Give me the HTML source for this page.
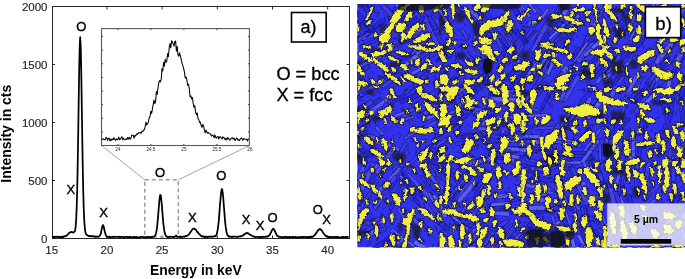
<!DOCTYPE html>
<html><head><meta charset="utf-8"><style>
html,body{margin:0;padding:0;background:#fff;}
body{width:685px;height:279px;position:relative;overflow:hidden;font-family:"Liberation Sans",sans-serif;}
</style></head><body>
<svg width="685" height="279" viewBox="0 0 685 279" style="position:absolute;left:0;top:0;will-change:transform">
<g stroke="#262626" stroke-width="1" fill="none" shape-rendering="crispEdges">
<path d="M52,6.5H349.5V238.5H52Z" stroke-width="1"/>
</g>
<path d="M106.90,238.5v-3M106.90,6.5v3M162.10,238.5v-3M162.10,6.5v3M217.30,238.5v-3M217.30,6.5v3M272.50,238.5v-3M272.50,6.5v3M327.70,238.5v-3M327.70,6.5v3M52,180.50h3M349.5,180.50h-3M52,122.50h3M349.5,122.50h-3M52,64.50h3M349.5,64.50h-3" stroke="#262626" stroke-width="1" fill="none"/>
<g font-family="Liberation Sans" font-size="11.5" fill="#262626" stroke="#262626" stroke-width="0.15">
<text x="51.70" y="253.5" text-anchor="middle">15</text>
<text x="106.90" y="253.5" text-anchor="middle">20</text>
<text x="162.10" y="253.5" text-anchor="middle">25</text>
<text x="217.30" y="253.5" text-anchor="middle">30</text>
<text x="272.50" y="253.5" text-anchor="middle">35</text>
<text x="327.70" y="253.5" text-anchor="middle">40</text>
<text x="47.5" y="242.50" text-anchor="end">0</text>
<text x="47.5" y="184.50" text-anchor="end">500</text>
<text x="47.5" y="126.50" text-anchor="end">1000</text>
<text x="47.5" y="68.50" text-anchor="end">1500</text>
<text x="47.5" y="10.50" text-anchor="end">2000</text>
</g>
<text x="195.9" y="275.0" text-anchor="middle" font-family="Liberation Sans" font-weight="bold" font-size="13.9" fill="#000">Energy in keV</text>
<text transform="translate(10.8,133.7) rotate(-90)" text-anchor="middle" font-family="Liberation Sans" font-weight="bold" font-size="14.0" fill="#000">Intensity in cts</text>
<path d="M101.5,145.5L144.8,179.8M249.4,145.5L178.3,179.8" stroke="#8c8c8c" stroke-width="0.8" fill="none"/>
<rect x="144.8" y="179.8" width="33.5" height="57" stroke="#9a9a9a" stroke-width="1.5" stroke-dasharray="4,3" fill="none"/>
<polyline points="52.20,236.94 52.70,236.81 53.20,237.16 53.70,236.75 54.20,237.07 54.70,236.94 55.20,236.72 55.70,237.03 56.20,236.69 56.70,236.96 57.20,236.70 57.70,236.71 58.20,236.93 58.70,237.20 59.20,236.70 59.70,236.76 60.20,237.03 60.70,237.24 61.20,236.96 61.70,236.81 62.20,237.19 62.70,236.50 63.20,237.02 63.70,236.56 64.20,236.36 64.70,236.21 65.20,236.18 65.70,236.31 66.20,235.58 66.70,235.52 67.20,235.15 67.70,234.51 68.20,234.15 68.70,233.32 69.20,232.84 69.70,232.52 70.20,232.51 70.70,232.09 71.20,231.88 71.70,232.05 72.20,232.03 72.70,232.05 73.20,232.53 73.70,232.51 74.20,231.99 74.70,231.49 75.20,229.65 75.70,226.17 76.20,219.14 76.70,207.15 77.20,189.77 77.70,164.42 78.20,133.91 78.70,100.49 79.20,68.60 79.70,45.98 80.20,37.24 80.70,46.13 81.20,69.07 81.70,100.43 82.20,134.36 82.70,164.76 83.20,189.88 83.70,207.83 84.20,219.70 84.70,226.80 85.20,231.12 85.70,233.36 86.20,234.18 86.70,234.95 87.20,234.91 87.70,235.62 88.20,235.78 88.70,236.19 89.20,236.20 89.70,235.94 90.20,236.10 90.70,236.39 91.20,236.00 91.70,236.37 92.20,236.22 92.70,236.23 93.20,236.23 93.70,236.76 94.20,236.35 94.70,236.45 95.20,236.57 95.70,236.92 96.20,236.38 96.70,236.64 97.20,236.70 97.70,236.91 98.20,236.83 98.70,236.76 99.20,236.14 99.70,235.80 100.20,234.95 100.70,233.96 101.20,232.06 101.70,229.13 102.20,226.82 102.70,225.29 103.20,225.14 103.70,226.66 104.20,228.99 104.70,231.18 105.20,233.07 105.70,234.86 106.20,235.75 106.70,236.41 107.20,236.94 107.70,236.89 108.20,236.84 108.70,236.96 109.20,237.03 109.70,236.62 110.20,237.23 110.70,237.17 111.20,237.25 111.70,237.21 112.20,236.93 112.70,236.95 113.20,236.75 113.70,237.13 114.20,236.74 114.70,236.75 115.20,236.85 115.70,236.82 116.20,236.95 116.70,236.75 117.20,236.72 117.70,236.83 118.20,236.80 118.70,236.99 119.20,236.75 119.70,237.35 120.20,237.17 120.70,236.85 121.20,236.92 121.70,236.99 122.20,237.00 122.70,236.84 123.20,237.34 123.70,237.45 124.20,237.08 124.70,237.09 125.20,236.82 125.70,236.83 126.20,237.00 126.70,236.94 127.20,237.34 127.70,236.87 128.20,236.78 128.70,237.43 129.20,237.13 129.70,236.86 130.20,237.14 130.70,236.78 131.20,237.13 131.70,237.45 132.20,237.36 132.70,237.25 133.20,236.94 133.70,237.02 134.20,236.88 134.70,237.30 135.20,237.13 135.70,237.30 136.20,236.99 136.70,236.91 137.20,237.32 137.70,237.44 138.20,237.35 138.70,237.31 139.20,237.32 139.70,237.26 140.20,236.90 140.70,237.10 141.20,236.99 141.70,236.75 142.20,236.75 142.70,236.92 143.20,236.90 143.70,237.20 144.20,237.38 144.70,237.02 145.20,237.36 145.70,237.39 146.20,237.36 146.70,236.94 147.20,236.83 147.70,236.82 148.20,236.79 148.70,236.78 149.20,237.06 149.70,237.24 150.20,237.18 150.70,236.91 151.20,237.00 151.70,237.08 152.20,236.54 152.70,236.90 153.20,237.00 153.70,236.79 154.20,236.56 154.70,236.00 155.20,235.13 155.70,234.43 156.20,232.29 156.70,229.86 157.20,226.10 157.70,220.68 158.20,214.72 158.70,208.71 159.20,202.53 159.70,197.42 160.20,194.90 160.70,195.21 161.20,198.73 161.70,203.71 162.20,209.42 162.70,216.26 163.20,222.17 163.70,226.74 164.20,230.16 164.70,232.85 165.20,234.22 165.70,235.15 166.20,236.41 166.70,236.52 167.20,236.61 167.70,237.00 168.20,236.71 168.70,237.06 169.20,237.06 169.70,236.66 170.20,236.70 170.70,236.75 171.20,236.73 171.70,236.98 172.20,236.76 172.70,236.88 173.20,236.69 173.70,237.23 174.20,236.82 174.70,236.74 175.20,236.33 175.70,235.90 176.20,235.47 176.70,236.43 177.20,236.70 177.70,236.93 178.20,236.95 178.70,236.60 179.20,236.88 179.70,236.70 180.20,236.56 180.70,237.10 181.20,236.65 181.70,236.84 182.20,236.99 182.70,236.84 183.20,236.65 183.70,236.73 184.20,236.69 184.70,236.77 185.20,236.19 185.70,236.37 186.20,235.97 186.70,235.76 187.20,235.83 187.70,235.29 188.20,234.91 188.70,234.56 189.20,234.10 189.70,233.14 190.20,232.58 190.70,231.78 191.20,231.05 191.70,230.46 192.20,229.63 192.70,229.13 193.20,228.68 193.70,228.77 194.20,228.58 194.70,228.89 195.20,229.32 195.70,229.37 196.20,230.22 196.70,231.20 197.20,231.86 197.70,232.09 198.20,232.77 198.70,233.64 199.20,233.95 199.70,234.57 200.20,234.89 200.70,235.66 201.20,236.04 201.70,236.35 202.20,236.02 202.70,236.56 203.20,236.63 203.70,236.35 204.20,236.93 204.70,237.03 205.20,236.55 205.70,237.08 206.20,236.72 206.70,236.79 207.20,237.15 207.70,237.05 208.20,236.58 208.70,236.77 209.20,236.83 209.70,236.70 210.20,236.60 210.70,236.67 211.20,236.94 211.70,236.43 212.20,236.78 212.70,236.68 213.20,236.35 213.70,236.51 214.20,236.64 214.70,236.43 215.20,235.89 215.70,236.14 216.20,235.33 216.70,234.36 217.20,232.02 217.70,229.55 218.20,225.78 218.70,221.56 219.20,215.43 219.70,208.82 220.20,202.34 220.70,196.58 221.20,191.87 221.70,189.06 222.20,189.26 222.70,192.71 223.20,197.48 223.70,203.86 224.20,210.14 224.70,216.52 225.20,222.55 225.70,226.88 226.20,230.02 226.70,233.03 227.20,234.41 227.70,235.53 228.20,235.63 228.70,236.52 229.20,236.18 229.70,236.86 230.20,236.65 230.70,236.62 231.20,236.80 231.70,237.09 232.20,236.66 232.70,236.58 233.20,236.87 233.70,236.68 234.20,236.60 234.70,236.65 235.20,236.58 235.70,236.68 236.20,236.76 236.70,236.75 237.20,237.06 237.70,236.72 238.20,236.84 238.70,236.58 239.20,236.65 239.70,236.35 240.20,236.42 240.70,236.13 241.20,236.47 241.70,236.14 242.20,235.64 242.70,235.54 243.20,235.52 243.70,234.57 244.20,234.67 244.70,234.00 245.20,233.66 245.70,233.56 246.20,233.00 246.70,232.94 247.20,233.05 247.70,233.38 248.20,233.17 248.70,233.83 249.20,234.12 249.70,234.48 250.20,234.72 250.70,235.06 251.20,235.21 251.70,235.57 252.20,235.79 252.70,236.48 253.20,236.31 253.70,236.38 254.20,236.43 254.70,237.04 255.20,237.12 255.70,237.02 256.20,236.78 256.70,236.78 257.20,236.83 257.70,236.96 258.20,236.76 258.70,236.97 259.20,236.84 259.70,237.34 260.20,237.35 260.70,237.05 261.20,236.84 261.70,237.34 262.20,236.88 262.70,236.91 263.20,236.66 263.70,236.92 264.20,236.97 264.70,236.98 265.20,236.75 265.70,236.94 266.20,236.56 266.70,236.68 267.20,236.47 267.70,236.54 268.20,236.06 268.70,235.69 269.20,235.39 269.70,234.66 270.20,234.03 270.70,232.96 271.20,231.98 271.70,230.78 272.20,229.83 272.70,229.26 273.20,228.67 273.70,228.87 274.20,230.02 274.70,230.43 275.20,231.97 275.70,233.05 276.20,233.67 276.70,235.09 277.20,235.81 277.70,236.13 278.20,236.56 278.70,236.85 279.20,236.53 279.70,236.89 280.20,236.94 280.70,237.21 281.20,237.21 281.70,237.25 282.20,237.09 282.70,237.32 283.20,237.19 283.70,237.20 284.20,236.88 284.70,236.75 285.20,236.83 285.70,236.99 286.20,236.82 286.70,237.34 287.20,237.15 287.70,237.20 288.20,237.20 288.70,237.24 289.20,237.11 289.70,236.77 290.20,237.33 290.70,237.29 291.20,237.12 291.70,237.15 292.20,237.24 292.70,236.82 293.20,237.29 293.70,236.95 294.20,236.83 294.70,236.96 295.20,237.29 295.70,236.92 296.20,237.29 296.70,237.46 297.20,237.12 297.70,237.04 298.20,237.11 298.70,237.25 299.20,237.31 299.70,237.20 300.20,237.22 300.70,236.82 301.20,236.87 301.70,236.94 302.20,237.28 302.70,236.97 303.20,237.15 303.70,236.76 304.20,236.79 304.70,236.93 305.20,237.21 305.70,237.21 306.20,237.20 306.70,236.92 307.20,237.07 307.70,237.02 308.20,237.01 308.70,236.76 309.20,237.28 309.70,236.77 310.20,237.29 310.70,237.21 311.20,236.51 311.70,236.73 312.20,236.87 312.70,236.81 313.20,236.23 313.70,235.81 314.20,235.40 314.70,235.46 315.20,234.40 315.70,234.01 316.20,232.98 316.70,232.47 317.20,231.97 317.70,230.61 318.20,230.38 318.70,229.57 319.20,229.43 319.70,229.13 320.20,228.88 320.70,229.66 321.20,229.89 321.70,230.24 322.20,230.99 322.70,232.13 323.20,232.90 323.70,233.54 324.20,234.10 324.70,234.84 325.20,235.31 325.70,236.08 326.20,235.81 326.70,236.58 327.20,236.83 327.70,236.46 328.20,237.12 328.70,237.04 329.20,237.22 329.70,236.83 330.20,236.92 330.70,236.95 331.20,237.39 331.70,237.12 332.20,236.97 332.70,237.02 333.20,236.93 333.70,236.77 334.20,236.82 334.70,237.34 335.20,236.96 335.70,237.42 336.20,236.94 336.70,236.96 337.20,237.13 337.70,236.91 338.20,237.04 338.70,237.45 339.20,237.41 339.70,237.36 340.20,237.23 340.70,237.43 341.20,237.46 341.70,237.18 342.20,237.30 342.70,236.84 343.20,237.32 343.70,237.12 344.20,237.33 344.70,237.26 345.20,237.01 345.70,236.85 346.20,237.46 346.70,236.90 347.20,237.14 347.70,237.06 348.20,237.02 348.70,237.33" fill="none" stroke="#000" stroke-width="1.75" stroke-linejoin="round"/>
<rect x="101.5" y="28.6" width="147.9" height="116.9" fill="#fff" stroke="#5a5a5a" stroke-width="1.1"/>
<path d="M117.90,145.5v-1.5M117.90,28.6v1.5M150.90,145.5v-1.5M150.90,28.6v1.5M183.90,145.5v-1.5M183.90,28.6v1.5M216.90,145.5v-1.5M216.90,28.6v1.5M101.5,36.60h1.5M249.4,36.60h-1.5M101.5,50.20h1.5M249.4,50.20h-1.5M101.5,63.80h1.5M249.4,63.80h-1.5M101.5,77.40h1.5M249.4,77.40h-1.5M101.5,91.00h1.5M249.4,91.00h-1.5M101.5,104.60h1.5M249.4,104.60h-1.5M101.5,118.20h1.5M249.4,118.20h-1.5M101.5,131.80h1.5M249.4,131.80h-1.5" stroke="#444" stroke-width="1" fill="none"/>
<g font-family="Liberation Sans" font-size="4.6" fill="#222" text-anchor="middle">
<text x="117.90" y="151">24</text>
<text x="150.90" y="151">24.5</text>
<text x="183.90" y="151">25</text>
<text x="216.90" y="151">25.5</text>
<text x="249.90" y="151">26</text>
</g>
<polyline points="102.00,138.53 102.80,139.57 103.60,138.94 104.40,139.73 105.20,139.78 106.00,137.81 106.80,137.59 107.60,140.46 108.40,138.40 109.20,138.28 110.00,140.95 110.80,139.05 111.60,140.33 112.40,139.01 113.20,139.56 114.00,137.77 114.80,139.48 115.60,140.29 116.40,138.99 117.20,139.75 118.00,139.45 118.80,137.16 119.60,139.68 120.40,139.00 121.20,137.85 122.00,136.76 122.80,139.85 123.60,138.28 124.40,139.14 125.20,139.67 126.00,138.93 126.80,139.64 127.60,137.44 128.40,138.92 129.20,137.33 130.00,139.16 130.80,138.75 131.60,135.27 132.40,135.17 133.20,135.21 134.00,138.16 134.80,135.49 135.60,135.96 136.40,134.03 137.20,134.50 138.00,133.37 138.80,132.59 139.60,133.07 140.40,132.33 141.20,133.19 142.00,131.15 142.80,131.54 143.60,130.10 144.40,129.73 145.20,126.62 146.00,122.16 146.80,124.92 147.60,124.00 148.40,121.92 149.20,117.85 150.00,116.84 150.80,111.18 151.60,113.36 152.40,109.11 153.20,104.40 154.00,100.00 154.80,103.51 155.60,101.85 156.40,91.45 157.20,94.47 158.00,88.03 158.80,82.55 159.60,80.63 160.40,81.83 161.20,79.68 162.00,68.58 162.80,71.00 163.60,62.29 164.40,66.09 165.20,59.31 166.00,62.32 166.80,60.90 167.60,53.60 168.40,56.80 169.20,47.57 170.00,43.47 170.80,47.89 171.60,40.71 172.40,41.90 173.20,43.91 174.00,46.18 174.80,41.57 175.60,41.05 176.40,51.10 177.20,46.41 178.00,55.00 178.80,56.20 179.60,52.81 180.40,56.05 181.20,59.23 182.00,63.21 182.80,65.57 183.60,68.17 184.40,71.82 185.20,78.01 186.00,77.01 186.80,79.49 187.60,85.31 188.40,84.13 189.20,87.85 190.00,96.73 190.80,95.82 191.60,98.95 192.40,97.48 193.20,103.42 194.00,107.29 194.80,105.62 195.60,112.37 196.40,114.70 197.20,112.87 198.00,118.72 198.80,119.51 199.60,122.60 200.40,122.16 201.20,125.81 202.00,127.34 202.80,124.48 203.60,125.93 204.40,130.40 205.20,132.88 206.00,130.00 206.80,131.87 207.60,133.28 208.40,132.60 209.20,133.41 210.00,133.71 210.80,134.46 211.60,135.92 212.40,134.98 213.20,135.67 214.00,137.68 214.80,134.77 215.60,137.31 216.40,138.20 217.20,136.65 218.00,136.48 218.80,138.97 219.60,136.85 220.40,136.79 221.20,137.87 222.00,138.99 222.80,136.79 223.60,137.72 224.40,137.85 225.20,139.81 226.00,138.38 226.80,140.00 227.60,137.50 228.40,138.18 229.20,139.38 230.00,140.29 230.80,138.74 231.60,137.96 232.40,137.63 233.20,139.14 234.00,137.96 234.80,140.20 235.60,140.34 236.40,138.04 237.20,138.41 238.00,140.31 238.80,139.75 239.60,140.35 240.40,138.76 241.20,138.04 242.00,138.63 242.80,140.39 243.60,138.61 244.40,138.89 245.20,139.15 246.00,139.18 246.80,139.17 247.60,140.93 248.40,138.34" fill="none" stroke="#000" stroke-width="1.05" stroke-linejoin="round"/>
<g font-family="Liberation Sans" font-size="13" fill="#000" stroke="#000" stroke-width="0.4" text-anchor="middle">
<text x="81.4" y="30.9">O</text>
<text x="70.8" y="193.7">X</text>
<text x="103.6" y="217.3">X</text>
<text x="160.0" y="177.0">O</text>
<text x="192.3" y="221.6">X</text>
<text x="221.3" y="179.5">O</text>
<text x="246.2" y="223.7">X</text>
<text x="260.0" y="229.7">X</text>
<text x="272.5" y="222.1">O</text>
<text x="317.9" y="214.4">O</text>
<text x="326.6" y="223.7">X</text>
</g>
<g font-family="Liberation Sans" font-size="18.2" fill="#000" stroke="#000" stroke-width="0.35">
<text x="276.4" y="80.3">O = bcc</text>
<text x="276.4" y="100.9">X = fcc</text>
</g>
<rect x="291.5" y="12.5" width="34.7" height="29.5" fill="#fff" stroke="#000" stroke-width="1.6"/>
<text x="308.6" y="33.2" text-anchor="middle" font-family="Liberation Sans" font-size="18" fill="#000" stroke="#000" stroke-width="0.3">a)</text>
<defs><clipPath id="mc"><rect x="357.2" y="4" width="327.8" height="243.5"/></clipPath><filter id="bl" x="-5%" y="-5%" width="110%" height="110%"><feGaussianBlur stdDeviation="1.2"/></filter><filter id="bl2" x="-20%" y="-20%" width="140%" height="140%"><feGaussianBlur stdDeviation="0.6"/></filter><filter id="rg" x="-5%" y="-5%" width="110%" height="110%"><feTurbulence type="fractalNoise" baseFrequency="0.3" numOctaves="2" seed="4" result="t"/><feDisplacementMap in="SourceGraphic" in2="t" scale="4.5" xChannelSelector="R" yChannelSelector="G" result="d"/><feGaussianBlur in="d" stdDeviation="0.35"/></filter></defs>
<g clip-path="url(#mc)">
<rect x="357.2" y="4" width="327.8" height="243.5" fill="#3232ee"/>
<g fill="none" stroke-linecap="round"><path d="M583.9,71.2L598.0,55.4" stroke="#12123a" stroke-opacity="0.75" stroke-width="3.7"/><path d="M583.9,71.2L598.0,55.4" stroke="#2929e0" stroke-width="2.7"/><path d="M591.6,23.7L601.1,5.8" stroke="#12123a" stroke-opacity="0.75" stroke-width="5.1"/><path d="M591.6,23.7L601.1,5.8" stroke="#4242ed" stroke-width="4.1"/><path d="M442.3,231.4L449.3,236.0" stroke="#12123a" stroke-opacity="0.75" stroke-width="3.7"/><path d="M442.3,231.4L449.3,236.0" stroke="#3737e7" stroke-width="2.7"/><path d="M361.5,47.1L379.9,37.8" stroke="#12123a" stroke-opacity="0.75" stroke-width="3.3"/><path d="M361.5,47.1L379.9,37.8" stroke="#3232e4" stroke-width="2.3"/><path d="M651.2,238.9L658.2,261.0" stroke="#12123a" stroke-opacity="0.75" stroke-width="4.5"/><path d="M651.2,238.9L658.2,261.0" stroke="#2828df" stroke-width="3.5"/><path d="M355.9,-8.4L368.1,11.6" stroke="#12123a" stroke-opacity="0.75" stroke-width="5.4"/><path d="M355.9,-8.4L368.1,11.6" stroke="#2626de" stroke-width="4.4"/><path d="M562.8,127.2L572.4,115.6" stroke="#12123a" stroke-opacity="0.75" stroke-width="5.5"/><path d="M562.8,127.2L572.4,115.6" stroke="#2626de" stroke-width="4.5"/><path d="M524.8,185.1L548.7,189.2" stroke="#12123a" stroke-opacity="0.75" stroke-width="4.8"/><path d="M524.8,185.1L548.7,189.2" stroke="#5050f4" stroke-width="3.8"/><path d="M654.2,98.6L671.6,76.9" stroke="#12123a" stroke-opacity="0.75" stroke-width="5.2"/><path d="M654.2,98.6L671.6,76.9" stroke="#3535e6" stroke-width="4.2"/><path d="M616.7,209.5L624.0,230.0" stroke="#12123a" stroke-opacity="0.75" stroke-width="4.0"/><path d="M616.7,209.5L624.0,230.0" stroke="#4040eb" stroke-width="3.0"/><path d="M549.1,29.5L567.3,5.8" stroke="#12123a" stroke-opacity="0.75" stroke-width="5.2"/><path d="M549.1,29.5L567.3,5.8" stroke="#4b4bf1" stroke-width="4.2"/><path d="M476.9,193.2L488.8,180.1" stroke="#12123a" stroke-opacity="0.75" stroke-width="5.1"/><path d="M476.9,193.2L488.8,180.1" stroke="#2727de" stroke-width="4.1"/><path d="M601.0,12.1L612.1,-2.8" stroke="#12123a" stroke-opacity="0.75" stroke-width="3.6"/><path d="M601.0,12.1L612.1,-2.8" stroke="#4848f0" stroke-width="2.6"/><path d="M513.4,154.2L526.7,156.9" stroke="#12123a" stroke-opacity="0.75" stroke-width="3.0"/><path d="M513.4,154.2L526.7,156.9" stroke="#2f2fe2" stroke-width="2.0"/><path d="M575.7,61.8L588.1,36.7" stroke="#12123a" stroke-opacity="0.75" stroke-width="4.6"/><path d="M575.7,61.8L588.1,36.7" stroke="#3636e6" stroke-width="3.6"/><path d="M651.1,86.2L658.8,76.5" stroke="#12123a" stroke-opacity="0.75" stroke-width="4.1"/><path d="M651.1,86.2L658.8,76.5" stroke="#5151f5" stroke-width="3.1"/><path d="M656.1,232.2L669.2,216.0" stroke="#12123a" stroke-opacity="0.75" stroke-width="3.8"/><path d="M656.1,232.2L669.2,216.0" stroke="#2828df" stroke-width="2.8"/><path d="M508.1,211.3L531.5,214.7" stroke="#12123a" stroke-opacity="0.75" stroke-width="5.4"/><path d="M508.1,211.3L531.5,214.7" stroke="#2d2de2" stroke-width="4.4"/><path d="M402.7,117.0L413.0,109.5" stroke="#12123a" stroke-opacity="0.75" stroke-width="4.0"/><path d="M402.7,117.0L413.0,109.5" stroke="#4343ed" stroke-width="3.0"/><path d="M508.9,89.3L528.9,67.4" stroke="#12123a" stroke-opacity="0.75" stroke-width="4.1"/><path d="M508.9,89.3L528.9,67.4" stroke="#2626de" stroke-width="3.1"/><path d="M351.3,229.3L370.2,215.1" stroke="#12123a" stroke-opacity="0.75" stroke-width="4.4"/><path d="M351.3,229.3L370.2,215.1" stroke="#2f2fe3" stroke-width="3.4"/><path d="M616.8,10.1L624.6,-6.2" stroke="#12123a" stroke-opacity="0.75" stroke-width="3.1"/><path d="M616.8,10.1L624.6,-6.2" stroke="#5353f6" stroke-width="2.1"/><path d="M423.1,26.1L439.3,40.6" stroke="#12123a" stroke-opacity="0.75" stroke-width="4.1"/><path d="M423.1,26.1L439.3,40.6" stroke="#4343ed" stroke-width="3.1"/><path d="M572.0,194.0L576.1,216.7" stroke="#12123a" stroke-opacity="0.75" stroke-width="3.5"/><path d="M572.0,194.0L576.1,216.7" stroke="#3838e8" stroke-width="2.5"/><path d="M402.7,8.1L419.5,-8.6" stroke="#12123a" stroke-opacity="0.75" stroke-width="3.4"/><path d="M402.7,8.1L419.5,-8.6" stroke="#2d2de2" stroke-width="2.4"/><path d="M461.2,185.0L475.3,168.8" stroke="#12123a" stroke-opacity="0.75" stroke-width="4.9"/><path d="M461.2,185.0L475.3,168.8" stroke="#3333e5" stroke-width="3.9"/><path d="M613.5,218.6L628.2,243.0" stroke="#12123a" stroke-opacity="0.75" stroke-width="4.8"/><path d="M613.5,218.6L628.2,243.0" stroke="#2828df" stroke-width="3.8"/><path d="M497.1,156.8L513.1,160.0" stroke="#12123a" stroke-opacity="0.75" stroke-width="4.4"/><path d="M497.1,156.8L513.1,160.0" stroke="#5858f8" stroke-width="3.4"/><path d="M618.3,230.3L626.7,251.0" stroke="#12123a" stroke-opacity="0.75" stroke-width="3.5"/><path d="M618.3,230.3L626.7,251.0" stroke="#4a4af1" stroke-width="2.5"/><path d="M629.0,168.8L630.7,156.3" stroke="#12123a" stroke-opacity="0.75" stroke-width="5.2"/><path d="M629.0,168.8L630.7,156.3" stroke="#6262fd" stroke-width="4.2"/><path d="M683.0,143.0L685.5,128.1" stroke="#12123a" stroke-opacity="0.75" stroke-width="5.3"/><path d="M683.0,143.0L685.5,128.1" stroke="#5656f7" stroke-width="4.3"/><path d="M462.9,10.5L475.5,26.2" stroke="#12123a" stroke-opacity="0.75" stroke-width="4.9"/><path d="M462.9,10.5L475.5,26.2" stroke="#3939e8" stroke-width="3.9"/><path d="M349.4,213.4L370.0,198.2" stroke="#12123a" stroke-opacity="0.75" stroke-width="3.4"/><path d="M349.4,213.4L370.0,198.2" stroke="#3030e3" stroke-width="2.4"/><path d="M615.3,42.0L623.7,24.5" stroke="#12123a" stroke-opacity="0.75" stroke-width="4.8"/><path d="M615.3,42.0L623.7,24.5" stroke="#5454f6" stroke-width="3.8"/><path d="M580.5,227.6L591.0,254.4" stroke="#12123a" stroke-opacity="0.75" stroke-width="3.2"/><path d="M580.5,227.6L591.0,254.4" stroke="#2b2be0" stroke-width="2.2"/><path d="M523.1,80.4L537.2,63.4" stroke="#12123a" stroke-opacity="0.75" stroke-width="4.3"/><path d="M523.1,80.4L537.2,63.4" stroke="#5555f7" stroke-width="3.3"/><path d="M534.6,88.8L548.4,66.1" stroke="#12123a" stroke-opacity="0.75" stroke-width="5.3"/><path d="M534.6,88.8L548.4,66.1" stroke="#2b2be0" stroke-width="4.3"/><path d="M637.3,237.2L644.6,256.5" stroke="#12123a" stroke-opacity="0.75" stroke-width="3.5"/><path d="M637.3,237.2L644.6,256.5" stroke="#3c3cea" stroke-width="2.5"/><path d="M507.6,155.7L536.5,150.6" stroke="#12123a" stroke-opacity="0.75" stroke-width="4.3"/><path d="M507.6,155.7L536.5,150.6" stroke="#3434e5" stroke-width="3.3"/><path d="M623.5,153.8L624.5,130.6" stroke="#12123a" stroke-opacity="0.75" stroke-width="3.2"/><path d="M623.5,153.8L624.5,130.6" stroke="#3d3dea" stroke-width="2.2"/><path d="M485.8,247.9L497.2,239.8" stroke="#12123a" stroke-opacity="0.75" stroke-width="4.2"/><path d="M485.8,247.9L497.2,239.8" stroke="#2828df" stroke-width="3.2"/><path d="M489.2,205.9L507.4,209.0" stroke="#12123a" stroke-opacity="0.75" stroke-width="3.8"/><path d="M489.2,205.9L507.4,209.0" stroke="#2a2ae0" stroke-width="2.8"/><path d="M555.0,224.8L567.6,246.6" stroke="#12123a" stroke-opacity="0.75" stroke-width="3.1"/><path d="M555.0,224.8L567.6,246.6" stroke="#2a2ae0" stroke-width="2.1"/><path d="M422.2,168.6L433.3,179.9" stroke="#12123a" stroke-opacity="0.75" stroke-width="4.5"/><path d="M422.2,168.6L433.3,179.9" stroke="#2727de" stroke-width="3.5"/><path d="M596.1,34.3L603.8,23.1" stroke="#12123a" stroke-opacity="0.75" stroke-width="3.5"/><path d="M596.1,34.3L603.8,23.1" stroke="#3c3ce9" stroke-width="2.5"/><path d="M489.6,94.1L509.2,93.8" stroke="#12123a" stroke-opacity="0.75" stroke-width="3.4"/><path d="M489.6,94.1L509.2,93.8" stroke="#2a2ae0" stroke-width="2.4"/><path d="M552.6,161.2L579.3,162.2" stroke="#12123a" stroke-opacity="0.75" stroke-width="4.5"/><path d="M552.6,161.2L579.3,162.2" stroke="#5656f7" stroke-width="3.5"/><path d="M422.0,176.4L437.2,199.8" stroke="#12123a" stroke-opacity="0.75" stroke-width="3.8"/><path d="M422.0,176.4L437.2,199.8" stroke="#2f2fe3" stroke-width="2.8"/><path d="M655.7,62.8L675.5,43.7" stroke="#12123a" stroke-opacity="0.75" stroke-width="3.3"/><path d="M655.7,62.8L675.5,43.7" stroke="#2c2ce1" stroke-width="2.3"/><path d="M593.0,75.9L603.9,52.0" stroke="#12123a" stroke-opacity="0.75" stroke-width="4.1"/><path d="M593.0,75.9L603.9,52.0" stroke="#5050f4" stroke-width="3.1"/><path d="M389.2,102.6L396.9,99.2" stroke="#12123a" stroke-opacity="0.75" stroke-width="3.5"/><path d="M389.2,102.6L396.9,99.2" stroke="#4747ef" stroke-width="2.5"/><path d="M656.5,254.9L666.8,238.8" stroke="#12123a" stroke-opacity="0.75" stroke-width="4.9"/><path d="M656.5,254.9L666.8,238.8" stroke="#3a3ae8" stroke-width="3.9"/><path d="M582.4,50.5L586.6,41.0" stroke="#12123a" stroke-opacity="0.75" stroke-width="3.1"/><path d="M582.4,50.5L586.6,41.0" stroke="#3d3dea" stroke-width="2.1"/><path d="M520.1,144.5L532.1,143.0" stroke="#12123a" stroke-opacity="0.75" stroke-width="3.5"/><path d="M520.1,144.5L532.1,143.0" stroke="#5454f6" stroke-width="2.5"/><path d="M686.2,240.1L691.2,232.2" stroke="#12123a" stroke-opacity="0.75" stroke-width="5.4"/><path d="M686.2,240.1L691.2,232.2" stroke="#3838e7" stroke-width="4.4"/><path d="M606.2,89.4L616.9,73.2" stroke="#12123a" stroke-opacity="0.75" stroke-width="4.1"/><path d="M606.2,89.4L616.9,73.2" stroke="#4141ec" stroke-width="3.1"/><path d="M350.6,182.4L358.4,173.3" stroke="#12123a" stroke-opacity="0.75" stroke-width="4.1"/><path d="M350.6,182.4L358.4,173.3" stroke="#4c4cf2" stroke-width="3.1"/><path d="M481.8,40.6L495.5,54.1" stroke="#12123a" stroke-opacity="0.75" stroke-width="3.0"/><path d="M481.8,40.6L495.5,54.1" stroke="#5959f9" stroke-width="2.0"/><path d="M622.0,189.5L626.3,168.1" stroke="#12123a" stroke-opacity="0.75" stroke-width="4.0"/><path d="M622.0,189.5L626.3,168.1" stroke="#4141ec" stroke-width="3.0"/><path d="M517.1,254.8L527.8,246.3" stroke="#12123a" stroke-opacity="0.75" stroke-width="5.3"/><path d="M517.1,254.8L527.8,246.3" stroke="#4c4cf2" stroke-width="4.3"/><path d="M610.6,194.5L621.6,219.9" stroke="#12123a" stroke-opacity="0.75" stroke-width="5.2"/><path d="M610.6,194.5L621.6,219.9" stroke="#4848f0" stroke-width="4.2"/><path d="M607.6,183.5L617.2,205.4" stroke="#12123a" stroke-opacity="0.75" stroke-width="3.2"/><path d="M607.6,183.5L617.2,205.4" stroke="#3131e3" stroke-width="2.2"/><path d="M503.1,-8.6L517.5,8.1" stroke="#12123a" stroke-opacity="0.75" stroke-width="4.6"/><path d="M503.1,-8.6L517.5,8.1" stroke="#2b2be1" stroke-width="3.6"/><path d="M673.3,180.1L672.8,157.6" stroke="#12123a" stroke-opacity="0.75" stroke-width="4.4"/><path d="M673.3,180.1L672.8,157.6" stroke="#3c3cea" stroke-width="3.4"/><path d="M474.6,262.8L491.9,247.1" stroke="#12123a" stroke-opacity="0.75" stroke-width="4.9"/><path d="M474.6,262.8L491.9,247.1" stroke="#6262fd" stroke-width="3.9"/><path d="M352.7,151.2L362.9,160.3" stroke="#12123a" stroke-opacity="0.75" stroke-width="4.0"/><path d="M352.7,151.2L362.9,160.3" stroke="#2626de" stroke-width="3.0"/><path d="M411.7,98.3L422.0,89.5" stroke="#12123a" stroke-opacity="0.75" stroke-width="5.3"/><path d="M411.7,98.3L422.0,89.5" stroke="#3d3dea" stroke-width="4.3"/><path d="M512.9,256.9L534.4,236.1" stroke="#12123a" stroke-opacity="0.75" stroke-width="4.6"/><path d="M512.9,256.9L534.4,236.1" stroke="#5252f5" stroke-width="3.6"/><path d="M372.7,148.2L379.4,154.2" stroke="#12123a" stroke-opacity="0.75" stroke-width="5.3"/><path d="M372.7,148.2L379.4,154.2" stroke="#2929df" stroke-width="4.3"/><path d="M504.8,32.1L517.9,49.2" stroke="#12123a" stroke-opacity="0.75" stroke-width="3.1"/><path d="M504.8,32.1L517.9,49.2" stroke="#5e5efc" stroke-width="2.1"/><path d="M485.9,132.4L501.9,133.4" stroke="#12123a" stroke-opacity="0.75" stroke-width="3.7"/><path d="M485.9,132.4L501.9,133.4" stroke="#4545ee" stroke-width="2.7"/><path d="M537.1,75.8L546.3,64.5" stroke="#12123a" stroke-opacity="0.75" stroke-width="3.0"/><path d="M537.1,75.8L546.3,64.5" stroke="#2c2ce1" stroke-width="2.0"/><path d="M356.7,39.9L372.5,34.9" stroke="#12123a" stroke-opacity="0.75" stroke-width="5.2"/><path d="M356.7,39.9L372.5,34.9" stroke="#4c4cf2" stroke-width="4.2"/><path d="M362.5,253.4L371.8,250.8" stroke="#12123a" stroke-opacity="0.75" stroke-width="5.3"/><path d="M362.5,253.4L371.8,250.8" stroke="#3636e6" stroke-width="4.3"/><path d="M507.3,255.7L519.4,240.4" stroke="#12123a" stroke-opacity="0.75" stroke-width="5.3"/><path d="M507.3,255.7L519.4,240.4" stroke="#4a4af1" stroke-width="4.3"/><path d="M501.8,256.1L518.6,243.0" stroke="#12123a" stroke-opacity="0.75" stroke-width="3.3"/><path d="M501.8,256.1L518.6,243.0" stroke="#4343ed" stroke-width="2.3"/><path d="M498.6,43.0L513.1,56.1" stroke="#12123a" stroke-opacity="0.75" stroke-width="3.3"/><path d="M498.6,43.0L513.1,56.1" stroke="#3636e6" stroke-width="2.3"/><path d="M573.5,123.7L583.4,105.4" stroke="#12123a" stroke-opacity="0.75" stroke-width="4.0"/><path d="M573.5,123.7L583.4,105.4" stroke="#4f4ff4" stroke-width="3.0"/><path d="M521.6,261.3L541.4,247.5" stroke="#12123a" stroke-opacity="0.75" stroke-width="3.6"/><path d="M521.6,261.3L541.4,247.5" stroke="#2727df" stroke-width="2.6"/><path d="M649.7,205.0L660.9,193.7" stroke="#12123a" stroke-opacity="0.75" stroke-width="3.7"/><path d="M649.7,205.0L660.9,193.7" stroke="#4747f0" stroke-width="2.7"/><path d="M530.9,148.7L555.4,150.6" stroke="#12123a" stroke-opacity="0.75" stroke-width="3.5"/><path d="M530.9,148.7L555.4,150.6" stroke="#2c2ce1" stroke-width="2.5"/><path d="M681.6,236.1L688.5,230.5" stroke="#12123a" stroke-opacity="0.75" stroke-width="3.2"/><path d="M681.6,236.1L688.5,230.5" stroke="#2d2de2" stroke-width="2.2"/><path d="M485.6,159.2L505.3,156.4" stroke="#12123a" stroke-opacity="0.75" stroke-width="3.2"/><path d="M485.6,159.2L505.3,156.4" stroke="#2727de" stroke-width="2.2"/><path d="M576.4,145.5L586.2,132.6" stroke="#12123a" stroke-opacity="0.75" stroke-width="4.2"/><path d="M576.4,145.5L586.2,132.6" stroke="#2b2be0" stroke-width="3.2"/><path d="M463.9,192.4L471.2,186.0" stroke="#12123a" stroke-opacity="0.75" stroke-width="3.3"/><path d="M463.9,192.4L471.2,186.0" stroke="#5252f5" stroke-width="2.3"/><path d="M559.2,187.7L567.4,203.0" stroke="#12123a" stroke-opacity="0.75" stroke-width="3.6"/><path d="M559.2,187.7L567.4,203.0" stroke="#5252f5" stroke-width="2.6"/><path d="M468.8,163.9L483.6,167.4" stroke="#12123a" stroke-opacity="0.75" stroke-width="4.4"/><path d="M468.8,163.9L483.6,167.4" stroke="#4c4cf2" stroke-width="3.4"/><path d="M665.0,112.4L664.9,102.3" stroke="#12123a" stroke-opacity="0.75" stroke-width="5.2"/><path d="M665.0,112.4L664.9,102.3" stroke="#2727de" stroke-width="4.2"/><path d="M369.0,135.9L387.8,149.3" stroke="#12123a" stroke-opacity="0.75" stroke-width="3.7"/><path d="M369.0,135.9L387.8,149.3" stroke="#4f4ff3" stroke-width="2.7"/><path d="M371.4,53.7L380.6,50.4" stroke="#12123a" stroke-opacity="0.75" stroke-width="3.8"/><path d="M371.4,53.7L380.6,50.4" stroke="#4b4bf1" stroke-width="2.8"/><path d="M583.9,77.1L590.8,62.8" stroke="#12123a" stroke-opacity="0.75" stroke-width="4.8"/><path d="M583.9,77.1L590.8,62.8" stroke="#3232e4" stroke-width="3.8"/><path d="M380.5,190.3L399.8,169.7" stroke="#12123a" stroke-opacity="0.75" stroke-width="5.3"/><path d="M380.5,190.3L399.8,169.7" stroke="#5b5bfa" stroke-width="4.3"/><path d="M492.3,204.8L507.3,203.6" stroke="#12123a" stroke-opacity="0.75" stroke-width="4.0"/><path d="M492.3,204.8L507.3,203.6" stroke="#5d5dfb" stroke-width="3.0"/><path d="M651.9,67.9L660.1,54.2" stroke="#12123a" stroke-opacity="0.75" stroke-width="3.9"/><path d="M651.9,67.9L660.1,54.2" stroke="#3434e5" stroke-width="2.9"/><path d="M475.1,36.9L490.0,57.7" stroke="#12123a" stroke-opacity="0.75" stroke-width="4.4"/><path d="M475.1,36.9L490.0,57.7" stroke="#5454f6" stroke-width="3.4"/><path d="M533.6,53.0L551.3,32.1" stroke="#12123a" stroke-opacity="0.75" stroke-width="3.7"/><path d="M533.6,53.0L551.3,32.1" stroke="#2626de" stroke-width="2.7"/><path d="M511.7,136.6L541.0,138.2" stroke="#12123a" stroke-opacity="0.75" stroke-width="4.6"/><path d="M511.7,136.6L541.0,138.2" stroke="#5151f5" stroke-width="3.6"/><path d="M368.3,134.7L375.5,141.4" stroke="#12123a" stroke-opacity="0.75" stroke-width="3.2"/><path d="M368.3,134.7L375.5,141.4" stroke="#4c4cf2" stroke-width="2.2"/><path d="M654.1,23.3L660.9,14.4" stroke="#12123a" stroke-opacity="0.75" stroke-width="4.9"/><path d="M654.1,23.3L660.9,14.4" stroke="#4545ee" stroke-width="3.9"/><path d="M425.3,58.4L442.6,49.3" stroke="#12123a" stroke-opacity="0.75" stroke-width="4.9"/><path d="M425.3,58.4L442.6,49.3" stroke="#3333e5" stroke-width="3.9"/><path d="M458.5,253.1L472.6,240.6" stroke="#12123a" stroke-opacity="0.75" stroke-width="4.3"/><path d="M458.5,253.1L472.6,240.6" stroke="#4a4af1" stroke-width="3.3"/><path d="M587.0,221.0L597.4,245.1" stroke="#12123a" stroke-opacity="0.75" stroke-width="4.7"/><path d="M587.0,221.0L597.4,245.1" stroke="#5656f7" stroke-width="3.7"/><path d="M622.6,197.9L628.6,226.4" stroke="#12123a" stroke-opacity="0.75" stroke-width="4.6"/><path d="M622.6,197.9L628.6,226.4" stroke="#3c3ce9" stroke-width="3.6"/><path d="M589.5,196.0L596.2,211.9" stroke="#12123a" stroke-opacity="0.75" stroke-width="3.4"/><path d="M589.5,196.0L596.2,211.9" stroke="#4c4cf2" stroke-width="2.4"/><path d="M689.5,100.1L688.4,87.7" stroke="#12123a" stroke-opacity="0.75" stroke-width="4.1"/><path d="M689.5,100.1L688.4,87.7" stroke="#2e2ee2" stroke-width="3.1"/><path d="M679.1,16.9L684.3,7.7" stroke="#12123a" stroke-opacity="0.75" stroke-width="4.6"/><path d="M679.1,16.9L684.3,7.7" stroke="#4f4ff3" stroke-width="3.6"/><path d="M404.0,20.5L418.7,5.7" stroke="#12123a" stroke-opacity="0.75" stroke-width="5.3"/><path d="M404.0,20.5L418.7,5.7" stroke="#2626de" stroke-width="4.3"/><path d="M381.5,47.9L392.8,41.3" stroke="#12123a" stroke-opacity="0.75" stroke-width="4.8"/><path d="M381.5,47.9L392.8,41.3" stroke="#4141ec" stroke-width="3.8"/><path d="M422.0,48.5L431.2,41.0" stroke="#12123a" stroke-opacity="0.75" stroke-width="4.9"/><path d="M422.0,48.5L431.2,41.0" stroke="#2f2fe3" stroke-width="3.9"/><path d="M530.6,207.9L544.4,207.8" stroke="#12123a" stroke-opacity="0.75" stroke-width="5.2"/><path d="M530.6,207.9L544.4,207.8" stroke="#5b5bfa" stroke-width="4.2"/><path d="M457.9,136.2L476.1,140.2" stroke="#12123a" stroke-opacity="0.75" stroke-width="3.6"/><path d="M457.9,136.2L476.1,140.2" stroke="#2626de" stroke-width="2.6"/><path d="M667.9,211.4L680.2,196.1" stroke="#12123a" stroke-opacity="0.75" stroke-width="4.3"/><path d="M667.9,211.4L680.2,196.1" stroke="#2d2de2" stroke-width="3.3"/><path d="M688.9,170.8L688.4,162.5" stroke="#12123a" stroke-opacity="0.75" stroke-width="4.2"/><path d="M688.9,170.8L688.4,162.5" stroke="#3232e4" stroke-width="3.2"/><path d="M622.0,186.7L623.0,175.3" stroke="#12123a" stroke-opacity="0.75" stroke-width="3.4"/><path d="M622.0,186.7L623.0,175.3" stroke="#3030e3" stroke-width="2.4"/><path d="M430.3,214.1L447.1,228.4" stroke="#12123a" stroke-opacity="0.75" stroke-width="5.5"/><path d="M430.3,214.1L447.1,228.4" stroke="#2d2de1" stroke-width="4.5"/><path d="M530.2,38.9L535.4,32.8" stroke="#12123a" stroke-opacity="0.75" stroke-width="5.1"/><path d="M530.2,38.9L535.4,32.8" stroke="#5555f7" stroke-width="4.1"/><path d="M625.5,28.7L636.9,7.8" stroke="#12123a" stroke-opacity="0.75" stroke-width="3.2"/><path d="M625.5,28.7L636.9,7.8" stroke="#3939e8" stroke-width="2.2"/><path d="M500.6,252.8L520.0,234.3" stroke="#12123a" stroke-opacity="0.75" stroke-width="3.8"/><path d="M500.6,252.8L520.0,234.3" stroke="#5050f4" stroke-width="2.8"/><path d="M485.2,244.3L500.0,222.7" stroke="#12123a" stroke-opacity="0.75" stroke-width="3.5"/><path d="M485.2,244.3L500.0,222.7" stroke="#3d3dea" stroke-width="2.5"/><path d="M524.8,43.2L534.8,32.1" stroke="#12123a" stroke-opacity="0.75" stroke-width="3.8"/><path d="M524.8,43.2L534.8,32.1" stroke="#2727de" stroke-width="2.8"/><path d="M447.4,121.0L461.7,114.1" stroke="#12123a" stroke-opacity="0.75" stroke-width="4.7"/><path d="M447.4,121.0L461.7,114.1" stroke="#2727de" stroke-width="3.7"/><path d="M472.0,113.3L497.6,119.0" stroke="#12123a" stroke-opacity="0.75" stroke-width="4.6"/><path d="M472.0,113.3L497.6,119.0" stroke="#2626de" stroke-width="3.6"/><path d="M473.2,188.6L484.7,171.7" stroke="#12123a" stroke-opacity="0.75" stroke-width="4.1"/><path d="M473.2,188.6L484.7,171.7" stroke="#2626de" stroke-width="3.1"/><path d="M683.0,212.1L695.3,194.4" stroke="#12123a" stroke-opacity="0.75" stroke-width="3.7"/><path d="M683.0,212.1L695.3,194.4" stroke="#3232e4" stroke-width="2.7"/><path d="M530.4,81.1L538.8,66.8" stroke="#12123a" stroke-opacity="0.75" stroke-width="4.7"/><path d="M530.4,81.1L538.8,66.8" stroke="#2d2de1" stroke-width="3.7"/><path d="M408.3,175.5L428.5,196.0" stroke="#12123a" stroke-opacity="0.75" stroke-width="4.4"/><path d="M408.3,175.5L428.5,196.0" stroke="#4a4af1" stroke-width="3.4"/><path d="M460.6,215.1L466.3,205.6" stroke="#12123a" stroke-opacity="0.75" stroke-width="3.2"/><path d="M460.6,215.1L466.3,205.6" stroke="#4747ef" stroke-width="2.2"/><path d="M585.3,54.6L599.2,32.2" stroke="#12123a" stroke-opacity="0.75" stroke-width="4.5"/><path d="M585.3,54.6L599.2,32.2" stroke="#2727de" stroke-width="3.5"/><path d="M421.3,43.3L433.7,31.7" stroke="#12123a" stroke-opacity="0.75" stroke-width="3.2"/><path d="M421.3,43.3L433.7,31.7" stroke="#5c5cfa" stroke-width="2.2"/><path d="M483.6,127.9L508.4,130.1" stroke="#12123a" stroke-opacity="0.75" stroke-width="5.1"/><path d="M483.6,127.9L508.4,130.1" stroke="#3333e5" stroke-width="4.1"/><path d="M457.1,109.0L469.5,97.7" stroke="#12123a" stroke-opacity="0.75" stroke-width="4.7"/><path d="M457.1,109.0L469.5,97.7" stroke="#6262fe" stroke-width="3.7"/><path d="M619.7,171.5L620.5,163.2" stroke="#12123a" stroke-opacity="0.75" stroke-width="3.8"/><path d="M619.7,171.5L620.5,163.2" stroke="#3131e3" stroke-width="2.8"/><path d="M567.6,32.6L577.5,16.2" stroke="#12123a" stroke-opacity="0.75" stroke-width="5.0"/><path d="M567.6,32.6L577.5,16.2" stroke="#5353f6" stroke-width="4.0"/><path d="M550.1,48.4L568.2,27.3" stroke="#12123a" stroke-opacity="0.75" stroke-width="4.4"/><path d="M550.1,48.4L568.2,27.3" stroke="#3131e4" stroke-width="3.4"/><path d="M511.7,45.1L530.5,22.1" stroke="#12123a" stroke-opacity="0.75" stroke-width="4.3"/><path d="M511.7,45.1L530.5,22.1" stroke="#4a4af1" stroke-width="3.3"/><path d="M628.1,55.6L643.4,40.2" stroke="#12123a" stroke-opacity="0.75" stroke-width="3.5"/><path d="M628.1,55.6L643.4,40.2" stroke="#2727de" stroke-width="2.5"/><path d="M426.8,149.1L440.5,142.4" stroke="#12123a" stroke-opacity="0.75" stroke-width="5.3"/><path d="M426.8,149.1L440.5,142.4" stroke="#3232e4" stroke-width="4.3"/><path d="M506.0,24.1L510.8,33.9" stroke="#12123a" stroke-opacity="0.75" stroke-width="5.3"/><path d="M506.0,24.1L510.8,33.9" stroke="#3d3dea" stroke-width="4.3"/><path d="M527.8,142.6L555.7,140.5" stroke="#12123a" stroke-opacity="0.75" stroke-width="5.5"/><path d="M527.8,142.6L555.7,140.5" stroke="#5252f5" stroke-width="4.5"/><path d="M550.9,34.0L560.5,23.3" stroke="#12123a" stroke-opacity="0.75" stroke-width="5.2"/><path d="M550.9,34.0L560.5,23.3" stroke="#2c2ce1" stroke-width="4.2"/><path d="M536.2,212.7L556.1,210.0" stroke="#12123a" stroke-opacity="0.75" stroke-width="3.2"/><path d="M536.2,212.7L556.1,210.0" stroke="#2626de" stroke-width="2.2"/><path d="M404.4,243.0L418.7,260.3" stroke="#12123a" stroke-opacity="0.75" stroke-width="3.8"/><path d="M404.4,243.0L418.7,260.3" stroke="#4646ef" stroke-width="2.8"/><path d="M594.7,105.8L609.9,85.1" stroke="#12123a" stroke-opacity="0.75" stroke-width="3.0"/><path d="M594.7,105.8L609.9,85.1" stroke="#2a2ae0" stroke-width="2.0"/><path d="M503.5,26.0L516.7,41.8" stroke="#12123a" stroke-opacity="0.75" stroke-width="3.4"/><path d="M503.5,26.0L516.7,41.8" stroke="#3b3be9" stroke-width="2.4"/><path d="M431.1,149.9L449.2,137.2" stroke="#12123a" stroke-opacity="0.75" stroke-width="3.1"/><path d="M431.1,149.9L449.2,137.2" stroke="#4646ef" stroke-width="2.1"/><path d="M392.7,238.3L406.3,250.7" stroke="#12123a" stroke-opacity="0.75" stroke-width="4.0"/><path d="M392.7,238.3L406.3,250.7" stroke="#4343ed" stroke-width="3.0"/><path d="M583.3,183.6L588.2,201.6" stroke="#12123a" stroke-opacity="0.75" stroke-width="5.5"/><path d="M583.3,183.6L588.2,201.6" stroke="#5454f6" stroke-width="4.5"/><path d="M636.9,111.1L647.9,93.9" stroke="#12123a" stroke-opacity="0.75" stroke-width="5.3"/><path d="M636.9,111.1L647.9,93.9" stroke="#3c3ce9" stroke-width="4.3"/><path d="M522.2,107.1L536.9,110.0" stroke="#12123a" stroke-opacity="0.75" stroke-width="3.1"/><path d="M522.2,107.1L536.9,110.0" stroke="#4b4bf1" stroke-width="2.1"/><path d="M649.3,194.7L666.4,177.0" stroke="#12123a" stroke-opacity="0.75" stroke-width="3.8"/><path d="M649.3,194.7L666.4,177.0" stroke="#4040ec" stroke-width="2.8"/><path d="M367.2,35.9L380.6,22.3" stroke="#12123a" stroke-opacity="0.75" stroke-width="4.0"/><path d="M367.2,35.9L380.6,22.3" stroke="#2626de" stroke-width="3.0"/><path d="M584.2,139.3L591.1,126.3" stroke="#12123a" stroke-opacity="0.75" stroke-width="4.0"/><path d="M584.2,139.3L591.1,126.3" stroke="#2c2ce1" stroke-width="3.0"/><path d="M362.5,235.0L384.4,229.2" stroke="#12123a" stroke-opacity="0.75" stroke-width="5.2"/><path d="M362.5,235.0L384.4,229.2" stroke="#3535e6" stroke-width="4.2"/><path d="M618.8,62.0L632.0,46.4" stroke="#12123a" stroke-opacity="0.75" stroke-width="5.3"/><path d="M618.8,62.0L632.0,46.4" stroke="#2727de" stroke-width="4.3"/><path d="M612.7,40.8L629.3,17.1" stroke="#12123a" stroke-opacity="0.75" stroke-width="3.0"/><path d="M612.7,40.8L629.3,17.1" stroke="#2c2ce1" stroke-width="2.0"/><path d="M442.5,90.5L462.2,71.1" stroke="#12123a" stroke-opacity="0.75" stroke-width="5.0"/><path d="M442.5,90.5L462.2,71.1" stroke="#3434e5" stroke-width="4.0"/><path d="M467.6,148.8L476.2,147.3" stroke="#12123a" stroke-opacity="0.75" stroke-width="5.2"/><path d="M467.6,148.8L476.2,147.3" stroke="#2f2fe3" stroke-width="4.2"/><path d="M512.9,243.1L528.1,232.8" stroke="#12123a" stroke-opacity="0.75" stroke-width="3.5"/><path d="M512.9,243.1L528.1,232.8" stroke="#2e2ee2" stroke-width="2.5"/><path d="M658.1,239.3L673.0,217.5" stroke="#12123a" stroke-opacity="0.75" stroke-width="3.9"/><path d="M658.1,239.3L673.0,217.5" stroke="#3838e7" stroke-width="2.9"/><path d="M404.9,219.1L412.6,228.9" stroke="#12123a" stroke-opacity="0.75" stroke-width="4.6"/><path d="M404.9,219.1L412.6,228.9" stroke="#2a2ae0" stroke-width="3.6"/><path d="M646.0,20.8L656.0,-1.0" stroke="#12123a" stroke-opacity="0.75" stroke-width="3.8"/><path d="M646.0,20.8L656.0,-1.0" stroke="#5a5af9" stroke-width="2.8"/><path d="M648.6,192.6L646.2,169.4" stroke="#12123a" stroke-opacity="0.75" stroke-width="5.3"/><path d="M648.6,192.6L646.2,169.4" stroke="#3636e7" stroke-width="4.3"/><path d="M366.6,60.2L387.4,49.0" stroke="#12123a" stroke-opacity="0.75" stroke-width="3.5"/><path d="M366.6,60.2L387.4,49.0" stroke="#2a2ae0" stroke-width="2.5"/><path d="M426.1,161.7L435.0,175.2" stroke="#12123a" stroke-opacity="0.75" stroke-width="4.7"/><path d="M426.1,161.7L435.0,175.2" stroke="#5858f9" stroke-width="3.7"/><path d="M544.8,68.5L558.7,43.7" stroke="#12123a" stroke-opacity="0.75" stroke-width="4.7"/><path d="M544.8,68.5L558.7,43.7" stroke="#2d2de2" stroke-width="3.7"/><path d="M562.5,26.4L575.2,14.0" stroke="#12123a" stroke-opacity="0.75" stroke-width="4.3"/><path d="M562.5,26.4L575.2,14.0" stroke="#3c3ce9" stroke-width="3.3"/><path d="M359.7,148.3L371.3,155.2" stroke="#12123a" stroke-opacity="0.75" stroke-width="5.0"/><path d="M359.7,148.3L371.3,155.2" stroke="#2727de" stroke-width="4.0"/><path d="M442.4,187.1L452.7,196.8" stroke="#12123a" stroke-opacity="0.75" stroke-width="4.4"/><path d="M442.4,187.1L452.7,196.8" stroke="#2a2ae0" stroke-width="3.4"/><path d="M651.9,244.2L661.6,259.5" stroke="#12123a" stroke-opacity="0.75" stroke-width="4.9"/><path d="M651.9,244.2L661.6,259.5" stroke="#3333e5" stroke-width="3.9"/><path d="M668.7,136.1L666.9,115.9" stroke="#12123a" stroke-opacity="0.75" stroke-width="4.6"/><path d="M668.7,136.1L666.9,115.9" stroke="#3232e4" stroke-width="3.6"/><path d="M571.7,190.1L578.5,208.0" stroke="#12123a" stroke-opacity="0.75" stroke-width="5.1"/><path d="M571.7,190.1L578.5,208.0" stroke="#4747ef" stroke-width="4.1"/><path d="M520.5,252.6L535.5,232.4" stroke="#12123a" stroke-opacity="0.75" stroke-width="3.4"/><path d="M520.5,252.6L535.5,232.4" stroke="#4141ec" stroke-width="2.4"/><path d="M419.0,115.8L442.0,105.4" stroke="#12123a" stroke-opacity="0.75" stroke-width="5.0"/><path d="M419.0,115.8L442.0,105.4" stroke="#2c2ce1" stroke-width="4.0"/><path d="M511.7,61.7L522.9,46.4" stroke="#12123a" stroke-opacity="0.75" stroke-width="3.1"/><path d="M511.7,61.7L522.9,46.4" stroke="#4141ec" stroke-width="2.1"/><path d="M590.3,149.1L598.5,140.4" stroke="#12123a" stroke-opacity="0.75" stroke-width="3.4"/><path d="M590.3,149.1L598.5,140.4" stroke="#2626de" stroke-width="2.4"/><path d="M512.8,109.1L526.6,109.1" stroke="#12123a" stroke-opacity="0.75" stroke-width="5.0"/><path d="M512.8,109.1L526.6,109.1" stroke="#2626de" stroke-width="4.0"/><path d="M659.5,156.5L661.1,131.1" stroke="#12123a" stroke-opacity="0.75" stroke-width="3.6"/><path d="M659.5,156.5L661.1,131.1" stroke="#2828df" stroke-width="2.6"/><path d="M449.2,-0.2L463.6,16.0" stroke="#12123a" stroke-opacity="0.75" stroke-width="4.3"/><path d="M449.2,-0.2L463.6,16.0" stroke="#2d2de1" stroke-width="3.3"/><path d="M547.4,24.2L555.3,15.4" stroke="#12123a" stroke-opacity="0.75" stroke-width="3.6"/><path d="M547.4,24.2L555.3,15.4" stroke="#2929df" stroke-width="2.6"/><path d="M585.1,206.9L587.4,215.9" stroke="#12123a" stroke-opacity="0.75" stroke-width="4.0"/><path d="M585.1,206.9L587.4,215.9" stroke="#3232e4" stroke-width="3.0"/><path d="M415.8,242.8L432.2,252.0" stroke="#12123a" stroke-opacity="0.75" stroke-width="4.9"/><path d="M415.8,242.8L432.2,252.0" stroke="#6262fe" stroke-width="3.9"/><path d="M395.4,116.3L403.5,112.6" stroke="#12123a" stroke-opacity="0.75" stroke-width="3.6"/><path d="M395.4,116.3L403.5,112.6" stroke="#5959f9" stroke-width="2.6"/><path d="M391.4,103.4L405.5,93.3" stroke="#12123a" stroke-opacity="0.75" stroke-width="3.2"/><path d="M391.4,103.4L405.5,93.3" stroke="#2626de" stroke-width="2.2"/><path d="M685.9,198.3L695.5,189.5" stroke="#12123a" stroke-opacity="0.75" stroke-width="3.6"/><path d="M685.9,198.3L695.5,189.5" stroke="#3d3dea" stroke-width="2.6"/><path d="M425.2,118.9L440.2,113.3" stroke="#12123a" stroke-opacity="0.75" stroke-width="3.8"/><path d="M425.2,118.9L440.2,113.3" stroke="#6262fe" stroke-width="2.8"/><path d="M553.0,16.7L564.8,-2.2" stroke="#12123a" stroke-opacity="0.75" stroke-width="3.1"/><path d="M553.0,16.7L564.8,-2.2" stroke="#3131e3" stroke-width="2.1"/><path d="M583.1,207.0L592.1,233.0" stroke="#12123a" stroke-opacity="0.75" stroke-width="4.2"/><path d="M583.1,207.0L592.1,233.0" stroke="#3333e5" stroke-width="3.2"/><path d="M634.1,100.1L642.5,90.5" stroke="#12123a" stroke-opacity="0.75" stroke-width="3.9"/><path d="M634.1,100.1L642.5,90.5" stroke="#2a2ae0" stroke-width="2.9"/><path d="M535.1,44.9L540.8,33.6" stroke="#12123a" stroke-opacity="0.75" stroke-width="4.2"/><path d="M535.1,44.9L540.8,33.6" stroke="#2f2fe3" stroke-width="3.2"/><path d="M492.8,262.2L513.0,244.4" stroke="#12123a" stroke-opacity="0.75" stroke-width="3.5"/><path d="M492.8,262.2L513.0,244.4" stroke="#3333e5" stroke-width="2.5"/><path d="M370.6,180.9L379.2,169.8" stroke="#12123a" stroke-opacity="0.75" stroke-width="3.0"/><path d="M370.6,180.9L379.2,169.8" stroke="#2a2ae0" stroke-width="2.0"/><path d="M428.6,102.6L450.8,94.2" stroke="#12123a" stroke-opacity="0.75" stroke-width="3.7"/><path d="M428.6,102.6L450.8,94.2" stroke="#3232e4" stroke-width="2.7"/><path d="M392.5,231.2L412.5,246.1" stroke="#12123a" stroke-opacity="0.75" stroke-width="4.8"/><path d="M392.5,231.2L412.5,246.1" stroke="#5b5bfa" stroke-width="3.8"/><path d="M352.8,82.6L361.2,77.6" stroke="#12123a" stroke-opacity="0.75" stroke-width="5.2"/><path d="M352.8,82.6L361.2,77.6" stroke="#3030e3" stroke-width="4.2"/><path d="M610.3,138.6L616.9,123.3" stroke="#12123a" stroke-opacity="0.75" stroke-width="3.6"/><path d="M610.3,138.6L616.9,123.3" stroke="#2626de" stroke-width="2.6"/><path d="M397.9,157.0L405.3,144.2" stroke="#12123a" stroke-opacity="0.75" stroke-width="4.1"/><path d="M397.9,157.0L405.3,144.2" stroke="#3d3dea" stroke-width="3.1"/><path d="M389.6,189.1L403.5,169.6" stroke="#12123a" stroke-opacity="0.75" stroke-width="4.7"/><path d="M389.6,189.1L403.5,169.6" stroke="#2828df" stroke-width="3.7"/><path d="M412.6,73.4L427.4,65.2" stroke="#12123a" stroke-opacity="0.75" stroke-width="4.0"/><path d="M412.6,73.4L427.4,65.2" stroke="#5757f8" stroke-width="3.0"/><path d="M422.3,76.3L432.3,68.4" stroke="#12123a" stroke-opacity="0.75" stroke-width="3.1"/><path d="M422.3,76.3L432.3,68.4" stroke="#2626de" stroke-width="2.1"/><path d="M551.0,140.8L580.2,145.3" stroke="#12123a" stroke-opacity="0.75" stroke-width="3.7"/><path d="M551.0,140.8L580.2,145.3" stroke="#4646ef" stroke-width="2.7"/><path d="M657.2,61.6L671.4,43.9" stroke="#12123a" stroke-opacity="0.75" stroke-width="5.4"/><path d="M657.2,61.6L671.4,43.9" stroke="#5757f8" stroke-width="4.4"/><path d="M423.5,154.6L436.9,165.8" stroke="#12123a" stroke-opacity="0.75" stroke-width="4.0"/><path d="M423.5,154.6L436.9,165.8" stroke="#2626de" stroke-width="3.0"/><path d="M475.3,85.6L487.0,77.7" stroke="#12123a" stroke-opacity="0.75" stroke-width="3.4"/><path d="M475.3,85.6L487.0,77.7" stroke="#3434e5" stroke-width="2.4"/><path d="M508.9,34.5L516.2,45.6" stroke="#12123a" stroke-opacity="0.75" stroke-width="3.2"/><path d="M508.9,34.5L516.2,45.6" stroke="#3131e3" stroke-width="2.2"/><path d="M487.7,26.3L501.2,45.5" stroke="#12123a" stroke-opacity="0.75" stroke-width="4.4"/><path d="M487.7,26.3L501.2,45.5" stroke="#4949f0" stroke-width="3.4"/><path d="M353.9,100.4L361.9,95.5" stroke="#12123a" stroke-opacity="0.75" stroke-width="4.0"/><path d="M353.9,100.4L361.9,95.5" stroke="#2626de" stroke-width="3.0"/><path d="M511.9,148.1L527.1,148.2" stroke="#12123a" stroke-opacity="0.75" stroke-width="3.6"/><path d="M511.9,148.1L527.1,148.2" stroke="#2626de" stroke-width="2.6"/><path d="M464.1,232.2L473.3,222.0" stroke="#12123a" stroke-opacity="0.75" stroke-width="4.7"/><path d="M464.1,232.2L473.3,222.0" stroke="#2a2ae0" stroke-width="3.7"/><path d="M502.7,154.0L518.3,157.4" stroke="#12123a" stroke-opacity="0.75" stroke-width="4.4"/><path d="M502.7,154.0L518.3,157.4" stroke="#5e5efc" stroke-width="3.4"/><path d="M613.0,167.3L614.7,150.4" stroke="#12123a" stroke-opacity="0.75" stroke-width="4.0"/><path d="M613.0,167.3L614.7,150.4" stroke="#2d2de2" stroke-width="3.0"/><path d="M628.0,211.2L639.4,236.8" stroke="#12123a" stroke-opacity="0.75" stroke-width="3.1"/><path d="M628.0,211.2L639.4,236.8" stroke="#2828df" stroke-width="2.1"/><path d="M515.9,89.3L531.0,64.0" stroke="#12123a" stroke-opacity="0.75" stroke-width="3.4"/><path d="M515.9,89.3L531.0,64.0" stroke="#2a2ae0" stroke-width="2.4"/><path d="M425.2,169.7L431.1,175.2" stroke="#12123a" stroke-opacity="0.75" stroke-width="4.4"/><path d="M425.2,169.7L431.1,175.2" stroke="#3333e5" stroke-width="3.4"/><path d="M422.9,128.9L440.8,119.8" stroke="#12123a" stroke-opacity="0.75" stroke-width="4.6"/><path d="M422.9,128.9L440.8,119.8" stroke="#3e3eeb" stroke-width="3.6"/><path d="M630.9,239.9L637.6,254.0" stroke="#12123a" stroke-opacity="0.75" stroke-width="5.2"/><path d="M630.9,239.9L637.6,254.0" stroke="#2f2fe3" stroke-width="4.2"/><path d="M590.6,162.4L599.1,190.4" stroke="#12123a" stroke-opacity="0.75" stroke-width="5.1"/><path d="M590.6,162.4L599.1,190.4" stroke="#2929df" stroke-width="4.1"/><path d="M557.9,130.1L567.3,117.0" stroke="#12123a" stroke-opacity="0.75" stroke-width="3.7"/><path d="M557.9,130.1L567.3,117.0" stroke="#4d4df2" stroke-width="2.7"/><path d="M529.1,64.8L536.2,51.5" stroke="#12123a" stroke-opacity="0.75" stroke-width="3.4"/><path d="M529.1,64.8L536.2,51.5" stroke="#3b3be9" stroke-width="2.4"/><path d="M390.1,17.5L396.1,9.1" stroke="#12123a" stroke-opacity="0.75" stroke-width="4.8"/><path d="M390.1,17.5L396.1,9.1" stroke="#2727df" stroke-width="3.8"/><path d="M498.7,196.3L510.2,196.2" stroke="#12123a" stroke-opacity="0.75" stroke-width="5.2"/><path d="M498.7,196.3L510.2,196.2" stroke="#5757f8" stroke-width="4.2"/><path d="M356.6,67.6L380.0,57.4" stroke="#12123a" stroke-opacity="0.75" stroke-width="4.0"/><path d="M356.6,67.6L380.0,57.4" stroke="#4a4af1" stroke-width="3.0"/><path d="M430.7,176.2L441.5,187.1" stroke="#12123a" stroke-opacity="0.75" stroke-width="4.9"/><path d="M430.7,176.2L441.5,187.1" stroke="#5555f7" stroke-width="3.9"/><path d="M633.2,155.2L633.5,131.6" stroke="#12123a" stroke-opacity="0.75" stroke-width="4.6"/><path d="M633.2,155.2L633.5,131.6" stroke="#5454f6" stroke-width="3.6"/><path d="M618.1,39.0L629.9,19.6" stroke="#12123a" stroke-opacity="0.75" stroke-width="3.6"/><path d="M618.1,39.0L629.9,19.6" stroke="#2a2ae0" stroke-width="2.6"/><path d="M344.6,137.4L364.8,158.7" stroke="#12123a" stroke-opacity="0.75" stroke-width="3.3"/><path d="M344.6,137.4L364.8,158.7" stroke="#4848f0" stroke-width="2.3"/><path d="M479.1,160.2L507.7,159.7" stroke="#12123a" stroke-opacity="0.75" stroke-width="5.5"/><path d="M479.1,160.2L507.7,159.7" stroke="#2626de" stroke-width="4.5"/><path d="M591.1,34.1L596.8,21.0" stroke="#12123a" stroke-opacity="0.75" stroke-width="4.8"/><path d="M591.1,34.1L596.8,21.0" stroke="#6363fe" stroke-width="3.8"/><path d="M382.9,87.9L399.3,76.4" stroke="#12123a" stroke-opacity="0.75" stroke-width="4.2"/><path d="M382.9,87.9L399.3,76.4" stroke="#3232e4" stroke-width="3.2"/><path d="M450.4,208.2L461.1,198.8" stroke="#12123a" stroke-opacity="0.75" stroke-width="4.0"/><path d="M450.4,208.2L461.1,198.8" stroke="#4242ed" stroke-width="3.0"/><path d="M607.1,239.5L616.5,260.7" stroke="#12123a" stroke-opacity="0.75" stroke-width="4.4"/><path d="M607.1,239.5L616.5,260.7" stroke="#5151f5" stroke-width="3.4"/><path d="M388.3,50.0L412.2,34.4" stroke="#12123a" stroke-opacity="0.75" stroke-width="3.6"/><path d="M388.3,50.0L412.2,34.4" stroke="#3939e8" stroke-width="2.6"/><path d="M382.8,86.4L399.5,74.6" stroke="#12123a" stroke-opacity="0.75" stroke-width="3.4"/><path d="M382.8,86.4L399.5,74.6" stroke="#4343ed" stroke-width="2.4"/><path d="M437.1,60.3L450.3,51.2" stroke="#12123a" stroke-opacity="0.75" stroke-width="3.6"/><path d="M437.1,60.3L450.3,51.2" stroke="#2626de" stroke-width="2.6"/><path d="M367.8,229.8L376.2,224.8" stroke="#12123a" stroke-opacity="0.75" stroke-width="3.5"/><path d="M367.8,229.8L376.2,224.8" stroke="#3939e8" stroke-width="2.5"/><path d="M684.7,56.0L697.4,42.3" stroke="#12123a" stroke-opacity="0.75" stroke-width="4.0"/><path d="M684.7,56.0L697.4,42.3" stroke="#5151f5" stroke-width="3.0"/><path d="M478.8,2.8L492.0,20.9" stroke="#12123a" stroke-opacity="0.75" stroke-width="4.6"/><path d="M478.8,2.8L492.0,20.9" stroke="#2d2de2" stroke-width="3.6"/><path d="M664.0,225.3L678.2,214.8" stroke="#12123a" stroke-opacity="0.75" stroke-width="5.1"/><path d="M664.0,225.3L678.2,214.8" stroke="#4b4bf1" stroke-width="4.1"/><path d="M406.9,8.1L413.4,-0.3" stroke="#12123a" stroke-opacity="0.75" stroke-width="3.2"/><path d="M406.9,8.1L413.4,-0.3" stroke="#3232e4" stroke-width="2.2"/><path d="M605.4,80.4L610.1,73.6" stroke="#12123a" stroke-opacity="0.75" stroke-width="3.5"/><path d="M605.4,80.4L610.1,73.6" stroke="#6060fc" stroke-width="2.5"/><path d="M341.9,137.5L365.7,128.5" stroke="#12123a" stroke-opacity="0.75" stroke-width="4.8"/><path d="M341.9,137.5L365.7,128.5" stroke="#3434e5" stroke-width="3.8"/><path d="M620.9,196.2L628.4,224.9" stroke="#12123a" stroke-opacity="0.75" stroke-width="3.3"/><path d="M620.9,196.2L628.4,224.9" stroke="#5f5ffc" stroke-width="2.3"/><path d="M479.6,190.5L495.5,167.4" stroke="#12123a" stroke-opacity="0.75" stroke-width="3.1"/><path d="M479.6,190.5L495.5,167.4" stroke="#3f3feb" stroke-width="2.1"/><path d="M418.4,103.5L437.0,90.9" stroke="#12123a" stroke-opacity="0.75" stroke-width="5.0"/><path d="M418.4,103.5L437.0,90.9" stroke="#3232e4" stroke-width="4.0"/><path d="M561.5,100.6L574.9,76.1" stroke="#12123a" stroke-opacity="0.75" stroke-width="3.8"/><path d="M561.5,100.6L574.9,76.1" stroke="#2727de" stroke-width="2.8"/><path d="M457.8,198.5L471.2,178.2" stroke="#12123a" stroke-opacity="0.75" stroke-width="4.4"/><path d="M457.8,198.5L471.2,178.2" stroke="#4747ef" stroke-width="3.4"/><path d="M405.9,30.5L415.4,18.1" stroke="#12123a" stroke-opacity="0.75" stroke-width="4.1"/><path d="M405.9,30.5L415.4,18.1" stroke="#2626de" stroke-width="3.1"/><path d="M512.0,101.6L531.8,100.6" stroke="#12123a" stroke-opacity="0.75" stroke-width="5.4"/><path d="M512.0,101.6L531.8,100.6" stroke="#2a2ae0" stroke-width="4.4"/><path d="M647.8,83.8L654.5,75.8" stroke="#12123a" stroke-opacity="0.75" stroke-width="5.5"/><path d="M647.8,83.8L654.5,75.8" stroke="#3636e6" stroke-width="4.5"/><path d="M673.0,63.6L685.5,43.7" stroke="#12123a" stroke-opacity="0.75" stroke-width="3.4"/><path d="M673.0,63.6L685.5,43.7" stroke="#2d2de2" stroke-width="2.4"/><path d="M579.0,236.1L584.2,246.9" stroke="#12123a" stroke-opacity="0.75" stroke-width="3.9"/><path d="M579.0,236.1L584.2,246.9" stroke="#6262fe" stroke-width="2.9"/><path d="M393.8,169.5L407.5,152.1" stroke="#12123a" stroke-opacity="0.75" stroke-width="3.5"/><path d="M393.8,169.5L407.5,152.1" stroke="#4242ed" stroke-width="2.5"/><path d="M646.8,224.7L660.3,211.2" stroke="#12123a" stroke-opacity="0.75" stroke-width="4.4"/><path d="M646.8,224.7L660.3,211.2" stroke="#2727df" stroke-width="3.4"/><path d="M636.1,186.3L636.7,163.7" stroke="#12123a" stroke-opacity="0.75" stroke-width="4.0"/><path d="M636.1,186.3L636.7,163.7" stroke="#3333e5" stroke-width="3.0"/><path d="M422.1,159.0L435.3,144.9" stroke="#12123a" stroke-opacity="0.75" stroke-width="3.1"/><path d="M422.1,159.0L435.3,144.9" stroke="#4343ed" stroke-width="2.1"/><path d="M488.6,149.2L517.0,151.0" stroke="#12123a" stroke-opacity="0.75" stroke-width="3.4"/><path d="M488.6,149.2L517.0,151.0" stroke="#3838e7" stroke-width="2.4"/><path d="M682.2,197.0L696.9,177.8" stroke="#12123a" stroke-opacity="0.75" stroke-width="5.5"/><path d="M682.2,197.0L696.9,177.8" stroke="#3434e5" stroke-width="4.5"/><path d="M639.9,36.2L653.4,23.1" stroke="#12123a" stroke-opacity="0.75" stroke-width="3.6"/><path d="M639.9,36.2L653.4,23.1" stroke="#5454f6" stroke-width="2.6"/><path d="M569.1,226.5L575.0,251.4" stroke="#12123a" stroke-opacity="0.75" stroke-width="4.3"/><path d="M569.1,226.5L575.0,251.4" stroke="#6363fe" stroke-width="3.3"/><path d="M365.9,223.9L378.5,219.1" stroke="#12123a" stroke-opacity="0.75" stroke-width="5.0"/><path d="M365.9,223.9L378.5,219.1" stroke="#3737e7" stroke-width="4.0"/><path d="M529.2,226.0L537.7,214.7" stroke="#12123a" stroke-opacity="0.75" stroke-width="4.6"/><path d="M529.2,226.0L537.7,214.7" stroke="#2626de" stroke-width="3.6"/><path d="M533.1,200.1L546.5,200.0" stroke="#12123a" stroke-opacity="0.75" stroke-width="5.0"/><path d="M533.1,200.1L546.5,200.0" stroke="#5656f7" stroke-width="4.0"/><path d="M604.8,147.9L622.5,129.5" stroke="#12123a" stroke-opacity="0.75" stroke-width="3.4"/><path d="M604.8,147.9L622.5,129.5" stroke="#3232e4" stroke-width="2.4"/><path d="M374.8,-3.1L393.8,16.1" stroke="#12123a" stroke-opacity="0.75" stroke-width="5.1"/><path d="M374.8,-3.1L393.8,16.1" stroke="#2828df" stroke-width="4.1"/><path d="M402.2,101.4L422.1,93.1" stroke="#12123a" stroke-opacity="0.75" stroke-width="5.3"/><path d="M402.2,101.4L422.1,93.1" stroke="#2626de" stroke-width="4.3"/><path d="M679.6,61.2L696.1,39.5" stroke="#12123a" stroke-opacity="0.75" stroke-width="4.8"/><path d="M679.6,61.2L696.1,39.5" stroke="#2a2ae0" stroke-width="3.8"/><path d="M575.6,115.3L581.6,101.0" stroke="#12123a" stroke-opacity="0.75" stroke-width="3.8"/><path d="M575.6,115.3L581.6,101.0" stroke="#4343ed" stroke-width="2.8"/><path d="M441.8,147.7L448.8,157.5" stroke="#12123a" stroke-opacity="0.75" stroke-width="3.3"/><path d="M441.8,147.7L448.8,157.5" stroke="#4848f0" stroke-width="2.3"/><path d="M499.1,20.4L519.9,40.2" stroke="#12123a" stroke-opacity="0.75" stroke-width="4.5"/><path d="M499.1,20.4L519.9,40.2" stroke="#3131e4" stroke-width="3.5"/><path d="M408.5,245.2L425.7,262.2" stroke="#12123a" stroke-opacity="0.75" stroke-width="3.9"/><path d="M408.5,245.2L425.7,262.2" stroke="#2f2fe3" stroke-width="2.9"/><path d="M484.8,27.6L494.5,41.9" stroke="#12123a" stroke-opacity="0.75" stroke-width="5.1"/><path d="M484.8,27.6L494.5,41.9" stroke="#3434e5" stroke-width="4.1"/><path d="M498.6,126.0L513.9,129.3" stroke="#12123a" stroke-opacity="0.75" stroke-width="4.8"/><path d="M498.6,126.0L513.9,129.3" stroke="#2c2ce1" stroke-width="3.8"/><path d="M543.2,75.7L553.0,65.3" stroke="#12123a" stroke-opacity="0.75" stroke-width="5.1"/><path d="M543.2,75.7L553.0,65.3" stroke="#4747ef" stroke-width="4.1"/><path d="M497.5,247.0L513.7,228.8" stroke="#12123a" stroke-opacity="0.75" stroke-width="4.5"/><path d="M497.5,247.0L513.7,228.8" stroke="#3737e7" stroke-width="3.5"/><path d="M364.6,110.0L379.3,100.3" stroke="#12123a" stroke-opacity="0.75" stroke-width="5.4"/><path d="M364.6,110.0L379.3,100.3" stroke="#2e2ee2" stroke-width="4.4"/><path d="M583.7,162.8L591.6,178.0" stroke="#12123a" stroke-opacity="0.75" stroke-width="3.3"/><path d="M583.7,162.8L591.6,178.0" stroke="#5959f9" stroke-width="2.3"/><path d="M425.3,112.9L446.8,98.1" stroke="#12123a" stroke-opacity="0.75" stroke-width="5.1"/><path d="M425.3,112.9L446.8,98.1" stroke="#4040ec" stroke-width="4.1"/><path d="M533.3,26.3L540.1,19.1" stroke="#12123a" stroke-opacity="0.75" stroke-width="3.9"/><path d="M533.3,26.3L540.1,19.1" stroke="#3232e4" stroke-width="2.9"/><path d="M591.4,157.1L603.1,182.2" stroke="#12123a" stroke-opacity="0.75" stroke-width="5.4"/><path d="M591.4,157.1L603.1,182.2" stroke="#2626de" stroke-width="4.4"/><path d="M561.8,125.9L571.2,110.2" stroke="#12123a" stroke-opacity="0.75" stroke-width="3.8"/><path d="M561.8,125.9L571.2,110.2" stroke="#4646ef" stroke-width="2.8"/><path d="M554.6,232.7L559.6,262.1" stroke="#12123a" stroke-opacity="0.75" stroke-width="4.0"/><path d="M554.6,232.7L559.6,262.1" stroke="#5353f6" stroke-width="3.0"/><path d="M571.5,173.2L573.0,182.5" stroke="#12123a" stroke-opacity="0.75" stroke-width="4.2"/><path d="M571.5,173.2L573.0,182.5" stroke="#3434e5" stroke-width="3.2"/><path d="M569.8,57.6L578.9,48.9" stroke="#12123a" stroke-opacity="0.75" stroke-width="3.9"/><path d="M569.8,57.6L578.9,48.9" stroke="#2828df" stroke-width="2.9"/><path d="M482.0,193.4L487.9,183.4" stroke="#12123a" stroke-opacity="0.75" stroke-width="4.6"/><path d="M482.0,193.4L487.9,183.4" stroke="#4343ed" stroke-width="3.6"/><path d="M595.8,71.4L611.8,53.4" stroke="#12123a" stroke-opacity="0.75" stroke-width="4.9"/><path d="M595.8,71.4L611.8,53.4" stroke="#2828df" stroke-width="3.9"/><path d="M503.4,-11.6L517.2,13.7" stroke="#12123a" stroke-opacity="0.75" stroke-width="5.2"/><path d="M503.4,-11.6L517.2,13.7" stroke="#2626de" stroke-width="4.2"/><path d="M464.9,135.1L475.3,135.5" stroke="#12123a" stroke-opacity="0.75" stroke-width="5.0"/><path d="M464.9,135.1L475.3,135.5" stroke="#2f2fe2" stroke-width="4.0"/><path d="M520.3,33.5L526.7,24.7" stroke="#12123a" stroke-opacity="0.75" stroke-width="3.2"/><path d="M520.3,33.5L526.7,24.7" stroke="#3b3be9" stroke-width="2.2"/><path d="M444.3,191.7L456.7,203.5" stroke="#12123a" stroke-opacity="0.75" stroke-width="3.1"/><path d="M444.3,191.7L456.7,203.5" stroke="#2b2be0" stroke-width="2.1"/><path d="M491.1,140.9L517.8,141.1" stroke="#12123a" stroke-opacity="0.75" stroke-width="3.3"/><path d="M491.1,140.9L517.8,141.1" stroke="#5555f7" stroke-width="2.3"/><path d="M396.5,241.8L409.4,252.9" stroke="#12123a" stroke-opacity="0.75" stroke-width="4.5"/><path d="M396.5,241.8L409.4,252.9" stroke="#5757f8" stroke-width="3.5"/><path d="M680.5,109.3L678.7,98.0" stroke="#12123a" stroke-opacity="0.75" stroke-width="5.0"/><path d="M680.5,109.3L678.7,98.0" stroke="#4b4bf2" stroke-width="4.0"/><path d="M591.2,40.9L596.2,33.9" stroke="#12123a" stroke-opacity="0.75" stroke-width="3.3"/><path d="M591.2,40.9L596.2,33.9" stroke="#2f2fe2" stroke-width="2.3"/><path d="M679.6,167.3L681.3,158.5" stroke="#12123a" stroke-opacity="0.75" stroke-width="4.0"/><path d="M679.6,167.3L681.3,158.5" stroke="#2727de" stroke-width="3.0"/><path d="M435.7,19.1L442.7,32.6" stroke="#12123a" stroke-opacity="0.75" stroke-width="4.2"/><path d="M435.7,19.1L442.7,32.6" stroke="#4545ee" stroke-width="3.2"/><path d="M650.1,232.2L656.4,250.1" stroke="#12123a" stroke-opacity="0.75" stroke-width="5.3"/><path d="M650.1,232.2L656.4,250.1" stroke="#3333e5" stroke-width="4.3"/><path d="M446.6,182.2L458.2,193.3" stroke="#12123a" stroke-opacity="0.75" stroke-width="4.1"/><path d="M446.6,182.2L458.2,193.3" stroke="#3838e8" stroke-width="3.1"/><path d="M468.1,108.0L477.1,108.1" stroke="#12123a" stroke-opacity="0.75" stroke-width="5.1"/><path d="M468.1,108.0L477.1,108.1" stroke="#2626de" stroke-width="4.1"/><path d="M524.1,138.4L537.0,138.2" stroke="#12123a" stroke-opacity="0.75" stroke-width="3.2"/><path d="M524.1,138.4L537.0,138.2" stroke="#3232e4" stroke-width="2.2"/><path d="M447.8,129.3L467.3,114.5" stroke="#12123a" stroke-opacity="0.75" stroke-width="4.2"/><path d="M447.8,129.3L467.3,114.5" stroke="#2626de" stroke-width="3.2"/><path d="M483.4,255.2L494.7,237.4" stroke="#12123a" stroke-opacity="0.75" stroke-width="5.4"/><path d="M483.4,255.2L494.7,237.4" stroke="#3232e4" stroke-width="4.4"/><path d="M549.3,101.5L559.8,82.8" stroke="#12123a" stroke-opacity="0.75" stroke-width="4.5"/><path d="M549.3,101.5L559.8,82.8" stroke="#2f2fe3" stroke-width="3.5"/><path d="M515.6,129.6L524.7,130.8" stroke="#12123a" stroke-opacity="0.75" stroke-width="3.2"/><path d="M515.6,129.6L524.7,130.8" stroke="#2c2ce1" stroke-width="2.2"/><path d="M433.3,192.3L451.4,212.2" stroke="#12123a" stroke-opacity="0.75" stroke-width="4.0"/><path d="M433.3,192.3L451.4,212.2" stroke="#2e2ee2" stroke-width="3.0"/><path d="M573.1,28.2L591.9,9.9" stroke="#12123a" stroke-opacity="0.75" stroke-width="3.8"/><path d="M573.1,28.2L591.9,9.9" stroke="#2f2fe3" stroke-width="2.8"/><path d="M628.8,196.0L631.6,204.8" stroke="#12123a" stroke-opacity="0.75" stroke-width="4.9"/><path d="M628.8,196.0L631.6,204.8" stroke="#2626de" stroke-width="3.9"/><path d="M552.9,137.2L574.4,141.7" stroke="#12123a" stroke-opacity="0.75" stroke-width="3.1"/><path d="M552.9,137.2L574.4,141.7" stroke="#5d5dfb" stroke-width="2.1"/><path d="M609.4,158.5L605.5,134.6" stroke="#12123a" stroke-opacity="0.75" stroke-width="4.0"/><path d="M609.4,158.5L605.5,134.6" stroke="#4747ef" stroke-width="3.0"/><path d="M679.8,244.3L693.0,222.8" stroke="#12123a" stroke-opacity="0.75" stroke-width="4.1"/><path d="M679.8,244.3L693.0,222.8" stroke="#4d4df2" stroke-width="3.1"/><path d="M473.9,112.5L484.5,112.5" stroke="#12123a" stroke-opacity="0.75" stroke-width="3.8"/><path d="M473.9,112.5L484.5,112.5" stroke="#4b4bf2" stroke-width="2.8"/><path d="M365.3,33.6L383.6,20.2" stroke="#12123a" stroke-opacity="0.75" stroke-width="4.4"/><path d="M365.3,33.6L383.6,20.2" stroke="#2727df" stroke-width="3.4"/><path d="M380.6,79.2L400.4,74.8" stroke="#12123a" stroke-opacity="0.75" stroke-width="5.3"/><path d="M380.6,79.2L400.4,74.8" stroke="#2b2be0" stroke-width="4.3"/><path d="M486.6,134.5L497.2,136.3" stroke="#12123a" stroke-opacity="0.75" stroke-width="5.2"/><path d="M486.6,134.5L497.2,136.3" stroke="#3838e7" stroke-width="4.2"/><path d="M350.9,114.3L370.5,102.6" stroke="#12123a" stroke-opacity="0.75" stroke-width="5.3"/><path d="M350.9,114.3L370.5,102.6" stroke="#3a3ae8" stroke-width="4.3"/><path d="M582.5,101.0L589.2,93.2" stroke="#12123a" stroke-opacity="0.75" stroke-width="4.9"/><path d="M582.5,101.0L589.2,93.2" stroke="#2929df" stroke-width="3.9"/><path d="M547.4,54.2L553.3,44.1" stroke="#12123a" stroke-opacity="0.75" stroke-width="3.9"/><path d="M547.4,54.2L553.3,44.1" stroke="#4040ec" stroke-width="2.9"/><path d="M520.0,108.0L535.6,86.5" stroke="#12123a" stroke-opacity="0.75" stroke-width="3.9"/><path d="M520.0,108.0L535.6,86.5" stroke="#4040eb" stroke-width="2.9"/><path d="M506.8,258.9L521.9,241.1" stroke="#12123a" stroke-opacity="0.75" stroke-width="3.6"/><path d="M506.8,258.9L521.9,241.1" stroke="#2d2de1" stroke-width="2.6"/><path d="M597.6,149.5L602.0,141.2" stroke="#12123a" stroke-opacity="0.75" stroke-width="5.1"/><path d="M597.6,149.5L602.0,141.2" stroke="#3333e4" stroke-width="4.1"/><path d="M588.9,116.8L601.1,100.5" stroke="#12123a" stroke-opacity="0.75" stroke-width="5.4"/><path d="M588.9,116.8L601.1,100.5" stroke="#5b5bfa" stroke-width="4.4"/><path d="M493.6,123.7L518.1,121.5" stroke="#12123a" stroke-opacity="0.75" stroke-width="3.3"/><path d="M493.6,123.7L518.1,121.5" stroke="#2f2fe2" stroke-width="2.3"/><path d="M633.4,14.0L646.3,-1.9" stroke="#12123a" stroke-opacity="0.75" stroke-width="4.4"/><path d="M633.4,14.0L646.3,-1.9" stroke="#3030e3" stroke-width="3.4"/><path d="M393.0,233.0L410.7,251.6" stroke="#12123a" stroke-opacity="0.75" stroke-width="3.2"/><path d="M393.0,233.0L410.7,251.6" stroke="#5050f4" stroke-width="2.2"/><path d="M415.8,54.3L433.7,42.5" stroke="#12123a" stroke-opacity="0.75" stroke-width="3.3"/><path d="M415.8,54.3L433.7,42.5" stroke="#4e4ef3" stroke-width="2.3"/><path d="M539.8,235.8L558.6,222.3" stroke="#12123a" stroke-opacity="0.75" stroke-width="3.9"/><path d="M539.8,235.8L558.6,222.3" stroke="#5f5ffc" stroke-width="2.9"/><path d="M587.6,80.9L603.9,63.2" stroke="#12123a" stroke-opacity="0.75" stroke-width="3.7"/><path d="M587.6,80.9L603.9,63.2" stroke="#2c2ce1" stroke-width="2.7"/><path d="M351.0,139.6L362.9,131.6" stroke="#12123a" stroke-opacity="0.75" stroke-width="3.6"/><path d="M351.0,139.6L362.9,131.6" stroke="#2828df" stroke-width="2.6"/><path d="M512.4,73.5L519.2,61.2" stroke="#12123a" stroke-opacity="0.75" stroke-width="4.3"/><path d="M512.4,73.5L519.2,61.2" stroke="#5757f8" stroke-width="3.3"/><path d="M399.1,209.7L410.4,227.9" stroke="#12123a" stroke-opacity="0.75" stroke-width="4.4"/><path d="M399.1,209.7L410.4,227.9" stroke="#4b4bf2" stroke-width="3.4"/><path d="M520.5,164.8L545.1,169.8" stroke="#12123a" stroke-opacity="0.75" stroke-width="3.6"/><path d="M520.5,164.8L545.1,169.8" stroke="#2626de" stroke-width="2.6"/><path d="M669.2,97.0L671.4,84.1" stroke="#12123a" stroke-opacity="0.75" stroke-width="4.1"/><path d="M669.2,97.0L671.4,84.1" stroke="#3232e4" stroke-width="3.1"/><path d="M595.7,230.9L603.1,250.0" stroke="#12123a" stroke-opacity="0.75" stroke-width="3.9"/><path d="M595.7,230.9L603.1,250.0" stroke="#2b2be1" stroke-width="2.9"/><path d="M666.9,33.4L682.8,17.5" stroke="#12123a" stroke-opacity="0.75" stroke-width="3.2"/><path d="M666.9,33.4L682.8,17.5" stroke="#5a5af9" stroke-width="2.2"/><path d="M371.6,136.2L398.2,149.6" stroke="#12123a" stroke-opacity="0.75" stroke-width="3.8"/><path d="M371.6,136.2L398.2,149.6" stroke="#5757f8" stroke-width="2.8"/><path d="M368.8,172.6L373.2,165.2" stroke="#12123a" stroke-opacity="0.75" stroke-width="4.4"/><path d="M368.8,172.6L373.2,165.2" stroke="#6262fe" stroke-width="3.4"/><path d="M581.9,208.2L586.7,227.1" stroke="#12123a" stroke-opacity="0.75" stroke-width="3.2"/><path d="M581.9,208.2L586.7,227.1" stroke="#3c3ce9" stroke-width="2.2"/><path d="M405.3,138.2L421.0,127.5" stroke="#12123a" stroke-opacity="0.75" stroke-width="3.5"/><path d="M405.3,138.2L421.0,127.5" stroke="#4949f0" stroke-width="2.5"/><path d="M483.5,123.8L502.0,120.9" stroke="#12123a" stroke-opacity="0.75" stroke-width="4.4"/><path d="M483.5,123.8L502.0,120.9" stroke="#6161fd" stroke-width="3.4"/><path d="M538.2,38.5L545.8,25.1" stroke="#12123a" stroke-opacity="0.75" stroke-width="4.8"/><path d="M538.2,38.5L545.8,25.1" stroke="#5e5efb" stroke-width="3.8"/><path d="M673.2,250.4L694.4,233.8" stroke="#12123a" stroke-opacity="0.75" stroke-width="5.3"/><path d="M673.2,250.4L694.4,233.8" stroke="#2626de" stroke-width="4.3"/><path d="M506.8,148.3L528.2,150.5" stroke="#12123a" stroke-opacity="0.75" stroke-width="4.5"/><path d="M506.8,148.3L528.2,150.5" stroke="#5d5dfb" stroke-width="3.5"/><path d="M376.6,127.8L382.5,134.1" stroke="#12123a" stroke-opacity="0.75" stroke-width="3.3"/><path d="M376.6,127.8L382.5,134.1" stroke="#5757f8" stroke-width="2.3"/><path d="M672.2,15.3L682.5,-8.9" stroke="#12123a" stroke-opacity="0.75" stroke-width="4.7"/><path d="M672.2,15.3L682.5,-8.9" stroke="#3b3be9" stroke-width="3.7"/><path d="M544.4,191.9L552.4,192.9" stroke="#12123a" stroke-opacity="0.75" stroke-width="3.2"/><path d="M544.4,191.9L552.4,192.9" stroke="#5050f4" stroke-width="2.2"/><path d="M678.7,217.9L688.5,206.1" stroke="#12123a" stroke-opacity="0.75" stroke-width="3.9"/><path d="M678.7,217.9L688.5,206.1" stroke="#2626de" stroke-width="2.9"/><path d="M607.6,72.6L619.2,56.8" stroke="#12123a" stroke-opacity="0.75" stroke-width="3.8"/><path d="M607.6,72.6L619.2,56.8" stroke="#4747ef" stroke-width="2.8"/><path d="M502.8,52.2L508.4,62.7" stroke="#12123a" stroke-opacity="0.75" stroke-width="3.4"/><path d="M502.8,52.2L508.4,62.7" stroke="#2c2ce1" stroke-width="2.4"/><path d="M507.2,199.7L520.4,198.7" stroke="#12123a" stroke-opacity="0.75" stroke-width="4.6"/><path d="M507.2,199.7L520.4,198.7" stroke="#2d2de1" stroke-width="3.6"/><path d="M524.7,67.2L532.9,58.4" stroke="#12123a" stroke-opacity="0.75" stroke-width="3.6"/><path d="M524.7,67.2L532.9,58.4" stroke="#2f2fe2" stroke-width="2.6"/><path d="M453.8,193.5L471.6,175.4" stroke="#12123a" stroke-opacity="0.75" stroke-width="4.4"/><path d="M453.8,193.5L471.6,175.4" stroke="#2727de" stroke-width="3.4"/><path d="M607.2,67.7L615.0,52.5" stroke="#12123a" stroke-opacity="0.75" stroke-width="5.5"/><path d="M607.2,67.7L615.0,52.5" stroke="#3232e4" stroke-width="4.5"/><path d="M465.4,237.1L478.4,227.0" stroke="#12123a" stroke-opacity="0.75" stroke-width="3.3"/><path d="M465.4,237.1L478.4,227.0" stroke="#5050f4" stroke-width="2.3"/><path d="M612.2,90.4L622.9,78.1" stroke="#12123a" stroke-opacity="0.75" stroke-width="3.7"/><path d="M612.2,90.4L622.9,78.1" stroke="#4040ec" stroke-width="2.7"/><path d="M600.8,122.9L606.4,116.7" stroke="#12123a" stroke-opacity="0.75" stroke-width="4.2"/><path d="M600.8,122.9L606.4,116.7" stroke="#3333e5" stroke-width="3.2"/><path d="M367.1,236.5L377.4,229.4" stroke="#12123a" stroke-opacity="0.75" stroke-width="5.2"/><path d="M367.1,236.5L377.4,229.4" stroke="#6060fc" stroke-width="4.2"/><path d="M667.3,90.6L669.8,79.8" stroke="#12123a" stroke-opacity="0.75" stroke-width="4.8"/><path d="M667.3,90.6L669.8,79.8" stroke="#5e5efc" stroke-width="3.8"/><path d="M404.0,38.8L427.8,25.2" stroke="#12123a" stroke-opacity="0.75" stroke-width="4.8"/><path d="M404.0,38.8L427.8,25.2" stroke="#5f5ffc" stroke-width="3.8"/><path d="M498.2,94.0L512.1,92.1" stroke="#12123a" stroke-opacity="0.75" stroke-width="5.3"/><path d="M498.2,94.0L512.1,92.1" stroke="#2626de" stroke-width="4.3"/><path d="M407.7,91.6L418.7,81.8" stroke="#12123a" stroke-opacity="0.75" stroke-width="3.5"/><path d="M407.7,91.6L418.7,81.8" stroke="#2828df" stroke-width="2.5"/><path d="M517.8,135.7L542.6,137.1" stroke="#12123a" stroke-opacity="0.75" stroke-width="4.3"/><path d="M517.8,135.7L542.6,137.1" stroke="#5e5efc" stroke-width="3.3"/><path d="M371.7,58.6L384.0,50.4" stroke="#12123a" stroke-opacity="0.75" stroke-width="4.9"/><path d="M371.7,58.6L384.0,50.4" stroke="#5c5cfb" stroke-width="3.9"/><path d="M517.2,47.2L527.4,29.5" stroke="#12123a" stroke-opacity="0.75" stroke-width="3.7"/><path d="M517.2,47.2L527.4,29.5" stroke="#5050f4" stroke-width="2.7"/><path d="M681.4,128.9L683.8,102.4" stroke="#12123a" stroke-opacity="0.75" stroke-width="4.2"/><path d="M681.4,128.9L683.8,102.4" stroke="#2a2ae0" stroke-width="3.2"/><path d="M666.6,260.0L679.1,238.6" stroke="#12123a" stroke-opacity="0.75" stroke-width="4.0"/><path d="M666.6,260.0L679.1,238.6" stroke="#2626de" stroke-width="3.0"/><path d="M399.7,43.6L411.7,39.7" stroke="#12123a" stroke-opacity="0.75" stroke-width="3.0"/><path d="M399.7,43.6L411.7,39.7" stroke="#2b2be0" stroke-width="2.0"/><path d="M617.7,133.0L628.9,118.6" stroke="#12123a" stroke-opacity="0.75" stroke-width="3.5"/><path d="M617.7,133.0L628.9,118.6" stroke="#2626de" stroke-width="2.5"/><path d="M446.7,-0.2L461.4,15.6" stroke="#12123a" stroke-opacity="0.75" stroke-width="3.9"/><path d="M446.7,-0.2L461.4,15.6" stroke="#3838e7" stroke-width="2.9"/><path d="M556.4,90.6L570.4,67.0" stroke="#12123a" stroke-opacity="0.75" stroke-width="4.5"/><path d="M556.4,90.6L570.4,67.0" stroke="#3535e6" stroke-width="3.5"/><path d="M520.7,116.4L548.8,115.1" stroke="#12123a" stroke-opacity="0.75" stroke-width="3.6"/><path d="M520.7,116.4L548.8,115.1" stroke="#5d5dfb" stroke-width="2.6"/><path d="M637.0,216.2L646.4,232.9" stroke="#12123a" stroke-opacity="0.75" stroke-width="5.5"/><path d="M637.0,216.2L646.4,232.9" stroke="#2e2ee2" stroke-width="4.5"/><path d="M400.9,176.5L416.1,190.8" stroke="#12123a" stroke-opacity="0.75" stroke-width="3.4"/><path d="M400.9,176.5L416.1,190.8" stroke="#5e5efc" stroke-width="2.4"/><path d="M442.9,15.4L451.4,28.6" stroke="#12123a" stroke-opacity="0.75" stroke-width="4.4"/><path d="M442.9,15.4L451.4,28.6" stroke="#3a3ae8" stroke-width="3.4"/><path d="M665.5,133.7L665.5,125.6" stroke="#12123a" stroke-opacity="0.75" stroke-width="4.2"/><path d="M665.5,133.7L665.5,125.6" stroke="#2d2de2" stroke-width="3.2"/><path d="M541.4,160.0L551.4,160.1" stroke="#12123a" stroke-opacity="0.75" stroke-width="4.2"/><path d="M541.4,160.0L551.4,160.1" stroke="#3939e8" stroke-width="3.2"/><path d="M565.4,239.4L573.3,255.2" stroke="#12123a" stroke-opacity="0.75" stroke-width="3.2"/><path d="M565.4,239.4L573.3,255.2" stroke="#5151f5" stroke-width="2.2"/><path d="M426.5,205.2L433.9,216.6" stroke="#12123a" stroke-opacity="0.75" stroke-width="5.3"/><path d="M426.5,205.2L433.9,216.6" stroke="#3a3ae9" stroke-width="4.3"/><path d="M486.6,138.3L504.9,142.2" stroke="#12123a" stroke-opacity="0.75" stroke-width="4.2"/><path d="M486.6,138.3L504.9,142.2" stroke="#2e2ee2" stroke-width="3.2"/><path d="M637.8,132.9L637.6,120.6" stroke="#12123a" stroke-opacity="0.75" stroke-width="3.5"/><path d="M637.8,132.9L637.6,120.6" stroke="#5454f6" stroke-width="2.5"/><path d="M622.6,238.2L627.0,260.8" stroke="#12123a" stroke-opacity="0.75" stroke-width="5.0"/><path d="M622.6,238.2L627.0,260.8" stroke="#4949f1" stroke-width="4.0"/><path d="M620.6,192.4L633.2,215.1" stroke="#12123a" stroke-opacity="0.75" stroke-width="3.8"/><path d="M620.6,192.4L633.2,215.1" stroke="#2c2ce1" stroke-width="2.8"/><path d="M660.1,9.3L668.9,-3.5" stroke="#12123a" stroke-opacity="0.75" stroke-width="5.0"/><path d="M660.1,9.3L668.9,-3.5" stroke="#4242ec" stroke-width="4.0"/><path d="M658.2,240.9L664.9,234.3" stroke="#12123a" stroke-opacity="0.75" stroke-width="4.7"/><path d="M658.2,240.9L664.9,234.3" stroke="#2727de" stroke-width="3.7"/><path d="M682.2,226.6L689.6,217.0" stroke="#12123a" stroke-opacity="0.75" stroke-width="4.7"/><path d="M682.2,226.6L689.6,217.0" stroke="#4d4df3" stroke-width="3.7"/><path d="M688.2,169.6L685.6,145.8" stroke="#12123a" stroke-opacity="0.75" stroke-width="3.1"/><path d="M688.2,169.6L685.6,145.8" stroke="#5757f8" stroke-width="2.1"/><path d="M610.7,189.6L615.1,209.7" stroke="#12123a" stroke-opacity="0.75" stroke-width="5.4"/><path d="M610.7,189.6L615.1,209.7" stroke="#4444ee" stroke-width="4.4"/><path d="M514.0,96.4L522.5,96.0" stroke="#12123a" stroke-opacity="0.75" stroke-width="3.4"/><path d="M514.0,96.4L522.5,96.0" stroke="#5151f4" stroke-width="2.4"/><path d="M421.7,156.0L434.7,175.3" stroke="#12123a" stroke-opacity="0.75" stroke-width="4.3"/><path d="M421.7,156.0L434.7,175.3" stroke="#2f2fe3" stroke-width="3.3"/><path d="M436.9,35.7L449.7,54.9" stroke="#12123a" stroke-opacity="0.75" stroke-width="5.4"/><path d="M436.9,35.7L449.7,54.9" stroke="#3030e3" stroke-width="4.4"/><path d="M658.4,243.8L675.7,220.6" stroke="#12123a" stroke-opacity="0.75" stroke-width="4.5"/><path d="M658.4,243.8L675.7,220.6" stroke="#6060fd" stroke-width="3.5"/><path d="M610.0,91.5L619.5,74.5" stroke="#12123a" stroke-opacity="0.75" stroke-width="4.2"/><path d="M610.0,91.5L619.5,74.5" stroke="#2626de" stroke-width="3.2"/><path d="M644.5,147.3L645.4,123.0" stroke="#12123a" stroke-opacity="0.75" stroke-width="3.6"/><path d="M644.5,147.3L645.4,123.0" stroke="#2a2ae0" stroke-width="2.6"/><path d="M546.2,63.4L551.0,55.1" stroke="#12123a" stroke-opacity="0.75" stroke-width="3.1"/><path d="M546.2,63.4L551.0,55.1" stroke="#3131e4" stroke-width="2.1"/><path d="M523.9,247.6L536.5,236.1" stroke="#12123a" stroke-opacity="0.75" stroke-width="4.0"/><path d="M523.9,247.6L536.5,236.1" stroke="#2c2ce1" stroke-width="3.0"/><path d="M507.0,251.6L517.1,237.3" stroke="#12123a" stroke-opacity="0.75" stroke-width="4.7"/><path d="M507.0,251.6L517.1,237.3" stroke="#4e4ef3" stroke-width="3.7"/><path d="M526.2,159.5L553.5,165.3" stroke="#12123a" stroke-opacity="0.75" stroke-width="3.6"/><path d="M526.2,159.5L553.5,165.3" stroke="#3d3dea" stroke-width="2.6"/><path d="M692.1,145.5L690.1,120.8" stroke="#12123a" stroke-opacity="0.75" stroke-width="3.1"/><path d="M692.1,145.5L690.1,120.8" stroke="#2828df" stroke-width="2.1"/><path d="M530.9,76.6L546.2,58.1" stroke="#12123a" stroke-opacity="0.75" stroke-width="3.8"/><path d="M530.9,76.6L546.2,58.1" stroke="#4e4ef3" stroke-width="2.8"/><path d="M568.2,171.0L574.8,187.2" stroke="#12123a" stroke-opacity="0.75" stroke-width="3.3"/><path d="M568.2,171.0L574.8,187.2" stroke="#3838e8" stroke-width="2.3"/><path d="M674.0,230.3L679.0,222.1" stroke="#12123a" stroke-opacity="0.75" stroke-width="3.7"/><path d="M674.0,230.3L679.0,222.1" stroke="#4848f0" stroke-width="2.7"/><path d="M493.2,22.0L506.2,38.0" stroke="#12123a" stroke-opacity="0.75" stroke-width="4.9"/><path d="M493.2,22.0L506.2,38.0" stroke="#3434e5" stroke-width="3.9"/><path d="M570.8,168.5L573.6,177.1" stroke="#12123a" stroke-opacity="0.75" stroke-width="4.8"/><path d="M570.8,168.5L573.6,177.1" stroke="#2828df" stroke-width="3.8"/><path d="M365.0,122.3L372.4,116.1" stroke="#12123a" stroke-opacity="0.75" stroke-width="4.0"/><path d="M365.0,122.3L372.4,116.1" stroke="#3838e7" stroke-width="3.0"/><path d="M377.2,245.9L395.0,240.2" stroke="#12123a" stroke-opacity="0.75" stroke-width="4.5"/><path d="M377.2,245.9L395.0,240.2" stroke="#2f2fe3" stroke-width="3.5"/><path d="M683.2,33.5L689.6,22.3" stroke="#12123a" stroke-opacity="0.75" stroke-width="5.2"/><path d="M683.2,33.5L689.6,22.3" stroke="#3b3be9" stroke-width="4.2"/><path d="M483.7,98.6L497.1,101.2" stroke="#12123a" stroke-opacity="0.75" stroke-width="5.0"/><path d="M483.7,98.6L497.1,101.2" stroke="#4949f0" stroke-width="4.0"/><path d="M494.4,91.4L512.3,91.4" stroke="#12123a" stroke-opacity="0.75" stroke-width="3.8"/><path d="M494.4,91.4L512.3,91.4" stroke="#4343ed" stroke-width="2.8"/><path d="M486.0,67.6L495.2,83.1" stroke="#12123a" stroke-opacity="0.75" stroke-width="4.2"/><path d="M486.0,67.6L495.2,83.1" stroke="#5858f8" stroke-width="3.2"/><path d="M491.0,91.2L520.0,96.8" stroke="#12123a" stroke-opacity="0.75" stroke-width="5.0"/><path d="M491.0,91.2L520.0,96.8" stroke="#3434e5" stroke-width="4.0"/><path d="M574.3,177.4L584.8,198.9" stroke="#12123a" stroke-opacity="0.75" stroke-width="5.4"/><path d="M574.3,177.4L584.8,198.9" stroke="#4545ee" stroke-width="4.4"/><path d="M574.7,114.4L582.7,104.1" stroke="#12123a" stroke-opacity="0.75" stroke-width="4.9"/><path d="M574.7,114.4L582.7,104.1" stroke="#3d3dea" stroke-width="3.9"/><path d="M684.6,89.3L685.7,81.0" stroke="#12123a" stroke-opacity="0.75" stroke-width="4.0"/><path d="M684.6,89.3L685.7,81.0" stroke="#4e4ef3" stroke-width="3.0"/><path d="M432.6,149.6L444.9,161.0" stroke="#12123a" stroke-opacity="0.75" stroke-width="5.5"/><path d="M432.6,149.6L444.9,161.0" stroke="#2a2ae0" stroke-width="4.5"/><path d="M654.5,22.9L669.9,1.9" stroke="#12123a" stroke-opacity="0.75" stroke-width="5.1"/><path d="M654.5,22.9L669.9,1.9" stroke="#3333e5" stroke-width="4.1"/><path d="M539.8,179.4L564.0,182.1" stroke="#12123a" stroke-opacity="0.75" stroke-width="4.4"/><path d="M539.8,179.4L564.0,182.1" stroke="#2c2ce1" stroke-width="3.4"/><path d="M582.6,153.9L599.8,129.7" stroke="#12123a" stroke-opacity="0.75" stroke-width="3.3"/><path d="M582.6,153.9L599.8,129.7" stroke="#4f4ff4" stroke-width="2.3"/><path d="M455.6,188.8L466.5,180.1" stroke="#12123a" stroke-opacity="0.75" stroke-width="4.4"/><path d="M455.6,188.8L466.5,180.1" stroke="#3c3ce9" stroke-width="3.4"/><path d="M511.0,51.1L527.7,29.1" stroke="#12123a" stroke-opacity="0.75" stroke-width="4.7"/><path d="M511.0,51.1L527.7,29.1" stroke="#2e2ee2" stroke-width="3.7"/><path d="M621.0,115.0L630.3,95.8" stroke="#12123a" stroke-opacity="0.75" stroke-width="4.2"/><path d="M621.0,115.0L630.3,95.8" stroke="#3c3ce9" stroke-width="3.2"/><path d="M687.1,151.6L690.8,136.3" stroke="#12123a" stroke-opacity="0.75" stroke-width="4.9"/><path d="M687.1,151.6L690.8,136.3" stroke="#2626de" stroke-width="3.9"/><path d="M445.0,164.9L460.4,186.1" stroke="#12123a" stroke-opacity="0.75" stroke-width="4.0"/><path d="M445.0,164.9L460.4,186.1" stroke="#2d2de2" stroke-width="3.0"/><path d="M464.6,137.0L480.6,134.2" stroke="#12123a" stroke-opacity="0.75" stroke-width="4.6"/><path d="M464.6,137.0L480.6,134.2" stroke="#2828df" stroke-width="3.6"/><path d="M452.1,216.9L460.7,227.3" stroke="#12123a" stroke-opacity="0.75" stroke-width="3.4"/><path d="M452.1,216.9L460.7,227.3" stroke="#2828df" stroke-width="2.4"/><path d="M375.1,207.3L383.5,196.4" stroke="#12123a" stroke-opacity="0.75" stroke-width="4.2"/><path d="M375.1,207.3L383.5,196.4" stroke="#4848f0" stroke-width="3.2"/><path d="M353.6,210.2L365.6,206.4" stroke="#12123a" stroke-opacity="0.75" stroke-width="4.8"/><path d="M353.6,210.2L365.6,206.4" stroke="#4848f0" stroke-width="3.8"/><path d="M460.2,231.3L470.4,216.0" stroke="#12123a" stroke-opacity="0.75" stroke-width="3.8"/><path d="M460.2,231.3L470.4,216.0" stroke="#3636e6" stroke-width="2.8"/><path d="M626.4,158.8L629.2,129.3" stroke="#12123a" stroke-opacity="0.75" stroke-width="3.6"/><path d="M626.4,158.8L629.2,129.3" stroke="#2b2be0" stroke-width="2.6"/><path d="M556.4,41.2L567.4,30.3" stroke="#12123a" stroke-opacity="0.75" stroke-width="4.1"/><path d="M556.4,41.2L567.4,30.3" stroke="#3636e6" stroke-width="3.1"/><path d="M631.3,227.5L634.8,238.8" stroke="#12123a" stroke-opacity="0.75" stroke-width="3.9"/><path d="M631.3,227.5L634.8,238.8" stroke="#4949f0" stroke-width="2.9"/><path d="M419.6,219.8L428.2,229.6" stroke="#12123a" stroke-opacity="0.75" stroke-width="3.9"/><path d="M419.6,219.8L428.2,229.6" stroke="#2b2be1" stroke-width="2.9"/><path d="M592.8,12.8L598.7,5.5" stroke="#12123a" stroke-opacity="0.75" stroke-width="5.1"/><path d="M592.8,12.8L598.7,5.5" stroke="#3d3dea" stroke-width="4.1"/><path d="M546.3,28.8L552.5,14.3" stroke="#12123a" stroke-opacity="0.75" stroke-width="5.5"/><path d="M546.3,28.8L552.5,14.3" stroke="#4141ec" stroke-width="4.5"/><path d="M643.1,17.0L646.7,9.3" stroke="#12123a" stroke-opacity="0.75" stroke-width="4.7"/><path d="M643.1,17.0L646.7,9.3" stroke="#2929e0" stroke-width="3.7"/><path d="M438.8,163.0L447.7,175.2" stroke="#12123a" stroke-opacity="0.75" stroke-width="4.2"/><path d="M438.8,163.0L447.7,175.2" stroke="#2e2ee2" stroke-width="3.2"/><path d="M538.5,94.6L545.4,83.0" stroke="#12123a" stroke-opacity="0.75" stroke-width="3.7"/><path d="M538.5,94.6L545.4,83.0" stroke="#2d2de1" stroke-width="2.7"/><path d="M349.3,80.1L361.8,74.0" stroke="#12123a" stroke-opacity="0.75" stroke-width="3.3"/><path d="M349.3,80.1L361.8,74.0" stroke="#5555f7" stroke-width="2.3"/><path d="M496.7,129.8L524.2,128.3" stroke="#12123a" stroke-opacity="0.75" stroke-width="4.9"/><path d="M496.7,129.8L524.2,128.3" stroke="#4343ed" stroke-width="3.9"/><path d="M572.4,167.7L578.6,183.6" stroke="#12123a" stroke-opacity="0.75" stroke-width="4.0"/><path d="M572.4,167.7L578.6,183.6" stroke="#3a3ae9" stroke-width="3.0"/><path d="M497.6,133.0L522.9,133.9" stroke="#12123a" stroke-opacity="0.75" stroke-width="5.2"/><path d="M497.6,133.0L522.9,133.9" stroke="#2b2be1" stroke-width="4.2"/><path d="M347.7,82.8L367.5,66.6" stroke="#12123a" stroke-opacity="0.75" stroke-width="4.6"/><path d="M347.7,82.8L367.5,66.6" stroke="#2e2ee2" stroke-width="3.6"/><path d="M407.7,212.5L423.1,229.7" stroke="#12123a" stroke-opacity="0.75" stroke-width="4.7"/><path d="M407.7,212.5L423.1,229.7" stroke="#4c4cf2" stroke-width="3.7"/><path d="M491.8,98.9L519.2,100.2" stroke="#12123a" stroke-opacity="0.75" stroke-width="5.5"/><path d="M491.8,98.9L519.2,100.2" stroke="#5b5bfa" stroke-width="4.5"/><path d="M628.8,29.1L642.6,3.2" stroke="#12123a" stroke-opacity="0.75" stroke-width="4.4"/><path d="M628.8,29.1L642.6,3.2" stroke="#3b3be9" stroke-width="3.4"/><path d="M444.6,209.7L467.3,229.0" stroke="#12123a" stroke-opacity="0.75" stroke-width="3.2"/><path d="M444.6,209.7L467.3,229.0" stroke="#6363fe" stroke-width="2.2"/><path d="M347.0,27.3L362.2,43.2" stroke="#12123a" stroke-opacity="0.75" stroke-width="3.3"/><path d="M347.0,27.3L362.2,43.2" stroke="#3e3eeb" stroke-width="2.3"/><path d="M669.6,119.7L672.9,99.0" stroke="#12123a" stroke-opacity="0.75" stroke-width="4.5"/><path d="M669.6,119.7L672.9,99.0" stroke="#2929df" stroke-width="3.5"/><path d="M503.9,233.5L513.5,225.1" stroke="#12123a" stroke-opacity="0.75" stroke-width="4.1"/><path d="M503.9,233.5L513.5,225.1" stroke="#3d3dea" stroke-width="3.1"/><path d="M461.0,145.7L469.4,146.4" stroke="#12123a" stroke-opacity="0.75" stroke-width="3.6"/><path d="M461.0,145.7L469.4,146.4" stroke="#4545ee" stroke-width="2.6"/><path d="M419.4,9.2L427.3,22.4" stroke="#12123a" stroke-opacity="0.75" stroke-width="5.4"/><path d="M419.4,9.2L427.3,22.4" stroke="#3e3eeb" stroke-width="4.4"/><path d="M377.1,171.8L392.2,150.8" stroke="#12123a" stroke-opacity="0.75" stroke-width="4.8"/><path d="M377.1,171.8L392.2,150.8" stroke="#4d4df3" stroke-width="3.8"/><path d="M366.5,1.2L372.7,10.4" stroke="#12123a" stroke-opacity="0.75" stroke-width="3.5"/><path d="M366.5,1.2L372.7,10.4" stroke="#2626de" stroke-width="2.5"/><path d="M398.8,121.7L413.0,116.6" stroke="#12123a" stroke-opacity="0.75" stroke-width="3.6"/><path d="M398.8,121.7L413.0,116.6" stroke="#5353f6" stroke-width="2.6"/><path d="M403.1,171.1L423.0,150.6" stroke="#12123a" stroke-opacity="0.75" stroke-width="3.1"/><path d="M403.1,171.1L423.0,150.6" stroke="#3e3eeb" stroke-width="2.1"/><path d="M474.2,219.3L487.7,199.7" stroke="#12123a" stroke-opacity="0.75" stroke-width="3.5"/><path d="M474.2,219.3L487.7,199.7" stroke="#3a3ae8" stroke-width="2.5"/><path d="M674.4,71.2L688.0,46.6" stroke="#12123a" stroke-opacity="0.75" stroke-width="4.7"/><path d="M674.4,71.2L688.0,46.6" stroke="#2626de" stroke-width="3.7"/><path d="M403.5,66.6L424.1,49.8" stroke="#12123a" stroke-opacity="0.75" stroke-width="4.8"/><path d="M403.5,66.6L424.1,49.8" stroke="#6262fd" stroke-width="3.8"/><path d="M567.1,159.3L590.9,158.7" stroke="#12123a" stroke-opacity="0.75" stroke-width="4.2"/><path d="M567.1,159.3L590.9,158.7" stroke="#2626de" stroke-width="3.2"/><path d="M513.7,95.9L522.8,96.3" stroke="#12123a" stroke-opacity="0.75" stroke-width="3.1"/><path d="M513.7,95.9L522.8,96.3" stroke="#6262fe" stroke-width="2.1"/><path d="M469.2,89.3L484.7,75.0" stroke="#12123a" stroke-opacity="0.75" stroke-width="5.3"/><path d="M469.2,89.3L484.7,75.0" stroke="#2a2ae0" stroke-width="4.3"/><path d="M511.0,124.5L531.2,127.3" stroke="#12123a" stroke-opacity="0.75" stroke-width="3.6"/><path d="M511.0,124.5L531.2,127.3" stroke="#2a2ae0" stroke-width="2.6"/><path d="M594.8,20.4L600.8,14.0" stroke="#12123a" stroke-opacity="0.75" stroke-width="3.5"/><path d="M594.8,20.4L600.8,14.0" stroke="#3838e7" stroke-width="2.5"/><path d="M636.8,169.1L640.5,144.6" stroke="#12123a" stroke-opacity="0.75" stroke-width="4.8"/><path d="M636.8,169.1L640.5,144.6" stroke="#2626de" stroke-width="3.8"/><path d="M630.3,39.1L634.2,31.2" stroke="#12123a" stroke-opacity="0.75" stroke-width="3.1"/><path d="M630.3,39.1L634.2,31.2" stroke="#5858f8" stroke-width="2.1"/><path d="M470.4,10.4L490.2,28.2" stroke="#12123a" stroke-opacity="0.75" stroke-width="4.5"/><path d="M470.4,10.4L490.2,28.2" stroke="#5b5bfa" stroke-width="3.5"/><path d="M358.4,21.8L367.2,30.3" stroke="#12123a" stroke-opacity="0.75" stroke-width="3.3"/><path d="M358.4,21.8L367.2,30.3" stroke="#2a2ae0" stroke-width="2.3"/><path d="M564.6,49.2L573.4,31.5" stroke="#12123a" stroke-opacity="0.75" stroke-width="3.9"/><path d="M564.6,49.2L573.4,31.5" stroke="#2828df" stroke-width="2.9"/><path d="M535.1,128.3L553.5,127.8" stroke="#12123a" stroke-opacity="0.75" stroke-width="3.1"/><path d="M535.1,128.3L553.5,127.8" stroke="#4242ed" stroke-width="2.1"/><path d="M406.0,92.9L426.3,74.3" stroke="#12123a" stroke-opacity="0.75" stroke-width="4.5"/><path d="M406.0,92.9L426.3,74.3" stroke="#3333e5" stroke-width="3.5"/><path d="M530.5,246.2L540.1,232.8" stroke="#12123a" stroke-opacity="0.75" stroke-width="4.8"/><path d="M530.5,246.2L540.1,232.8" stroke="#3232e4" stroke-width="3.8"/><path d="M587.9,225.3L595.5,237.4" stroke="#12123a" stroke-opacity="0.75" stroke-width="3.7"/><path d="M587.9,225.3L595.5,237.4" stroke="#4d4df2" stroke-width="2.7"/><path d="M616.9,183.4L619.6,171.6" stroke="#12123a" stroke-opacity="0.75" stroke-width="4.0"/><path d="M616.9,183.4L619.6,171.6" stroke="#5656f7" stroke-width="3.0"/><path d="M603.1,34.6L620.5,17.6" stroke="#12123a" stroke-opacity="0.75" stroke-width="5.2"/><path d="M603.1,34.6L620.5,17.6" stroke="#3232e4" stroke-width="4.2"/><path d="M555.0,234.2L559.2,254.5" stroke="#12123a" stroke-opacity="0.75" stroke-width="5.2"/><path d="M555.0,234.2L559.2,254.5" stroke="#6363fe" stroke-width="4.2"/><path d="M635.7,171.6L638.3,160.8" stroke="#12123a" stroke-opacity="0.75" stroke-width="4.0"/><path d="M635.7,171.6L638.3,160.8" stroke="#3e3eeb" stroke-width="3.0"/><path d="M391.0,208.6L399.0,188.3" stroke="#12123a" stroke-opacity="0.75" stroke-width="3.7"/><path d="M391.0,208.6L399.0,188.3" stroke="#3030e3" stroke-width="2.7"/><path d="M550.2,57.7L564.8,35.1" stroke="#12123a" stroke-opacity="0.75" stroke-width="5.5"/><path d="M550.2,57.7L564.8,35.1" stroke="#2d2de1" stroke-width="4.5"/><path d="M467.8,187.2L482.3,164.8" stroke="#12123a" stroke-opacity="0.75" stroke-width="3.5"/><path d="M467.8,187.2L482.3,164.8" stroke="#3e3eea" stroke-width="2.5"/><path d="M463.0,-5.3L469.1,-0.1" stroke="#12123a" stroke-opacity="0.75" stroke-width="3.8"/><path d="M463.0,-5.3L469.1,-0.1" stroke="#2d2de2" stroke-width="2.8"/><path d="M690.6,173.3L687.5,149.7" stroke="#12123a" stroke-opacity="0.75" stroke-width="3.6"/><path d="M690.6,173.3L687.5,149.7" stroke="#3939e8" stroke-width="2.6"/><path d="M595.5,209.5L598.7,226.5" stroke="#12123a" stroke-opacity="0.75" stroke-width="3.8"/><path d="M595.5,209.5L598.7,226.5" stroke="#3434e5" stroke-width="2.8"/><path d="M449.6,197.2L464.3,179.5" stroke="#12123a" stroke-opacity="0.75" stroke-width="3.4"/><path d="M449.6,197.2L464.3,179.5" stroke="#4f4ff4" stroke-width="2.4"/><path d="M677.2,54.0L684.1,44.8" stroke="#12123a" stroke-opacity="0.75" stroke-width="3.1"/><path d="M677.2,54.0L684.1,44.8" stroke="#3535e6" stroke-width="2.1"/><path d="M405.5,176.6L419.8,194.4" stroke="#12123a" stroke-opacity="0.75" stroke-width="5.4"/><path d="M405.5,176.6L419.8,194.4" stroke="#2626de" stroke-width="4.4"/><path d="M374.9,-3.5L392.4,15.9" stroke="#12123a" stroke-opacity="0.75" stroke-width="4.7"/><path d="M374.9,-3.5L392.4,15.9" stroke="#3d3dea" stroke-width="3.7"/><path d="M638.2,103.0L647.5,83.0" stroke="#12123a" stroke-opacity="0.75" stroke-width="3.1"/><path d="M638.2,103.0L647.5,83.0" stroke="#2b2be1" stroke-width="2.1"/><path d="M352.0,44.2L368.3,33.2" stroke="#12123a" stroke-opacity="0.75" stroke-width="3.3"/><path d="M352.0,44.2L368.3,33.2" stroke="#4141ec" stroke-width="2.3"/><path d="M627.0,96.2L636.7,75.5" stroke="#12123a" stroke-opacity="0.75" stroke-width="4.8"/><path d="M627.0,96.2L636.7,75.5" stroke="#5858f9" stroke-width="3.8"/><path d="M528.2,145.2L550.8,149.2" stroke="#12123a" stroke-opacity="0.75" stroke-width="5.4"/><path d="M528.2,145.2L550.8,149.2" stroke="#2e2ee2" stroke-width="4.4"/><path d="M614.7,164.4L615.0,156.2" stroke="#12123a" stroke-opacity="0.75" stroke-width="4.2"/><path d="M614.7,164.4L615.0,156.2" stroke="#2d2de1" stroke-width="3.2"/><path d="M553.1,132.3L558.3,124.6" stroke="#12123a" stroke-opacity="0.75" stroke-width="3.3"/><path d="M553.1,132.3L558.3,124.6" stroke="#4141ec" stroke-width="2.3"/><path d="M581.5,245.6L585.0,259.5" stroke="#12123a" stroke-opacity="0.75" stroke-width="4.1"/><path d="M581.5,245.6L585.0,259.5" stroke="#3a3ae9" stroke-width="3.1"/><path d="M618.5,105.5L631.5,92.1" stroke="#12123a" stroke-opacity="0.75" stroke-width="4.0"/><path d="M618.5,105.5L631.5,92.1" stroke="#3939e8" stroke-width="3.0"/><path d="M467.6,261.9L476.8,247.9" stroke="#12123a" stroke-opacity="0.75" stroke-width="3.2"/><path d="M467.6,261.9L476.8,247.9" stroke="#4747ef" stroke-width="2.2"/><path d="M394.1,43.1L408.9,27.8" stroke="#12123a" stroke-opacity="0.75" stroke-width="4.9"/><path d="M394.1,43.1L408.9,27.8" stroke="#3636e7" stroke-width="3.9"/><path d="M445.0,94.2L456.8,89.6" stroke="#12123a" stroke-opacity="0.75" stroke-width="3.0"/><path d="M445.0,94.2L456.8,89.6" stroke="#5959f9" stroke-width="2.0"/><path d="M505.2,21.5L525.1,40.7" stroke="#12123a" stroke-opacity="0.75" stroke-width="4.9"/><path d="M505.2,21.5L525.1,40.7" stroke="#2626de" stroke-width="3.9"/><path d="M575.1,61.1L586.7,43.2" stroke="#12123a" stroke-opacity="0.75" stroke-width="3.1"/><path d="M575.1,61.1L586.7,43.2" stroke="#5d5dfb" stroke-width="2.1"/><path d="M462.0,29.7L467.3,38.6" stroke="#12123a" stroke-opacity="0.75" stroke-width="3.1"/><path d="M462.0,29.7L467.3,38.6" stroke="#4545ee" stroke-width="2.1"/><path d="M505.9,233.3L515.7,225.4" stroke="#12123a" stroke-opacity="0.75" stroke-width="3.1"/><path d="M505.9,233.3L515.7,225.4" stroke="#4141ec" stroke-width="2.1"/><path d="M506.5,79.2L515.3,70.2" stroke="#12123a" stroke-opacity="0.75" stroke-width="4.6"/><path d="M506.5,79.2L515.3,70.2" stroke="#2626de" stroke-width="3.6"/><path d="M660.6,247.1L671.1,236.4" stroke="#12123a" stroke-opacity="0.75" stroke-width="4.8"/><path d="M660.6,247.1L671.1,236.4" stroke="#5a5afa" stroke-width="3.8"/><path d="M618.7,12.1L625.0,2.9" stroke="#12123a" stroke-opacity="0.75" stroke-width="4.4"/><path d="M618.7,12.1L625.0,2.9" stroke="#5f5ffc" stroke-width="3.4"/><path d="M641.5,67.3L650.1,55.1" stroke="#12123a" stroke-opacity="0.75" stroke-width="3.4"/><path d="M641.5,67.3L650.1,55.1" stroke="#4c4cf2" stroke-width="2.4"/><path d="M603.5,93.7L615.9,74.0" stroke="#12123a" stroke-opacity="0.75" stroke-width="4.8"/><path d="M603.5,93.7L615.9,74.0" stroke="#3838e7" stroke-width="3.8"/><path d="M382.4,32.0L398.5,11.4" stroke="#12123a" stroke-opacity="0.75" stroke-width="4.2"/><path d="M382.4,32.0L398.5,11.4" stroke="#4444ee" stroke-width="3.2"/><path d="M463.2,101.4L486.2,83.0" stroke="#12123a" stroke-opacity="0.75" stroke-width="4.5"/><path d="M463.2,101.4L486.2,83.0" stroke="#2828df" stroke-width="3.5"/><path d="M582.8,161.2L597.8,141.3" stroke="#12123a" stroke-opacity="0.75" stroke-width="4.5"/><path d="M582.8,161.2L597.8,141.3" stroke="#5858f8" stroke-width="3.5"/><path d="M680.7,110.0L682.5,93.9" stroke="#12123a" stroke-opacity="0.75" stroke-width="4.0"/><path d="M680.7,110.0L682.5,93.9" stroke="#3232e4" stroke-width="3.0"/><path d="M564.6,99.4L578.1,76.5" stroke="#12123a" stroke-opacity="0.75" stroke-width="5.0"/><path d="M564.6,99.4L578.1,76.5" stroke="#4747ef" stroke-width="4.0"/><path d="M634.4,102.0L642.6,91.2" stroke="#12123a" stroke-opacity="0.75" stroke-width="3.8"/><path d="M634.4,102.0L642.6,91.2" stroke="#2727de" stroke-width="2.8"/><path d="M619.5,227.4L626.7,242.0" stroke="#12123a" stroke-opacity="0.75" stroke-width="3.3"/><path d="M619.5,227.4L626.7,242.0" stroke="#2828df" stroke-width="2.3"/><path d="M564.7,221.3L571.8,233.0" stroke="#12123a" stroke-opacity="0.75" stroke-width="4.9"/><path d="M564.7,221.3L571.8,233.0" stroke="#2b2be1" stroke-width="3.9"/><path d="M646.7,93.2L653.6,82.8" stroke="#12123a" stroke-opacity="0.75" stroke-width="3.7"/><path d="M646.7,93.2L653.6,82.8" stroke="#3535e6" stroke-width="2.7"/><path d="M436.5,178.3L453.8,191.9" stroke="#12123a" stroke-opacity="0.75" stroke-width="5.0"/><path d="M436.5,178.3L453.8,191.9" stroke="#3030e3" stroke-width="4.0"/><path d="M408.1,38.2L422.9,17.6" stroke="#12123a" stroke-opacity="0.75" stroke-width="4.5"/><path d="M408.1,38.2L422.9,17.6" stroke="#2626de" stroke-width="3.5"/><path d="M500.6,151.7L509.4,151.2" stroke="#12123a" stroke-opacity="0.75" stroke-width="4.1"/><path d="M500.6,151.7L509.4,151.2" stroke="#3131e4" stroke-width="3.1"/><path d="M679.5,103.0L685.5,76.6" stroke="#12123a" stroke-opacity="0.75" stroke-width="4.4"/><path d="M679.5,103.0L685.5,76.6" stroke="#2828df" stroke-width="3.4"/><path d="M623.3,24.4L629.2,16.1" stroke="#12123a" stroke-opacity="0.75" stroke-width="3.2"/><path d="M623.3,24.4L629.2,16.1" stroke="#3434e5" stroke-width="2.2"/><path d="M393.1,243.7L413.8,262.2" stroke="#12123a" stroke-opacity="0.75" stroke-width="5.4"/><path d="M393.1,243.7L413.8,262.2" stroke="#4d4df3" stroke-width="4.4"/><path d="M563.4,127.6L578.3,110.4" stroke="#12123a" stroke-opacity="0.75" stroke-width="3.4"/><path d="M563.4,127.6L578.3,110.4" stroke="#3c3ce9" stroke-width="2.4"/><path d="M479.9,128.7L502.9,131.3" stroke="#12123a" stroke-opacity="0.75" stroke-width="4.4"/><path d="M479.9,128.7L502.9,131.3" stroke="#5050f4" stroke-width="3.4"/><path d="M630.3,24.9L634.2,16.8" stroke="#12123a" stroke-opacity="0.75" stroke-width="3.4"/><path d="M630.3,24.9L634.2,16.8" stroke="#5f5ffc" stroke-width="2.4"/><path d="M447.2,115.6L464.6,104.9" stroke="#12123a" stroke-opacity="0.75" stroke-width="3.7"/><path d="M447.2,115.6L464.6,104.9" stroke="#4f4ff4" stroke-width="2.7"/><path d="M460.5,217.9L466.4,212.5" stroke="#12123a" stroke-opacity="0.75" stroke-width="4.4"/><path d="M460.5,217.9L466.4,212.5" stroke="#2727de" stroke-width="3.4"/><path d="M646.4,25.8L658.3,4.0" stroke="#12123a" stroke-opacity="0.75" stroke-width="4.5"/><path d="M646.4,25.8L658.3,4.0" stroke="#4646ef" stroke-width="3.5"/><path d="M482.2,132.2L500.3,130.4" stroke="#12123a" stroke-opacity="0.75" stroke-width="3.6"/><path d="M482.2,132.2L500.3,130.4" stroke="#4747ef" stroke-width="2.6"/><path d="M380.3,40.2L392.7,24.8" stroke="#12123a" stroke-opacity="0.75" stroke-width="4.5"/><path d="M380.3,40.2L392.7,24.8" stroke="#2626de" stroke-width="3.5"/><path d="M684.0,217.0L691.2,208.1" stroke="#12123a" stroke-opacity="0.75" stroke-width="5.1"/><path d="M684.0,217.0L691.2,208.1" stroke="#6161fd" stroke-width="4.1"/><path d="M403.2,180.0L418.7,204.1" stroke="#12123a" stroke-opacity="0.75" stroke-width="3.5"/><path d="M403.2,180.0L418.7,204.1" stroke="#2828df" stroke-width="2.5"/><path d="M393.5,62.5L419.0,50.9" stroke="#12123a" stroke-opacity="0.75" stroke-width="4.2"/><path d="M393.5,62.5L419.0,50.9" stroke="#2828df" stroke-width="3.2"/><path d="M464.0,49.3L477.2,69.1" stroke="#12123a" stroke-opacity="0.75" stroke-width="4.9"/><path d="M464.0,49.3L477.2,69.1" stroke="#3636e6" stroke-width="3.9"/><path d="M497.2,118.0L515.2,117.4" stroke="#12123a" stroke-opacity="0.75" stroke-width="4.7"/><path d="M497.2,118.0L515.2,117.4" stroke="#4949f1" stroke-width="3.7"/><path d="M457.2,143.8L466.1,142.7" stroke="#12123a" stroke-opacity="0.75" stroke-width="4.0"/><path d="M457.2,143.8L466.1,142.7" stroke="#3232e4" stroke-width="3.0"/><path d="M351.4,7.0L370.9,28.0" stroke="#12123a" stroke-opacity="0.75" stroke-width="5.1"/><path d="M351.4,7.0L370.9,28.0" stroke="#2626de" stroke-width="4.1"/><path d="M453.8,95.3L462.8,88.9" stroke="#12123a" stroke-opacity="0.75" stroke-width="4.5"/><path d="M453.8,95.3L462.8,88.9" stroke="#5454f6" stroke-width="3.5"/><path d="M477.5,39.6L483.6,45.4" stroke="#12123a" stroke-opacity="0.75" stroke-width="4.9"/><path d="M477.5,39.6L483.6,45.4" stroke="#2b2be1" stroke-width="3.9"/><path d="M594.5,195.8L600.8,206.2" stroke="#12123a" stroke-opacity="0.75" stroke-width="3.8"/><path d="M594.5,195.8L600.8,206.2" stroke="#4e4ef3" stroke-width="2.8"/><path d="M597.7,81.8L606.3,68.5" stroke="#12123a" stroke-opacity="0.75" stroke-width="4.2"/><path d="M597.7,81.8L606.3,68.5" stroke="#5050f4" stroke-width="3.2"/><path d="M434.1,196.9L444.9,215.3" stroke="#12123a" stroke-opacity="0.75" stroke-width="5.4"/><path d="M434.1,196.9L444.9,215.3" stroke="#5d5dfb" stroke-width="4.4"/><path d="M397.7,245.8L419.3,259.8" stroke="#12123a" stroke-opacity="0.75" stroke-width="3.3"/><path d="M397.7,245.8L419.3,259.8" stroke="#2f2fe2" stroke-width="2.3"/><path d="M495.0,213.0L507.4,214.0" stroke="#12123a" stroke-opacity="0.75" stroke-width="5.2"/><path d="M495.0,213.0L507.4,214.0" stroke="#5757f8" stroke-width="4.2"/><path d="M519.5,4.7L529.2,15.4" stroke="#12123a" stroke-opacity="0.75" stroke-width="4.0"/><path d="M519.5,4.7L529.2,15.4" stroke="#5e5efc" stroke-width="3.0"/><path d="M546.9,209.7L560.1,207.3" stroke="#12123a" stroke-opacity="0.75" stroke-width="4.8"/><path d="M546.9,209.7L560.1,207.3" stroke="#3131e3" stroke-width="3.8"/><path d="M421.4,7.6L434.1,19.0" stroke="#12123a" stroke-opacity="0.75" stroke-width="4.4"/><path d="M421.4,7.6L434.1,19.0" stroke="#3434e5" stroke-width="3.4"/><path d="M538.9,82.6L547.6,61.5" stroke="#12123a" stroke-opacity="0.75" stroke-width="3.8"/><path d="M538.9,82.6L547.6,61.5" stroke="#3939e8" stroke-width="2.8"/><path d="M473.8,61.8L484.6,71.5" stroke="#12123a" stroke-opacity="0.75" stroke-width="3.7"/><path d="M473.8,61.8L484.6,71.5" stroke="#2727df" stroke-width="2.7"/><path d="M349.6,129.7L370.6,112.3" stroke="#12123a" stroke-opacity="0.75" stroke-width="3.9"/><path d="M349.6,129.7L370.6,112.3" stroke="#3636e6" stroke-width="2.9"/><path d="M520.6,-5.4L539.0,11.9" stroke="#12123a" stroke-opacity="0.75" stroke-width="4.4"/><path d="M520.6,-5.4L539.0,11.9" stroke="#3a3ae8" stroke-width="3.4"/><path d="M459.3,200.5L475.8,181.2" stroke="#12123a" stroke-opacity="0.75" stroke-width="5.1"/><path d="M459.3,200.5L475.8,181.2" stroke="#5959f9" stroke-width="4.1"/><path d="M594.5,161.7L602.0,180.0" stroke="#12123a" stroke-opacity="0.75" stroke-width="4.4"/><path d="M594.5,161.7L602.0,180.0" stroke="#3c3ce9" stroke-width="3.4"/><path d="M623.6,208.0L636.6,228.8" stroke="#12123a" stroke-opacity="0.75" stroke-width="4.5"/><path d="M623.6,208.0L636.6,228.8" stroke="#4141ec" stroke-width="3.5"/><path d="M656.1,16.6L665.1,3.0" stroke="#12123a" stroke-opacity="0.75" stroke-width="5.4"/><path d="M656.1,16.6L665.1,3.0" stroke="#2929df" stroke-width="4.4"/><path d="M536.5,41.4L548.6,27.1" stroke="#12123a" stroke-opacity="0.75" stroke-width="4.8"/><path d="M536.5,41.4L548.6,27.1" stroke="#2f2fe2" stroke-width="3.8"/><path d="M646.5,9.5L657.7,-11.9" stroke="#12123a" stroke-opacity="0.75" stroke-width="5.2"/><path d="M646.5,9.5L657.7,-11.9" stroke="#4f4ff4" stroke-width="4.2"/><path d="M437.7,7.7L450.5,28.1" stroke="#12123a" stroke-opacity="0.75" stroke-width="3.2"/><path d="M437.7,7.7L450.5,28.1" stroke="#5d5dfb" stroke-width="2.2"/><path d="M525.8,-0.5L535.2,11.7" stroke="#12123a" stroke-opacity="0.75" stroke-width="3.3"/><path d="M525.8,-0.5L535.2,11.7" stroke="#5959f9" stroke-width="2.3"/><path d="M665.8,34.9L673.4,23.1" stroke="#12123a" stroke-opacity="0.75" stroke-width="4.7"/><path d="M665.8,34.9L673.4,23.1" stroke="#2727de" stroke-width="3.7"/><path d="M456.6,107.4L471.6,98.3" stroke="#12123a" stroke-opacity="0.75" stroke-width="4.5"/><path d="M456.6,107.4L471.6,98.3" stroke="#5e5efb" stroke-width="3.5"/><path d="M663.6,235.3L673.5,226.9" stroke="#12123a" stroke-opacity="0.75" stroke-width="3.6"/><path d="M663.6,235.3L673.5,226.9" stroke="#3737e7" stroke-width="2.6"/><path d="M555.1,154.0L584.9,152.9" stroke="#12123a" stroke-opacity="0.75" stroke-width="3.8"/><path d="M555.1,154.0L584.9,152.9" stroke="#2626de" stroke-width="2.8"/><path d="M368.5,55.1L393.6,46.9" stroke="#12123a" stroke-opacity="0.75" stroke-width="3.1"/><path d="M368.5,55.1L393.6,46.9" stroke="#2c2ce1" stroke-width="2.1"/><path d="M429.3,194.0L436.4,205.8" stroke="#12123a" stroke-opacity="0.75" stroke-width="3.3"/><path d="M429.3,194.0L436.4,205.8" stroke="#6060fd" stroke-width="2.3"/><path d="M674.2,191.1L690.3,172.7" stroke="#12123a" stroke-opacity="0.75" stroke-width="4.9"/><path d="M674.2,191.1L690.3,172.7" stroke="#3b3be9" stroke-width="3.9"/><path d="M436.0,135.9L449.5,129.1" stroke="#12123a" stroke-opacity="0.75" stroke-width="4.6"/><path d="M436.0,135.9L449.5,129.1" stroke="#2828df" stroke-width="3.6"/><path d="M675.3,64.4L688.8,38.6" stroke="#12123a" stroke-opacity="0.75" stroke-width="5.4"/><path d="M675.3,64.4L688.8,38.6" stroke="#5c5cfb" stroke-width="4.4"/><path d="M635.3,206.0L640.1,225.9" stroke="#12123a" stroke-opacity="0.75" stroke-width="3.2"/><path d="M635.3,206.0L640.1,225.9" stroke="#4b4bf2" stroke-width="2.2"/><path d="M633.3,209.2L638.3,217.1" stroke="#12123a" stroke-opacity="0.75" stroke-width="4.8"/><path d="M633.3,209.2L638.3,217.1" stroke="#3939e8" stroke-width="3.8"/><path d="M651.3,242.0L660.0,263.2" stroke="#12123a" stroke-opacity="0.75" stroke-width="4.7"/><path d="M651.3,242.0L660.0,263.2" stroke="#4848f0" stroke-width="3.7"/><path d="M462.0,164.2L489.4,159.8" stroke="#12123a" stroke-opacity="0.75" stroke-width="4.8"/><path d="M462.0,164.2L489.4,159.8" stroke="#5151f5" stroke-width="3.8"/><path d="M501.0,40.9L515.2,58.9" stroke="#12123a" stroke-opacity="0.75" stroke-width="4.4"/><path d="M501.0,40.9L515.2,58.9" stroke="#2727de" stroke-width="3.4"/><path d="M345.9,103.3L356.6,96.0" stroke="#12123a" stroke-opacity="0.75" stroke-width="3.6"/><path d="M345.9,103.3L356.6,96.0" stroke="#3535e6" stroke-width="2.6"/><path d="M586.5,228.5L589.0,236.6" stroke="#12123a" stroke-opacity="0.75" stroke-width="5.2"/><path d="M586.5,228.5L589.0,236.6" stroke="#4242ec" stroke-width="4.2"/><path d="M600.4,163.1L600.2,147.6" stroke="#12123a" stroke-opacity="0.75" stroke-width="3.2"/><path d="M600.4,163.1L600.2,147.6" stroke="#4646ef" stroke-width="2.2"/><path d="M359.6,179.8L377.3,165.6" stroke="#12123a" stroke-opacity="0.75" stroke-width="4.5"/><path d="M359.6,179.8L377.3,165.6" stroke="#5252f5" stroke-width="3.5"/><path d="M670.9,212.0L685.5,201.3" stroke="#12123a" stroke-opacity="0.75" stroke-width="3.0"/><path d="M670.9,212.0L685.5,201.3" stroke="#4242ed" stroke-width="2.0"/><path d="M565.8,212.1L570.9,227.3" stroke="#12123a" stroke-opacity="0.75" stroke-width="3.0"/><path d="M565.8,212.1L570.9,227.3" stroke="#5454f6" stroke-width="2.0"/><path d="M559.3,238.6L568.0,263.9" stroke="#12123a" stroke-opacity="0.75" stroke-width="4.9"/><path d="M559.3,238.6L568.0,263.9" stroke="#6363fe" stroke-width="3.9"/><path d="M505.4,231.5L510.9,225.4" stroke="#12123a" stroke-opacity="0.75" stroke-width="3.8"/><path d="M505.4,231.5L510.9,225.4" stroke="#3131e4" stroke-width="2.8"/><path d="M689.9,110.5L688.8,87.3" stroke="#12123a" stroke-opacity="0.75" stroke-width="3.2"/><path d="M689.9,110.5L688.8,87.3" stroke="#2f2fe2" stroke-width="2.2"/><path d="M480.1,22.0L490.0,36.2" stroke="#12123a" stroke-opacity="0.75" stroke-width="5.0"/><path d="M480.1,22.0L490.0,36.2" stroke="#3131e3" stroke-width="4.0"/><path d="M680.5,52.8L688.0,42.2" stroke="#12123a" stroke-opacity="0.75" stroke-width="3.0"/><path d="M680.5,52.8L688.0,42.2" stroke="#2f2fe2" stroke-width="2.0"/><path d="M650.8,80.3L661.7,64.1" stroke="#12123a" stroke-opacity="0.75" stroke-width="3.7"/><path d="M650.8,80.3L661.7,64.1" stroke="#3c3cea" stroke-width="2.7"/><path d="M361.5,94.3L383.2,80.0" stroke="#12123a" stroke-opacity="0.75" stroke-width="4.9"/><path d="M361.5,94.3L383.2,80.0" stroke="#4949f0" stroke-width="3.9"/><path d="M552.2,216.1L554.7,225.0" stroke="#12123a" stroke-opacity="0.75" stroke-width="3.3"/><path d="M552.2,216.1L554.7,225.0" stroke="#4c4cf2" stroke-width="2.3"/><path d="M635.8,246.7L638.7,257.8" stroke="#12123a" stroke-opacity="0.75" stroke-width="4.4"/><path d="M635.8,246.7L638.7,257.8" stroke="#4343ed" stroke-width="3.4"/><path d="M550.0,38.4L563.6,24.9" stroke="#12123a" stroke-opacity="0.75" stroke-width="3.7"/><path d="M550.0,38.4L563.6,24.9" stroke="#6262fe" stroke-width="2.7"/><path d="M477.8,9.3L485.4,20.8" stroke="#12123a" stroke-opacity="0.75" stroke-width="3.5"/><path d="M477.8,9.3L485.4,20.8" stroke="#2f2fe2" stroke-width="2.5"/><path d="M549.0,90.5L566.2,68.5" stroke="#12123a" stroke-opacity="0.75" stroke-width="5.5"/><path d="M549.0,90.5L566.2,68.5" stroke="#5959f9" stroke-width="4.5"/><path d="M661.8,66.0L668.5,58.6" stroke="#12123a" stroke-opacity="0.75" stroke-width="4.5"/><path d="M661.8,66.0L668.5,58.6" stroke="#2626de" stroke-width="3.5"/><path d="M374.2,248.6L393.7,235.0" stroke="#12123a" stroke-opacity="0.75" stroke-width="4.3"/><path d="M374.2,248.6L393.7,235.0" stroke="#2626de" stroke-width="3.3"/><path d="M612.3,22.1L630.2,3.2" stroke="#12123a" stroke-opacity="0.75" stroke-width="4.2"/><path d="M612.3,22.1L630.2,3.2" stroke="#3737e7" stroke-width="3.2"/><path d="M356.0,186.7L363.0,168.5" stroke="#12123a" stroke-opacity="0.75" stroke-width="5.3"/><path d="M356.0,186.7L363.0,168.5" stroke="#4747ef" stroke-width="4.3"/><path d="M384.4,188.3L395.3,177.7" stroke="#12123a" stroke-opacity="0.75" stroke-width="4.9"/><path d="M384.4,188.3L395.3,177.7" stroke="#3f3feb" stroke-width="3.9"/><path d="M484.3,133.2L498.6,132.2" stroke="#12123a" stroke-opacity="0.75" stroke-width="5.2"/><path d="M484.3,133.2L498.6,132.2" stroke="#3131e4" stroke-width="4.2"/><path d="M611.9,95.2L615.6,88.1" stroke="#12123a" stroke-opacity="0.75" stroke-width="5.4"/><path d="M611.9,95.2L615.6,88.1" stroke="#4d4df2" stroke-width="4.4"/><path d="M686.6,154.7L685.0,143.2" stroke="#12123a" stroke-opacity="0.75" stroke-width="3.1"/><path d="M686.6,154.7L685.0,143.2" stroke="#4242ed" stroke-width="2.1"/><path d="M559.8,237.6L565.6,249.4" stroke="#12123a" stroke-opacity="0.75" stroke-width="3.6"/><path d="M559.8,237.6L565.6,249.4" stroke="#2828df" stroke-width="2.6"/><path d="M352.8,128.4L366.7,120.4" stroke="#12123a" stroke-opacity="0.75" stroke-width="5.4"/><path d="M352.8,128.4L366.7,120.4" stroke="#2f2fe3" stroke-width="4.4"/><path d="M633.4,138.7L632.4,130.1" stroke="#12123a" stroke-opacity="0.75" stroke-width="4.5"/><path d="M633.4,138.7L632.4,130.1" stroke="#5858f8" stroke-width="3.5"/><path d="M362.2,188.5L372.2,167.7" stroke="#12123a" stroke-opacity="0.75" stroke-width="5.1"/><path d="M362.2,188.5L372.2,167.7" stroke="#4b4bf1" stroke-width="4.1"/><path d="M427.5,24.6L439.8,49.9" stroke="#12123a" stroke-opacity="0.75" stroke-width="5.3"/><path d="M427.5,24.6L439.8,49.9" stroke="#3d3dea" stroke-width="4.3"/><path d="M363.1,93.6L372.1,90.7" stroke="#12123a" stroke-opacity="0.75" stroke-width="3.7"/><path d="M363.1,93.6L372.1,90.7" stroke="#2626de" stroke-width="2.7"/><path d="M647.9,95.5L654.3,81.0" stroke="#12123a" stroke-opacity="0.75" stroke-width="3.5"/><path d="M647.9,95.5L654.3,81.0" stroke="#3636e6" stroke-width="2.5"/><path d="M550.9,168.2L570.5,165.3" stroke="#12123a" stroke-opacity="0.75" stroke-width="3.1"/><path d="M550.9,168.2L570.5,165.3" stroke="#3636e6" stroke-width="2.1"/><path d="M621.9,69.7L630.8,59.7" stroke="#12123a" stroke-opacity="0.75" stroke-width="4.0"/><path d="M621.9,69.7L630.8,59.7" stroke="#5050f4" stroke-width="3.0"/><path d="M341.7,132.9L360.7,147.0" stroke="#12123a" stroke-opacity="0.75" stroke-width="5.4"/><path d="M341.7,132.9L360.7,147.0" stroke="#4848f0" stroke-width="4.4"/><path d="M420.6,52.4L432.3,44.3" stroke="#12123a" stroke-opacity="0.75" stroke-width="4.4"/><path d="M420.6,52.4L432.3,44.3" stroke="#2727de" stroke-width="3.4"/><path d="M585.2,109.4L589.4,99.6" stroke="#12123a" stroke-opacity="0.75" stroke-width="5.3"/><path d="M585.2,109.4L589.4,99.6" stroke="#5555f7" stroke-width="4.3"/><path d="M647.1,101.6L655.6,93.5" stroke="#12123a" stroke-opacity="0.75" stroke-width="4.8"/><path d="M647.1,101.6L655.6,93.5" stroke="#5e5efb" stroke-width="3.8"/><path d="M418.4,2.0L424.3,-5.8" stroke="#12123a" stroke-opacity="0.75" stroke-width="5.0"/><path d="M418.4,2.0L424.3,-5.8" stroke="#4141ec" stroke-width="4.0"/><path d="M509.9,22.0L516.0,31.1" stroke="#12123a" stroke-opacity="0.75" stroke-width="3.3"/><path d="M509.9,22.0L516.0,31.1" stroke="#4040ec" stroke-width="2.3"/><path d="M568.8,198.3L571.4,209.0" stroke="#12123a" stroke-opacity="0.75" stroke-width="3.8"/><path d="M568.8,198.3L571.4,209.0" stroke="#2828df" stroke-width="2.8"/><path d="M512.5,-5.8L523.5,14.4" stroke="#12123a" stroke-opacity="0.75" stroke-width="5.0"/><path d="M512.5,-5.8L523.5,14.4" stroke="#3939e8" stroke-width="4.0"/><path d="M652.1,220.7L671.8,204.1" stroke="#12123a" stroke-opacity="0.75" stroke-width="3.5"/><path d="M652.1,220.7L671.8,204.1" stroke="#3131e4" stroke-width="2.5"/><path d="M361.5,206.9L377.0,181.5" stroke="#12123a" stroke-opacity="0.75" stroke-width="3.7"/><path d="M361.5,206.9L377.0,181.5" stroke="#3636e6" stroke-width="2.7"/><path d="M642.8,233.7L649.9,260.2" stroke="#12123a" stroke-opacity="0.75" stroke-width="5.3"/><path d="M642.8,233.7L649.9,260.2" stroke="#2d2de2" stroke-width="4.3"/><path d="M551.9,24.8L569.9,2.1" stroke="#12123a" stroke-opacity="0.75" stroke-width="4.3"/><path d="M551.9,24.8L569.9,2.1" stroke="#2828df" stroke-width="3.3"/><path d="M542.0,18.0L547.3,9.8" stroke="#12123a" stroke-opacity="0.75" stroke-width="4.0"/><path d="M542.0,18.0L547.3,9.8" stroke="#5252f5" stroke-width="3.0"/><path d="M599.5,209.0L606.2,225.4" stroke="#12123a" stroke-opacity="0.75" stroke-width="3.1"/><path d="M599.5,209.0L606.2,225.4" stroke="#5050f4" stroke-width="2.1"/><path d="M541.0,110.4L548.8,94.1" stroke="#12123a" stroke-opacity="0.75" stroke-width="3.2"/><path d="M541.0,110.4L548.8,94.1" stroke="#2828df" stroke-width="2.2"/><path d="M366.6,114.5L387.6,98.8" stroke="#12123a" stroke-opacity="0.75" stroke-width="4.5"/><path d="M366.6,114.5L387.6,98.8" stroke="#5757f8" stroke-width="3.5"/><path d="M532.9,49.8L545.7,26.6" stroke="#12123a" stroke-opacity="0.75" stroke-width="4.5"/><path d="M532.9,49.8L545.7,26.6" stroke="#4444ee" stroke-width="3.5"/><path d="M562.4,17.2L570.3,1.6" stroke="#12123a" stroke-opacity="0.75" stroke-width="5.1"/><path d="M562.4,17.2L570.3,1.6" stroke="#5e5efc" stroke-width="4.1"/><path d="M548.2,73.3L556.2,54.6" stroke="#12123a" stroke-opacity="0.75" stroke-width="4.0"/><path d="M548.2,73.3L556.2,54.6" stroke="#5d5dfb" stroke-width="3.0"/><path d="M417.6,52.9L423.7,46.8" stroke="#12123a" stroke-opacity="0.75" stroke-width="5.0"/><path d="M417.6,52.9L423.7,46.8" stroke="#5757f8" stroke-width="4.0"/><path d="M397.6,5.5L407.6,-3.5" stroke="#12123a" stroke-opacity="0.75" stroke-width="4.5"/><path d="M397.6,5.5L407.6,-3.5" stroke="#5b5bfa" stroke-width="3.5"/><path d="M601.2,75.0L609.8,63.5" stroke="#12123a" stroke-opacity="0.75" stroke-width="4.9"/><path d="M601.2,75.0L609.8,63.5" stroke="#2d2de1" stroke-width="3.9"/><path d="M645.7,179.6L649.0,164.4" stroke="#12123a" stroke-opacity="0.75" stroke-width="5.4"/><path d="M645.7,179.6L649.0,164.4" stroke="#4040eb" stroke-width="4.4"/><path d="M434.3,160.2L441.7,167.6" stroke="#12123a" stroke-opacity="0.75" stroke-width="3.1"/><path d="M434.3,160.2L441.7,167.6" stroke="#4242ec" stroke-width="2.1"/><path d="M429.9,18.0L435.6,27.6" stroke="#12123a" stroke-opacity="0.75" stroke-width="4.9"/><path d="M429.9,18.0L435.6,27.6" stroke="#2d2de2" stroke-width="3.9"/><path d="M464.4,246.4L484.1,228.8" stroke="#12123a" stroke-opacity="0.75" stroke-width="5.5"/><path d="M464.4,246.4L484.1,228.8" stroke="#4141ec" stroke-width="4.5"/><path d="M669.2,165.1L670.5,150.1" stroke="#12123a" stroke-opacity="0.75" stroke-width="3.9"/><path d="M669.2,165.1L670.5,150.1" stroke="#3f3feb" stroke-width="2.9"/><path d="M428.2,152.5L440.8,172.8" stroke="#12123a" stroke-opacity="0.75" stroke-width="3.6"/><path d="M428.2,152.5L440.8,172.8" stroke="#2626de" stroke-width="2.6"/><path d="M465.6,107.3L485.4,110.7" stroke="#12123a" stroke-opacity="0.75" stroke-width="4.3"/><path d="M465.6,107.3L485.4,110.7" stroke="#4141ec" stroke-width="3.3"/><path d="M529.1,171.5L549.2,172.5" stroke="#12123a" stroke-opacity="0.75" stroke-width="3.6"/><path d="M529.1,171.5L549.2,172.5" stroke="#2828df" stroke-width="2.6"/><path d="M494.4,229.9L506.3,221.6" stroke="#12123a" stroke-opacity="0.75" stroke-width="4.4"/><path d="M494.4,229.9L506.3,221.6" stroke="#3b3be9" stroke-width="3.4"/><path d="M502.8,38.7L507.8,47.2" stroke="#12123a" stroke-opacity="0.75" stroke-width="3.6"/><path d="M502.8,38.7L507.8,47.2" stroke="#2e2ee2" stroke-width="2.6"/><path d="M412.5,53.7L426.5,40.1" stroke="#12123a" stroke-opacity="0.75" stroke-width="3.4"/><path d="M412.5,53.7L426.5,40.1" stroke="#4444ee" stroke-width="2.4"/><path d="M544.5,158.0L566.0,158.3" stroke="#12123a" stroke-opacity="0.75" stroke-width="3.7"/><path d="M544.5,158.0L566.0,158.3" stroke="#3838e7" stroke-width="2.7"/><path d="M578.8,60.6L592.2,44.5" stroke="#12123a" stroke-opacity="0.75" stroke-width="5.4"/><path d="M578.8,60.6L592.2,44.5" stroke="#4242ed" stroke-width="4.4"/><path d="M529.6,195.9L545.8,194.5" stroke="#12123a" stroke-opacity="0.75" stroke-width="4.1"/><path d="M529.6,195.9L545.8,194.5" stroke="#4b4bf2" stroke-width="3.1"/><path d="M585.5,55.2L606.5,34.3" stroke="#12123a" stroke-opacity="0.75" stroke-width="4.2"/><path d="M585.5,55.2L606.5,34.3" stroke="#6363fe" stroke-width="3.2"/><path d="M560.8,100.0L564.2,92.4" stroke="#12123a" stroke-opacity="0.75" stroke-width="4.5"/><path d="M560.8,100.0L564.2,92.4" stroke="#4a4af1" stroke-width="3.5"/><path d="M555.9,187.7L565.3,210.2" stroke="#12123a" stroke-opacity="0.75" stroke-width="4.5"/><path d="M555.9,187.7L565.3,210.2" stroke="#4343ed" stroke-width="3.5"/><path d="M532.6,168.9L542.5,169.4" stroke="#12123a" stroke-opacity="0.75" stroke-width="4.7"/><path d="M532.6,168.9L542.5,169.4" stroke="#4949f0" stroke-width="3.7"/><path d="M492.3,251.4L500.4,243.0" stroke="#12123a" stroke-opacity="0.75" stroke-width="4.3"/><path d="M492.3,251.4L500.4,243.0" stroke="#3131e4" stroke-width="3.3"/><path d="M396.6,219.9L416.6,232.6" stroke="#12123a" stroke-opacity="0.75" stroke-width="3.4"/><path d="M396.6,219.9L416.6,232.6" stroke="#3b3be9" stroke-width="2.4"/><path d="M688.1,22.9L693.7,16.9" stroke="#12123a" stroke-opacity="0.75" stroke-width="5.4"/><path d="M688.1,22.9L693.7,16.9" stroke="#5b5bfa" stroke-width="4.4"/><path d="M497.5,161.5L509.1,161.6" stroke="#12123a" stroke-opacity="0.75" stroke-width="3.9"/><path d="M497.5,161.5L509.1,161.6" stroke="#3636e6" stroke-width="2.9"/><path d="M642.2,33.9L652.7,18.9" stroke="#12123a" stroke-opacity="0.75" stroke-width="4.4"/><path d="M642.2,33.9L652.7,18.9" stroke="#5050f4" stroke-width="3.4"/><path d="M547.5,87.9L562.5,72.9" stroke="#12123a" stroke-opacity="0.75" stroke-width="3.7"/><path d="M547.5,87.9L562.5,72.9" stroke="#3d3dea" stroke-width="2.7"/><path d="M640.9,16.4L652.4,1.6" stroke="#12123a" stroke-opacity="0.75" stroke-width="3.7"/><path d="M640.9,16.4L652.4,1.6" stroke="#2929df" stroke-width="2.7"/></g>
<path d="M432.6,109.0L433.5,112.5M445.5,153.1L445.9,157.4M622.6,61.7L619.2,62.0M467.8,64.9L465.9,67.3M582.4,65.9L580.2,67.0M641.9,109.3L642.9,112.7M529.0,135.3L528.0,140.1M601.4,26.5L599.9,26.6M373.8,203.1L374.8,204.3M415.4,124.5L414.0,125.2M409.9,6.9L412.5,7.3M519.0,238.3L517.0,242.4M551.4,225.1L550.2,227.1M476.9,120.2L481.3,121.8M515.3,50.7L515.4,55.0M445.6,147.0L447.8,147.7M419.1,126.4L417.8,128.3M584.7,145.2L581.1,148.8M466.1,245.5L466.6,248.7M415.7,23.9L414.9,25.6M368.6,23.5L368.3,25.6M443.2,190.2L443.5,192.2M580.4,245.3L579.3,248.1M535.4,174.4L531.7,176.5M437.5,194.0L439.3,194.7M523.7,47.8L523.2,50.3M668.5,108.4L664.4,111.0M505.4,190.1L505.5,193.0M399.7,164.2L395.9,165.2M460.3,130.8L461.6,133.4M610.4,4.0L610.6,7.3M404.2,181.6L406.3,183.7M437.9,147.9L438.7,151.7M496.6,194.3L496.3,196.1M517.0,63.8L519.8,67.7M512.8,183.4L516.1,185.2M395.1,57.8L396.5,58.4M654.3,238.6L654.9,240.1M595.7,165.4L599.8,166.0M380.7,59.5L377.5,62.2M435.3,127.0L432.3,129.1M528.2,48.9L530.3,49.3M528.8,147.6L529.2,151.3M541.4,159.4L542.6,163.7M533.5,218.7L529.1,218.9M610.5,171.2L610.1,173.5M389.3,164.0L391.9,166.6M536.9,151.0L537.4,153.3M457.8,173.6L455.4,174.5M459.5,111.5L460.3,115.1M606.6,190.2L603.3,192.5M675.4,111.6L676.1,115.3M459.5,204.7L460.4,208.0M526.2,92.8L528.7,92.9M511.1,235.1L515.3,237.1M675.5,196.4L676.5,197.6M644.4,18.8L647.2,22.6M578.9,204.5L577.0,205.5M521.9,25.6L523.1,28.6M625.5,73.7L624.5,75.4M441.6,16.6L440.7,20.0M592.8,106.0L588.9,106.8M542.4,216.5L544.5,217.8M539.8,150.0L536.0,150.5M372.2,233.3L372.4,235.5M608.6,156.5L605.5,158.0M440.7,117.4L441.0,120.2M546.8,39.7L548.1,41.1M366.9,131.1L364.9,133.2M653.5,151.4L652.3,153.6M652.9,88.3L650.8,89.4M667.5,169.6L671.0,171.7M407.5,96.8L408.5,99.3M475.4,42.3L476.0,44.1M618.9,89.2L617.1,91.5M678.0,216.8L675.3,220.4M656.2,229.3L657.1,232.7M378.7,91.3L380.6,94.5M358.0,187.7L360.9,188.4M516.5,208.5L515.7,210.4M576.1,60.0L575.1,62.7M669.7,112.6L671.4,114.5M669.9,87.9L672.3,90.2M575.5,233.2L578.1,233.8M595.2,123.3L593.1,126.4M386.2,15.6L388.4,16.9M416.0,73.7L417.5,74.3M528.2,188.5L529.8,189.4M594.4,22.7L597.3,24.1M454.5,193.9L454.4,197.2M480.9,10.0L478.5,11.5M627.9,28.2L628.6,31.5M410.1,21.6L405.4,22.6M686.2,135.5L683.8,138.2M514.3,44.5L513.0,47.3M579.0,13.5L580.2,15.0M605.9,119.2L608.6,122.6M527.5,74.2L528.0,75.6M379.1,12.7L374.6,13.2M535.8,231.7L535.3,235.5M391.8,109.1L390.8,111.8M571.6,86.8L570.6,88.8M517.7,107.6L517.5,109.3M435.1,177.8L437.9,179.4M684.6,151.2L681.8,154.3M674.0,96.6L675.3,100.5M364.2,117.1L366.5,119.7M597.3,212.2L597.3,216.1M384.8,164.6L381.2,165.4M517.5,127.6L518.1,129.7M421.8,197.1L421.7,198.7M559.2,205.7L558.2,207.6M669.3,46.8L669.2,50.0M410.5,68.5L412.3,69.7M371.1,160.5L369.9,162.5M668.8,104.9L669.5,109.6M571.3,116.2L568.5,119.1M459.5,19.5L456.7,22.6M554.7,31.8L553.2,33.3M619.0,154.9L618.3,156.5M475.9,182.6L477.5,183.1M493.0,211.0L492.1,213.1M385.5,207.3L382.1,209.1M423.8,187.2L425.9,187.2M461.0,237.4L463.0,237.6M597.2,189.3L598.3,190.7M638.7,240.3L635.4,241.3M385.9,182.6L383.9,186.6M607.6,126.6L604.5,126.8M504.7,158.4L501.9,160.6M667.8,69.5L663.5,71.0M471.1,9.2L470.0,12.7M673.2,138.6L670.5,141.8M412.1,165.6L412.5,167.8M448.3,91.2L446.0,93.8M463.8,16.2L460.5,18.8M630.1,195.6L632.5,196.1M509.7,75.9L507.8,77.1M361.0,114.0L362.6,114.2M555.9,150.6L555.7,152.3M540.2,130.7L541.6,132.5M407.4,120.3L408.8,123.5M578.5,70.2L577.7,72.5M602.2,51.8L601.0,55.7M621.6,132.8L616.8,134.2M615.7,90.2L618.2,92.9M397.3,46.6L400.9,47.7M485.4,227.9L482.6,229.8M467.8,82.0L469.6,82.4M640.5,76.7L645.4,76.8M481.4,190.6L482.1,195.4M383.7,118.8L383.0,120.2M658.4,85.8L657.4,87.3M384.6,23.6L380.8,26.6M655.4,132.9L659.5,134.1M524.0,193.3L522.6,196.5M411.6,38.5L414.5,39.3M449.7,236.5L453.8,237.1M397.4,28.9L395.2,29.5M551.7,145.4L552.6,148.0M402.4,172.1L403.8,175.4M625.2,21.2L625.9,23.8M661.5,154.6L664.0,156.4M360.8,129.2L362.7,129.7M522.3,134.2L525.1,136.4M457.0,175.1L461.4,175.8M503.1,44.7L505.4,47.6M387.0,225.7L389.3,227.5M381.9,115.2L379.7,115.5M415.9,136.5L415.0,138.3M428.3,150.9L429.5,152.0M586.6,214.6L583.0,217.2M427.3,77.9L426.2,81.4M561.5,138.2L563.2,139.7M385.0,17.2L384.5,18.9M642.3,236.9L646.7,239.1M561.2,4.1L562.1,6.7M457.8,19.9L458.9,20.9M502.3,120.0L505.8,123.1M648.7,125.1L646.4,126.7M603.0,192.0L604.8,195.6M472.0,45.3L472.5,47.2M592.5,63.3L592.5,67.6M554.5,224.3L552.0,227.2M601.7,172.1L598.3,173.0M574.0,135.8L573.5,140.6M455.4,49.1L455.4,51.7M590.1,159.2L592.3,159.2M560.9,99.3L559.2,102.0M394.4,172.2L392.6,172.3M559.6,152.1L558.5,155.2M524.6,244.8L521.8,246.0M625.8,165.4L621.7,168.3M378.8,54.3L382.0,57.2M660.0,56.9L660.2,61.5M596.2,146.4L591.7,148.0M385.7,238.2L388.0,241.1M602.7,73.8L605.3,77.6M614.8,241.7L618.3,242.8M600.4,236.4L598.8,238.3M388.9,45.0L391.3,47.5M461.0,39.7L464.7,40.8M624.3,31.7L624.1,36.6M476.0,134.0L474.7,134.9M644.3,191.9L642.4,193.9M517.4,233.3L519.2,233.7M566.0,235.9L567.9,236.9M508.3,194.6L507.5,198.4M374.5,50.7L373.5,54.6M386.1,24.9L387.8,27.3M464.5,45.1L468.2,46.0M670.7,158.5L668.8,159.0M560.6,92.2L557.4,93.9M559.3,227.0L557.4,227.3M500.7,23.7L500.3,25.9M583.8,90.7L588.4,90.8M398.5,68.7L398.4,70.4M608.6,178.1L612.0,179.4M398.0,133.1L400.4,133.8M505.8,134.8L503.6,139.0M465.3,88.2L468.6,90.7M476.2,54.8L478.7,56.5M632.7,110.0L630.0,111.7M547.2,64.4L548.3,68.3M383.8,113.9L385.5,115.7M468.1,51.5L467.7,53.1M433.3,67.1L437.0,69.5M581.2,220.2L583.1,221.1M461.7,127.0L457.9,129.2M637.7,8.1L640.4,8.4M497.2,4.7L498.0,6.4M643.0,54.4L644.2,56.2M635.0,30.3L635.4,32.6M439.0,245.1L436.5,248.3M475.3,242.3L471.6,242.7M431.7,14.3L431.3,17.5M641.0,247.0L639.0,248.2M678.8,153.3L681.1,153.6M672.8,196.8L670.1,199.5M363.3,230.9L365.8,234.3M534.1,120.8L533.8,125.5M631.8,99.8L630.0,100.7M470.1,82.1L473.0,82.5M359.0,239.5L356.4,241.2M378.2,67.4L376.3,69.0M388.2,107.3L387.8,109.2M481.7,138.8L479.6,140.9M682.8,65.8L681.5,67.0M655.3,135.8L659.0,138.1M649.0,34.8L644.5,36.6M474.8,195.5L472.6,198.2M485.8,79.2L482.2,81.5M667.5,18.7L666.7,22.6M430.4,8.4L426.4,9.8M590.4,83.0L591.3,87.3M388.6,179.1L386.7,181.6M670.6,157.7L668.5,158.5M490.8,73.2L490.9,77.4M684.4,225.0L680.0,227.2M596.2,183.5L599.0,184.3M518.8,29.3L516.1,30.1M437.0,22.6L436.7,25.3M667.8,157.8L668.2,159.8M373.6,170.4L372.5,173.4M523.9,103.9L522.2,104.4M432.1,196.6L433.6,198.9M499.4,75.6L498.1,76.9M538.3,176.5L540.2,180.1M472.2,155.5L474.7,156.4M540.8,152.4L541.0,154.0M533.1,214.3L534.6,216.0M559.8,60.3L561.5,60.9M563.3,218.0L560.6,220.4M643.0,209.9L644.9,212.1M677.2,232.3L675.6,235.6M468.7,25.1L469.9,27.1M565.2,161.8L563.3,166.1M355.9,53.8L358.5,54.7M657.6,117.5L655.8,118.8M472.0,197.3L474.5,200.5M552.2,163.8L555.0,164.1M678.3,93.7L681.5,97.5M550.4,172.0L550.6,175.7M484.2,70.2L485.6,72.0M583.2,24.8L586.3,26.0M682.7,192.9L680.6,196.4M423.1,128.5L426.4,128.6M366.3,31.7L368.8,32.7M511.9,57.0L513.8,57.5M669.5,244.1L667.6,244.6M422.2,218.4L424.2,218.5M572.0,238.8L567.7,239.8M463.5,182.5L458.9,183.5M676.9,188.7L673.8,191.2M497.4,143.4L494.0,144.2M367.2,112.4L363.5,114.0M516.1,231.1L514.4,232.7M584.7,216.2L589.5,216.3M497.3,210.9L500.0,211.0M457.7,55.2L455.6,59.0M569.0,225.6L571.3,226.5M490.3,195.6L486.9,199.3M644.7,131.8L641.7,135.0M529.6,168.8L525.7,170.7M409.9,9.6L407.3,13.0M419.9,210.9L418.4,212.3M408.2,163.6L407.4,165.5M656.9,55.4L652.7,57.8M397.0,172.7L396.3,177.3M500.9,103.1L504.2,106.0M459.7,226.1L464.3,226.6M364.5,180.3L362.0,180.7M548.7,104.5L553.0,105.4M517.9,199.5L519.9,199.7M431.6,203.1L433.2,203.2M482.9,97.3L478.9,99.4M434.7,183.2L436.5,187.0M573.2,19.7L573.5,22.6M508.5,138.3L506.9,140.7M528.0,205.0L526.8,206.8M403.6,70.0L400.8,70.5M646.2,238.3L644.6,240.5M603.0,126.2L599.8,126.7M566.2,170.1L565.3,172.0M544.5,106.7L542.3,110.3M423.0,92.5L426.4,96.0M520.0,113.6L515.7,114.0M637.5,126.2L640.0,127.3M384.3,100.0L384.8,103.2M677.0,133.4L678.8,134.5M579.5,128.3L580.4,131.4M491.7,168.6L491.2,170.2M520.0,63.5L519.2,66.5M607.8,238.0L605.3,240.7M524.2,30.8L522.8,32.4M480.0,144.8L483.0,148.2M534.6,241.2L537.7,241.4M463.7,142.7L462.1,145.9M664.4,109.7L666.1,113.5M539.9,69.3L537.6,69.9M383.7,134.6L379.4,135.9M624.8,151.7L624.7,154.3M412.6,111.2L409.6,112.9M679.2,197.4L678.7,200.9M494.9,224.8L493.1,225.8M651.9,167.4L653.6,171.1M495.3,171.4L495.2,175.1M659.0,219.9L659.2,222.7M589.9,166.3L593.1,167.3M447.5,161.5L449.7,162.7M440.1,70.2L439.2,74.6M568.3,160.8L566.2,162.7M495.7,161.7L499.0,164.2M656.8,218.4L661.4,219.4M430.9,34.5L430.0,37.0M416.0,150.7L415.6,154.0M526.3,153.2L523.2,155.8M588.4,204.0L588.7,207.8M393.7,22.0L394.3,25.8M433.0,236.8L435.0,239.4M509.6,240.3L511.8,241.4M564.5,91.5L565.5,93.2M658.1,110.8L657.5,113.0M664.4,29.1L663.4,30.5M532.8,83.1L529.8,83.6M630.4,9.5L634.0,12.8M477.3,12.3L479.2,14.4M529.1,95.8L530.9,98.4M511.0,46.9L510.8,50.4M545.0,183.5L545.3,185.7M665.4,31.5L667.2,34.0M493.5,54.9L491.2,56.0M535.0,152.1L537.8,153.3M402.0,134.7L399.0,138.0M664.9,29.8L665.4,33.6M479.7,232.1L479.7,236.7M380.3,97.0L377.7,100.6M520.5,212.5L518.4,214.5M587.2,129.2L591.6,130.8M632.4,220.3L635.5,223.1M368.7,124.6L370.6,127.3M482.2,136.2L483.0,140.2M571.8,71.1L573.7,72.5M464.1,105.6L464.1,109.7M678.2,66.4L680.2,69.1M357.5,158.7L361.0,159.1M550.8,97.4L548.2,97.4M361.2,28.7L364.1,31.5M600.5,90.0L598.6,90.7M432.2,141.2L431.7,145.5M459.1,222.2L457.5,225.8M545.9,53.3L544.9,58.0M361.2,83.6L362.6,85.6M608.2,161.4L611.8,163.0M643.3,19.8L646.9,20.1M646.0,136.8L645.9,139.7M543.5,224.7L542.2,228.6M511.0,218.5L508.5,220.7M457.8,77.2L454.1,77.4M379.9,129.3L380.7,132.8M449.8,222.5L450.1,226.9M442.4,218.9L441.9,222.3M499.9,232.2L499.2,235.5M475.2,114.5L477.2,116.8M443.1,22.1L443.8,23.5M576.0,26.8L573.5,27.5M444.8,136.5L447.3,139.7M455.9,228.6L457.6,228.9M645.2,170.6L647.7,173.3M474.1,126.7L476.3,129.3M568.6,209.2L571.0,211.7M542.9,215.0L543.2,219.5M659.6,101.3L661.0,106.0M548.5,132.3L545.7,134.7M526.0,163.5L528.0,165.6M361.6,178.8L358.1,180.9M674.4,187.9L676.9,188.8M661.4,29.4L657.4,31.0M406.6,53.7L404.1,56.5M364.9,132.0L368.7,134.5M532.5,6.5L533.0,8.0M654.7,219.9L653.7,221.1M665.6,66.6L663.7,70.3M538.9,30.9L541.8,33.7M399.0,95.5L396.1,96.1M406.0,160.8L408.0,164.6M477.7,205.7L475.9,206.8M534.2,111.8L538.5,113.6M466.8,152.8L471.5,153.7M676.8,170.1L680.3,171.7M510.0,118.8L511.5,120.1M635.6,149.9L632.7,152.9M487.6,136.6L489.8,139.7M497.4,194.2L499.2,196.4M383.3,13.0L384.5,14.0M496.9,96.3L495.4,96.9M681.3,26.5L678.9,27.9M437.3,152.3L437.9,153.7M401.4,167.8L398.2,171.6M439.2,190.2L440.8,193.1M449.5,104.1L447.2,104.8M495.8,223.5L496.5,227.8M533.4,87.9L531.0,90.8M479.7,246.9L484.0,248.1M593.3,175.2L593.6,179.3M372.8,166.9L370.1,168.1M599.9,171.6L599.9,175.8M516.0,31.3L515.7,35.4M411.6,116.2L410.2,117.0M639.3,87.9L640.9,91.5M543.8,73.5L546.4,74.9M650.1,245.2L647.6,248.3M581.5,226.5L583.3,227.5M633.8,7.4L633.6,10.3M657.5,155.9L658.9,157.0M511.8,136.9L512.2,140.4M378.3,91.1L376.2,92.4M421.0,47.1L416.6,48.0M489.0,82.3L490.8,86.5M656.8,235.5L653.3,237.2M393.6,232.9L397.1,234.9M474.7,11.9L473.6,14.0M649.0,46.8L647.5,49.4M371.4,71.0L373.8,74.5M609.1,231.7L611.0,232.8M477.8,80.9L481.1,83.4M357.6,134.5L360.0,135.6M454.8,116.5L450.8,117.2M497.2,244.7L498.7,246.3M566.7,190.6L564.6,193.1M596.1,84.9L592.1,85.5M621.2,135.3L618.2,136.1M670.2,112.0L667.7,112.4M526.7,138.5L526.0,142.9M636.0,47.0L634.0,49.7M492.0,31.6L487.3,33.0M593.3,143.0L595.8,143.7M464.4,23.8L465.5,26.4M490.3,19.8L494.7,21.8M538.7,59.4L539.1,62.2M517.9,45.5L514.5,48.9M564.5,237.2L561.7,239.1M527.9,171.8L528.6,173.4M505.7,202.6L504.9,204.0M628.1,14.4L628.0,16.5M456.1,58.5L454.7,62.2M646.3,127.3L647.9,127.6M383.9,34.6L386.0,35.9M405.6,210.1L407.0,213.0M614.3,47.2L614.3,48.9M516.3,229.2L515.8,231.7M564.7,124.6L564.8,128.4M592.7,221.1L587.9,221.4M623.7,169.9L621.9,171.2M421.7,208.9L422.0,210.4M599.8,34.9L602.9,38.5M417.8,204.1L420.6,207.3M483.2,139.5L481.0,142.8M424.0,167.2L426.0,168.3M612.0,40.4L612.5,42.2M547.0,44.6L549.1,49.0M501.9,126.1L504.3,126.3M390.8,154.7L392.7,155.7M404.5,183.6L403.4,185.8M460.5,69.7L459.9,73.1M401.0,40.3L400.0,42.6M574.5,46.6L576.2,47.1M636.8,134.9L639.6,135.0M564.8,57.0L563.5,57.8M527.4,142.8L531.5,145.6M536.7,35.4L535.6,36.5M581.0,207.0L580.3,208.4M379.1,206.0L376.9,207.1M659.3,201.7L663.6,203.3M360.6,82.5L362.4,83.9M522.1,15.1L519.8,15.3M582.4,89.4L579.1,90.3M520.0,188.0L519.4,191.1M414.5,197.7L413.2,200.6M681.9,116.6L680.5,118.1M473.2,156.1L476.6,159.7M682.7,160.5L681.1,162.4M610.0,212.3L610.5,215.7M570.6,64.6L572.7,64.9M530.4,158.8L528.2,159.9M411.0,105.8L413.1,107.0M516.4,170.8L518.4,171.4M509.9,130.1L513.2,132.1M544.0,238.7L540.4,239.2M385.2,130.5L386.8,132.3M382.4,171.6L381.3,173.7M433.0,244.2L432.3,248.1M438.7,232.7L436.6,235.2M392.6,110.4L394.8,110.6M612.3,30.3L614.5,31.9M674.0,42.5L674.8,45.8M370.7,141.1L373.2,141.7M462.5,246.0L463.0,248.5M463.9,76.6L466.1,77.9M583.2,89.5L584.5,90.6M613.8,75.1L616.8,78.4M672.7,137.9L677.0,138.8M605.8,6.5L608.6,10.0M514.2,47.0L511.9,47.1M418.2,173.4L414.2,173.5M362.0,7.8L365.0,10.2M672.6,30.5L670.7,33.8M365.9,223.1L367.4,225.4M617.2,135.8L616.6,137.3M562.9,39.3L559.3,41.5M572.0,161.2L567.7,161.5M589.4,91.7L594.4,91.9M378.8,12.1L377.3,16.9M502.0,55.0L504.1,55.1M474.4,87.4L477.4,90.8M683.2,241.6L686.4,243.9M410.8,115.5L410.8,118.1M615.9,56.4L612.5,58.8M561.3,21.8L565.3,23.4M672.5,60.6L670.4,64.2M641.3,36.7L642.7,37.7M585.0,90.5L583.7,92.2M566.0,68.8L566.7,72.3M669.5,50.2L668.2,51.3M412.9,173.4L417.2,174.6M649.6,56.0L647.3,59.0M676.8,122.8L678.6,127.0M443.9,225.5L445.2,228.2M629.5,187.6L632.6,189.7M681.6,99.8L680.9,103.5M592.7,98.3L593.5,100.3M563.0,84.0L561.7,85.1M608.1,42.2L604.1,44.0M472.9,27.5L474.7,28.9M677.3,200.7L678.8,200.8M540.7,112.7L540.0,117.1M633.3,36.7L630.2,37.0M510.4,40.1L512.0,41.6M448.3,135.9L449.9,137.7M394.7,20.5L391.8,21.3M506.1,35.9L504.6,36.0M613.3,13.3L615.3,15.9M506.8,173.9L505.9,177.8M377.9,74.3L380.0,76.7M493.6,30.0L495.2,30.7M376.8,161.7L373.2,162.1M421.8,151.8L421.8,154.3M620.2,67.5L621.2,68.8M436.3,227.1L436.5,231.1M517.0,67.3L518.4,70.2M456.8,129.6L459.6,129.8M395.1,118.4L394.6,123.1M643.0,220.7L643.4,223.2M634.7,32.3L635.3,33.9M624.6,185.6L622.5,186.1M631.6,172.6L631.2,175.7M623.6,118.9L618.9,119.7M477.0,133.2L478.0,137.7M636.6,100.6L637.6,102.9M575.5,164.8L574.3,167.9M577.1,3.5L577.4,7.4M594.5,201.3L598.1,204.4M675.8,154.8L673.9,156.0M418.9,54.8L418.4,59.4M472.5,231.3L471.1,232.2M366.7,245.4L366.7,249.6M637.3,78.0L641.8,78.2M662.9,100.8L662.2,102.1M667.1,153.0L663.2,153.3M475.0,45.5L474.8,50.0M531.4,134.9L533.0,136.2M434.9,75.8L435.3,80.6M447.7,58.0L444.4,61.4M434.1,76.1L434.5,77.7M386.6,137.8L388.3,139.4M621.6,119.7L620.8,123.4M601.5,228.7L599.6,228.8M598.7,9.6L601.0,10.5M397.9,39.7L401.1,42.6M615.3,124.3L614.7,128.4M550.6,21.7L550.9,23.9M510.3,241.8L512.5,243.3M547.0,163.7L548.7,166.0M518.3,230.5L522.8,231.2M539.1,225.8L540.4,229.3M365.2,57.1L364.0,59.5M527.2,241.9L526.5,245.7M543.5,65.5L540.6,65.6M364.5,106.7L365.1,108.8M498.9,21.4L495.7,22.0M451.4,136.3L450.6,139.1M624.5,114.6L620.4,115.6M585.7,41.7L582.7,45.7M623.3,14.1L624.2,15.3M576.2,218.7L574.1,221.9M535.2,180.0L534.5,184.3M408.5,118.0L407.8,119.6M539.5,226.8L543.4,227.9M594.6,220.9L590.9,221.3M552.7,118.0L553.3,121.6M468.0,197.4L467.6,200.3M527.9,175.9L524.1,178.1M588.6,63.6L590.5,63.6M383.1,127.4L386.2,128.1M606.2,110.9L603.7,112.0M514.4,67.9L517.6,69.3M396.4,38.4L398.9,41.6M676.3,55.3L679.8,58.7M549.3,198.4L545.5,198.4M438.8,243.3L437.4,243.8M673.3,161.2L675.7,163.3M455.6,192.2L456.2,193.9M647.0,83.8L650.4,85.8M399.6,150.7L399.9,152.6M667.9,172.8L672.5,173.6M569.3,204.1L567.8,205.4M462.0,44.7L458.0,47.4M546.7,166.4L543.4,166.6M502.5,72.5L500.6,72.6M418.3,211.6L420.5,211.8M530.2,61.0L530.8,62.5M575.8,21.5L576.9,22.9M585.3,56.3L585.1,57.8M543.8,87.2L541.7,87.8M452.6,215.7L455.8,216.3M514.8,74.2L517.6,75.8M365.8,5.2L367.5,7.4M441.2,175.6L442.1,179.1M552.2,177.1L548.8,177.8M582.6,139.3L586.9,140.4M531.6,12.4L529.3,14.8M667.5,103.5L667.9,108.1M661.2,190.5L661.7,193.4M598.1,221.0L598.6,224.9M540.2,137.8L542.1,139.4M439.6,244.0L441.8,244.2M424.4,202.0L423.0,204.2M393.3,166.9L390.7,169.6M589.3,149.8L593.6,150.2M641.8,42.5L643.6,47.1M678.2,202.8L676.4,203.8M642.1,203.4L645.9,206.1M624.7,227.2L623.0,227.8M411.4,199.9L413.8,201.3M615.3,205.2L616.3,208.0M585.8,245.7L584.7,248.2M436.4,47.8L435.1,51.6M430.5,183.9L429.4,187.2M527.9,104.3L531.3,104.4M576.0,220.4L572.3,220.7M409.0,211.2L410.3,215.9M665.9,25.9L667.5,26.1M579.0,122.8L578.0,125.3M549.9,26.0L553.2,28.4M433.2,29.6L430.9,34.0M664.3,218.6L663.4,219.7M408.4,143.9L407.9,148.3M365.0,156.2L369.0,157.1M388.2,121.1L384.5,124.4M617.2,193.3L619.4,196.4M535.0,123.2L534.1,126.2M482.3,188.0L480.1,192.4M659.5,198.8L662.6,199.9M521.1,196.5L519.0,197.1M361.8,216.1L359.1,216.3M553.5,96.3L554.8,99.7M583.3,222.4L584.6,225.3M505.0,242.2L504.7,246.9M675.4,10.4L674.0,11.6M518.5,157.3L521.9,158.1M584.1,87.5L583.7,90.4M408.8,65.9L405.1,66.6M536.3,199.5L532.6,201.5M488.0,135.1L488.9,136.5M659.4,21.5L661.2,25.6M457.8,226.3L459.8,226.5M505.6,157.7L501.9,160.5M626.6,49.2L625.0,49.3M509.0,89.0L511.2,89.2M681.8,238.5L684.1,242.9M599.6,11.0L598.8,13.1M447.1,178.2L449.3,179.9M358.3,81.6L359.4,83.2M386.6,102.6L391.2,103.8M439.5,93.2L443.7,94.1M418.1,20.5L420.0,24.8M658.3,117.0L657.9,118.7M651.6,186.5L654.8,189.6M408.4,120.4L410.6,123.2M438.8,136.1L439.8,137.2M393.9,194.8L394.5,198.1M572.2,65.5L574.6,67.1M603.3,180.8L603.7,184.4M441.5,233.4L439.7,237.3M479.1,143.9L477.1,146.5M607.5,69.6L605.5,71.2M525.4,36.8L526.7,41.2M367.2,48.0L366.7,51.8M583.5,170.1L581.2,172.9M406.9,136.2L407.9,137.4M523.1,239.8L523.6,243.9M561.8,10.6L561.0,15.5M573.3,76.0L569.6,77.2M663.3,209.5L662.5,212.5M531.8,81.5L530.0,82.4M681.2,85.0L681.8,88.6M456.8,152.0L461.3,152.7M393.4,216.2L389.6,218.0M603.4,48.7L603.0,50.4M600.4,195.3L602.8,197.2M387.3,166.2L386.3,167.6M556.0,217.2L559.9,219.6M444.5,7.5L448.5,8.6M420.0,212.9L420.3,214.6M624.1,83.7L625.5,84.3M456.0,114.9L456.0,118.4M385.0,4.2L382.2,5.2M594.9,220.4L593.7,224.3M429.5,53.2L429.3,58.1M676.1,59.4L675.1,61.7M476.3,72.6L473.4,72.7M510.0,24.6L508.4,25.5M628.3,61.9L629.5,63.1M472.4,236.0L473.6,238.4M602.7,58.4L599.2,61.8M639.5,12.5L636.2,15.2M615.7,144.5L619.4,145.8M548.3,121.8L546.7,123.2M482.6,157.4L477.9,159.0M647.4,66.5L648.2,69.7M507.0,21.1L508.9,25.5M481.9,218.0L478.7,219.1M655.9,242.2L659.5,242.3M669.5,78.8L670.3,80.6M646.8,139.8L645.7,143.2M651.6,128.6L651.1,131.6M467.8,239.0L466.4,241.9M384.9,159.7L388.0,160.2M425.4,98.9L427.2,100.4M499.1,31.8L501.9,34.7M390.0,209.4L390.6,211.6M610.1,95.2L610.7,96.5M415.5,231.2L415.6,234.2M548.4,24.8L552.4,26.9M565.2,81.3L562.9,82.4M504.5,195.0L502.3,196.1M678.0,54.0L680.2,56.5M541.1,133.7L541.5,137.9M440.7,108.2L438.3,112.1M440.4,89.4L440.6,91.8M523.4,231.9L526.7,234.9M648.1,122.5L649.0,124.2M536.7,209.0L537.6,211.2M629.2,40.4L628.4,44.5M524.8,74.2L523.9,76.8M578.1,196.9L574.7,199.4M398.6,68.2L396.7,71.4M649.1,111.3L650.8,111.6M372.6,134.6L373.4,136.0M654.0,18.0L655.9,21.7M582.9,57.2L579.8,57.5M628.0,104.8L625.8,109.1M377.1,140.2L375.7,144.9M552.7,67.1L555.8,68.6M412.2,89.4L410.1,89.7M424.2,165.0L424.2,169.7M463.8,186.6L465.1,191.4M657.7,49.8L659.0,52.8M511.8,147.5L510.7,149.2M569.7,203.7L570.3,206.1M438.8,151.8L440.8,152.6M457.0,170.8L454.6,173.3M403.2,89.8L408.1,90.8M507.2,207.6L509.0,209.3M405.0,97.2L403.1,100.1M461.6,33.8L464.3,36.9M415.9,245.5L414.0,246.5M356.0,204.9L359.8,205.4M522.1,103.8L521.7,105.4M601.8,209.0L604.3,209.3M630.5,51.0L634.4,52.9M680.9,244.5L682.5,245.7M359.1,30.8L361.6,35.0M604.3,46.5L605.4,49.7M407.7,17.4L409.8,18.8M370.9,241.7L367.7,241.9M500.5,138.4L498.0,139.8M657.7,236.1L660.0,238.8M672.2,78.2L668.9,78.3M576.5,25.5L577.7,29.1M423.7,239.1L424.8,242.4M613.5,78.6L611.1,81.9M610.6,80.0L612.3,83.1M504.1,117.3L503.2,121.4M402.4,55.2L405.5,56.4M423.4,230.1L425.9,231.9M607.7,72.8L609.9,73.3M589.2,89.1L587.2,89.4M455.8,123.6L457.1,125.8M391.9,126.4L389.9,128.3M679.2,154.5L680.4,157.1M448.1,25.5L448.4,28.9M615.6,22.9L620.3,23.3M476.4,180.4L474.1,181.3M414.3,193.1L416.2,195.8M357.1,145.1L357.5,147.3M421.5,229.7L419.0,230.5M460.4,85.5L461.8,88.0M671.2,6.5L672.6,9.6M558.3,84.2L556.4,86.5M404.7,225.1L407.9,227.5M663.4,43.9L660.4,46.8M469.2,226.9L472.2,228.3M679.4,131.6L676.7,132.7M570.8,120.9L568.3,124.1M591.2,188.2L594.2,190.5M616.0,185.2L619.0,187.0M362.3,239.9L361.3,242.0M554.9,78.2L554.1,82.4M639.2,242.2L637.6,245.1M523.8,40.7L528.4,41.2M674.9,205.4L678.0,207.4M423.0,81.2L419.2,84.2M362.2,192.6L359.8,195.7M406.2,88.7L404.6,90.3M411.8,120.1L413.8,121.4M407.0,55.3L409.8,56.2M466.7,37.4L469.2,38.9M378.3,76.1L382.3,76.7M395.3,117.6L398.8,119.3M675.3,175.6L677.4,176.2M409.2,219.4L413.2,220.5M609.3,206.0L610.0,208.9M472.3,161.3L472.5,165.2M500.9,208.4L500.1,210.8M496.2,60.4L494.6,60.9M489.0,107.9L488.4,109.7M576.5,35.5L578.2,37.5M378.9,247.3L383.5,248.2M582.5,229.2L581.5,232.5M502.6,137.1L503.7,138.9M551.3,197.5L546.6,197.8M555.6,52.9L555.2,54.9M638.5,187.1L639.4,189.5M646.8,110.0L650.6,110.9M496.3,32.2L494.3,33.1M418.7,132.1L420.6,133.9M505.1,229.5L504.3,232.4M630.5,230.0L628.9,230.4M622.4,191.6L619.9,194.8M575.1,54.1L570.9,55.0M434.9,133.4L436.8,134.7M560.5,38.2L564.2,38.3M557.6,225.4L560.2,225.7M397.2,226.5L395.5,227.7M512.3,170.6L511.1,173.5M533.0,55.1L535.1,55.5M524.9,38.5L522.5,39.4M362.3,159.9L360.2,163.4M504.5,225.3L502.0,229.4" stroke="#0c0c22" stroke-opacity="0.55" stroke-width="0.8" stroke-linecap="round" fill="none"/>
<path d="M398.1,4.0L418.7,4.0L415.8,8.4L409.9,10.6L401.1,6.9ZM426.1,4.0L439.0,4.0L439.0,6.9L430.5,7.7ZM357.0,4.0L365.8,4.0L361.4,6.9L357.0,6.2ZM379.0,24.6L386.4,26.0L385.7,31.2L380.5,31.9ZM439.0,12.8L443.4,15.8L444.1,23.1L441.9,33.4L439.0,34.9ZM455.2,12.8L462.5,11.3L464.7,18.7L461.0,23.1L456.6,20.2ZM472.8,23.1L478.7,21.6L480.1,33.4L475.7,37.8L472.8,31.9ZM557.7,4.0L569.5,4.0L568.0,9.1L562.1,9.9L558.5,7.7ZM545.2,16.5L552.6,18.0L554.8,23.1L549.7,25.3L546.0,21.6ZM611.8,7.7L623.6,8.4L625.0,12.8L617.7,13.6L611.8,11.3ZM614.0,27.5L622.1,29.0L623.6,36.3L617.7,37.8L614.8,34.9ZM622.1,12.8L629.5,15.8L629.5,20.2L623.6,20.9ZM357.0,59.7L362.9,60.4L362.9,64.1L357.0,64.1ZM371.7,47.2L377.6,47.9L377.6,52.3L372.4,51.6ZM387.9,62.6L401.1,64.1L401.1,67.0L388.6,67.0ZM483.1,59.7L487.5,58.5L491.2,59.7L492.6,64.1L491.9,70.0L489.7,73.7L486.0,73.7L483.8,69.2L483.1,64.1ZM439.0,45.0L447.8,45.0L446.3,49.4L439.0,50.1ZM456.6,52.3L465.5,53.1L464.7,59.0L457.4,59.0ZM579.8,68.5L591.5,70.0L590.8,78.8L581.3,78.1ZM521.0,50.9L529.8,51.6L529.1,59.7L521.0,59.0ZM610.3,59.7L623.6,61.2L623.6,74.4L611.8,73.7ZM629.5,59.7L638.3,60.4L637.5,68.5L630.2,67.8ZM603.0,78.8L611.8,79.5L611.8,86.0L603.0,86.0ZM365.8,88.9L374.6,89.7L373.9,94.8L366.6,94.1ZM357.0,106.6L365.8,108.0L365.1,115.4L357.0,114.7ZM371.7,115.4L380.5,116.1L379.8,121.3L372.4,121.3ZM447.8,94.8L455.2,95.6L454.4,103.6L448.6,102.9ZM521.0,90.4L529.8,91.1L529.1,96.3L521.0,95.6ZM559.2,115.4L569.5,116.1L568.8,122.7L559.9,122.0ZM590.1,111.0L603.0,111.7L603.0,117.6L590.8,117.6ZM610.3,111.0L625.0,111.7L624.3,121.3L611.1,120.5ZM651.5,100.7L661.8,101.4L661.0,105.1L652.2,104.8ZM357.0,134.3L361.4,135.1L361.4,141.7L357.0,141.7ZM357.0,153.5L362.9,154.2L362.9,163.7L357.0,163.0ZM392.3,152.0L405.5,153.5L404.0,162.3L393.7,160.8ZM546.0,152.0L556.3,153.5L555.5,165.2L546.7,164.5ZM559.2,127.0L571.0,127.0L570.2,129.9L559.9,129.9ZM603.0,144.6L607.4,143.2L611.8,146.1L612.6,153.5L609.6,157.1L604.5,156.4L603.0,153.5ZM611.8,168.0L625.0,168.7L624.3,175.3L612.6,174.6ZM603.0,193.0L610.3,193.7L609.6,203.3L603.0,203.3ZM632.4,187.1L641.2,188.6L640.5,197.4L633.1,196.7ZM357.0,229.6L365.8,230.3L365.8,235.5L357.0,235.2ZM398.1,223.7L402.6,224.4L402.6,232.5L398.4,232.2ZM412.8,223.7L420.2,225.2L419.5,238.4L413.6,237.7ZM526.9,228.1L534.2,227.4L541.6,229.6L543.0,235.5L538.6,238.4L531.3,238.4L526.9,234.0ZM548.9,231.0L556.3,229.6L562.1,234.0L563.6,242.8L560.7,247.5L551.9,247.5L548.9,241.3Z" fill="#15152a" fill-opacity="0.8" filter="url(#bl)"/>
<g filter="url(#rg)">
<path d="M364.8,20.3L367.6,14.9L371.4,8.0L373.9,5.3L372.5,10.4L369.8,15.8L367.5,20.0ZM365.6,24.1L369.2,20.4L372.1,19.8L370.5,22.7L367.3,25.2ZM357.3,23.5L358.9,24.4L359.4,29.3L357.7,31.6L357.1,31.2ZM392.5,15.5L397.3,10.7L403.8,5.4L409.6,0.8L412.0,0.9L410.0,5.5L405.7,9.2L402.1,13.3L400.1,17.7L396.7,22.5L393.3,27.3L391.0,31.8L387.3,35.9L383.6,38.3L381.2,36.5L385.2,30.8L388.7,25.2L390.9,19.9ZM379.6,35.2L383.9,32.7L388.3,33.2L390.2,35.7L388.8,40.5L385.1,43.6L381.0,43.4L378.8,40.3ZM396.3,25.6L400.7,22.3L403.5,23.1L406.1,24.8L405.2,28.7L400.7,32.0L397.0,32.1L395.8,29.4ZM400.9,33.4L403.8,31.2L405.1,34.9L403.8,40.8L401.7,42.9L400.3,39.2ZM406.0,14.7L410.0,11.3L412.6,11.9L411.0,16.9L407.6,20.7L405.3,19.9ZM409.8,28.7L415.2,23.6L418.7,24.0L419.6,26.4L415.5,32.0L410.1,37.2L405.9,40.0L405.1,37.1ZM418.6,6.6L421.8,4.7L424.0,7.8L423.4,12.4L420.6,13.0L418.9,10.5ZM420.9,23.8L423.4,23.9L424.9,28.5L422.9,29.6ZM413.3,40.3L420.2,36.2L426.0,33.6L430.4,33.3L430.7,36.3L425.6,39.9L417.9,43.0L413.2,42.8ZM433.2,8.8L437.2,5.8L438.9,7.7L437.0,11.4L433.8,12.6ZM374.6,32.6L376.6,32.1L377.1,36.0L375.1,36.9ZM426.6,43.0L432.3,42.3L435.4,44.9L427.6,44.7ZM442.4,7.4L445.1,8.7L447.6,13.3L447.5,16.6L444.7,14.4ZM439.2,5.2L442.3,3.8L442.9,6.2L440.0,7.8ZM444.8,23.0L448.3,22.0L451.1,25.9L453.2,33.0L452.6,37.1L450.3,37.5L447.2,31.9L445.4,27.3ZM447.7,38.9L450.1,37.7L450.9,42.0L448.9,45.6L446.6,45.9ZM453.2,42.6L456.4,40.5L456.3,44.0L453.3,45.3ZM451.2,2.3L454.0,2.4L454.7,9.6L454.2,18.7L452.8,20.4L451.9,13.2ZM456.6,3.4L459.1,4.0L460.3,7.4L458.3,7.8ZM464.2,8.3L466.6,8.0L469.2,12.6L472.0,18.8L473.3,23.2L471.6,23.6L468.9,18.2L465.7,13.4ZM473.2,6.4L477.2,4.1L480.2,3.4L479.9,7.6L476.2,11.2L473.6,10.4ZM481.8,5.0L491.4,2.8L489.6,7.4L484.9,12.6L482.3,11.9L481.7,8.5ZM480.0,27.3L484.2,23.4L488.8,20.8L492.4,19.2L492.3,22.9L488.5,28.2L484.8,32.7L481.5,35.6L479.8,34.6L479.0,31.9ZM488.3,22.5L494.8,19.8L499.7,18.2L503.3,15.4L505.6,11.7L508.1,10.5L509.7,12.1L507.7,18.4L504.4,23.1L499.4,25.4L494.4,27.8L491.6,27.1L488.8,26.4ZM506.9,22.9L510.1,19.8L512.3,21.2L512.5,25.6L510.3,30.2L507.7,33.2L506.2,30.8ZM479.9,38.1L486.2,37.4L490.7,38.4L493.3,40.6L490.5,42.9L486.0,44.0L480.5,44.2L478.8,41.5ZM492.6,33.8L495.4,32.0L497.1,34.7L496.0,38.3L493.7,39.2ZM517.1,16.6L519.3,15.4L520.6,18.1L521.2,22.4L518.8,20.3ZM478.2,17.0L482.0,15.5L482.1,18.2L479.0,19.6ZM473.0,42.8L477.0,40.5L477.8,43.1L473.8,45.3ZM520.6,17.4L522.5,14.8L526.0,11.0L529.5,7.6L530.3,8.9L527.0,12.5L523.7,16.6L521.2,19.4L520.1,19.7ZM532.5,22.0L536.2,20.4L537.6,22.0L534.8,23.5L532.2,23.5ZM538.4,17.0L540.6,16.1L541.2,18.8L539.5,20.3ZM550.9,15.6L556.4,14.2L560.9,14.6L562.5,16.2L558.8,18.1L554.2,18.9L551.6,17.9ZM564.0,17.2L568.0,16.0L571.6,17.7L575.3,19.4L579.8,21.2L583.6,23.5L581.5,25.6L578.2,25.7L573.7,23.9L569.0,21.5L565.4,19.8ZM570.7,12.6L574.4,11.7L575.2,14.3L571.9,16.5L570.0,15.5ZM571.8,9.3L575.5,8.1L580.0,8.7L583.6,8.1L585.4,9.8L582.7,11.5L578.2,11.0L573.7,11.0ZM584.4,13.6L587.8,10.7L590.4,11.5L588.8,15.3L585.7,16.7ZM553.8,28.7L561.0,28.0L568.2,28.5L572.8,26.8L576.4,27.3L577.3,29.6L573.6,31.9L568.2,32.5L562.8,31.4L557.4,30.3ZM585.2,18.3L588.3,18.3L590.4,20.5L588.3,21.4ZM588.7,28.5L591.5,26.7L593.8,27.6L594.3,31.3L592.6,34.0L590.4,34.9L588.7,33.1ZM593.0,1.8L594.7,1.9L596.2,7.4L597.2,14.6L598.2,21.9L597.6,25.4L596.4,19.9L594.8,12.6ZM596.0,25.2L598.9,23.3L600.5,26.8L599.7,34.0L597.3,37.8L595.7,34.2ZM597.5,35.2L599.8,34.6L602.0,39.3L602.8,44.7L600.9,45.9L598.8,42.3ZM540.3,43.1L547.5,42.6L553.0,43.8L553.9,44.8L540.3,44.6ZM565.4,42.0L568.7,39.8L569.5,42.4L567.5,44.8L564.6,45.5ZM521.2,31.7L522.3,30.8L523.0,33.5L521.9,35.3ZM576.6,4.2L579.3,4.1L578.7,5.3L576.9,5.3ZM603.9,3.0L610.3,3.0L610.8,7.6L608.5,11.3L606.2,12.2L603.9,10.4ZM607.2,11.7L610.8,11.8L615.4,16.5L617.9,21.3L615.8,21.5L611.4,17.7L608.6,14.9ZM602.8,17.9L604.6,19.0L606.2,23.7L608.4,29.4L609.4,34.9L607.9,38.3L605.9,34.4L603.8,30.6ZM603.4,35.4L605.7,36.3L606.2,40.9L604.5,43.7L603.3,42.8ZM620.4,4.5L625.7,3.3L624.8,7.1L621.3,10.0L619.8,7.5ZM629.7,5.6L631.9,4.9L632.8,9.5L631.8,12.1L629.9,9.2ZM628.1,11.2L630.4,10.6L632.0,15.3L631.9,19.7L629.9,17.6ZM636.7,14.4L639.6,13.4L641.9,17.1L640.7,20.8L638.4,21.7L637.1,18.1ZM635.9,2.9L640.4,3.9L643.7,6.2L645.5,10.9L643.8,12.6L640.3,9.6L637.5,6.9ZM627.8,23.8L630.7,22.9L632.4,25.7L631.9,31.2L629.6,33.0L627.9,29.3ZM636.6,26.8L639.5,25.0L641.2,28.7L640.4,34.2L637.8,35.1L636.3,31.4ZM615.5,24.7L617.4,25.9L617.7,29.5L616.2,28.9ZM614.4,38.1L617.6,36.7L617.5,40.2L614.9,42.3L613.0,41.3ZM634.3,37.7L639.1,35.2L639.8,38.5L636.8,42.1L633.3,42.2ZM658.5,39.9L664.0,38.0L665.3,40.2L661.5,42.5L658.1,42.4ZM669.9,39.1L677.3,37.9L678.9,40.3L673.3,42.0L669.7,41.4ZM682.0,4.4L685.5,3.6L684.6,7.4L681.9,8.0ZM681.2,19.3L683.4,17.7L684.6,21.5L685.0,28.8L682.8,26.8ZM661.1,4.2L666.7,4.3L666.7,6.0L662.1,5.9ZM680.0,39.9L685.9,37.9L684.3,44.4L679.4,45.6ZM620.9,33.8L624.0,32.4L624.1,35.2L620.9,36.6ZM362.5,45.3L370.2,45.5L371.3,47.9L367.4,49.0L363.6,48.3ZM379.3,45.5L384.0,44.4L382.5,47.7L379.9,49.0ZM387.0,44.1L392.5,44.1L392.5,49.9L390.0,51.8L387.6,49.9ZM408.1,45.3L419.8,45.5L425.6,47.9L431.4,49.2L436.3,48.1L439.1,45.7L442.6,45.7L442.7,48.8L437.3,51.1L429.6,51.6L421.8,50.3L414.0,49.0L409.1,47.1ZM358.1,52.5L362.1,51.9L367.1,55.6L371.0,58.4L373.2,60.9L370.1,61.6L366.3,59.5L361.5,56.6ZM371.5,53.2L377.3,51.4L382.0,51.6L385.9,50.0L387.5,51.7L382.5,54.7L376.6,56.5L372.0,56.3ZM393.8,51.4L400.5,51.2L405.4,52.7L409.3,53.5L408.5,55.3L402.8,55.2L396.9,54.0ZM372.7,58.1L377.8,60.6L382.3,63.7L387.0,67.5L388.7,71.4L385.7,71.4L381.2,68.3L375.4,62.9ZM387.0,56.0L391.4,56.1L394.5,58.4L398.3,59.6L399.6,61.8L395.2,61.8L390.3,59.8ZM356.4,64.3L358.3,63.9L361.7,68.8L363.9,74.2L362.2,75.5L359.0,71.5L357.3,69.5ZM400.6,64.6L403.2,63.7L405.9,66.6L408.1,70.1L406.3,71.2L403.0,68.9ZM415.5,60.1L418.8,58.6L420.6,60.4L418.9,64.5L415.6,66.0L414.8,63.2ZM422.2,64.6L425.4,63.1L427.2,64.9L425.5,68.9L422.3,70.3L421.4,67.6ZM426.2,58.9L430.1,60.6L431.6,64.0L428.8,64.1ZM429.4,69.1L435.1,67.5L440.3,66.4L439.9,70.1L435.5,71.6L430.0,71.5ZM391.4,68.2L394.4,66.3L396.1,69.1L394.9,72.9L392.6,71.9ZM384.7,72.9L388.6,73.0L393.1,76.0L397.9,79.8L401.2,83.9L398.3,84.6L393.7,81.6L388.1,77.7ZM403.2,74.7L408.3,74.2L413.8,76.3L419.5,79.1L423.7,82.8L420.6,84.2L414.1,82.0L407.6,79.2ZM401.2,77.4L403.6,76.9L405.4,81.6L403.1,83.0ZM357.2,80.3L361.7,80.1L366.5,81.8L368.8,85.0L365.2,85.7L359.7,85.2L356.6,82.6ZM370.3,78.8L372.7,78.4L374.5,83.1L372.2,84.5ZM424.8,80.8L428.0,79.3L428.8,82.0L425.5,83.8ZM434.0,81.2L437.0,80.3L438.5,83.1L438.5,86.7L434.6,86.7ZM379.3,80.7L382.6,79.2L382.4,82.8L379.2,84.3ZM410.1,60.7L411.9,59.9L412.7,63.8L410.9,64.6ZM439.0,51.0L442.0,50.7L444.7,53.8L446.5,58.3L445.9,62.4L442.7,60.9L440.1,58.7ZM447.3,50.5L452.7,49.8L454.4,51.4L450.8,52.7L447.2,52.2ZM478.7,47.4L481.8,46.0L484.3,44.5L490.1,45.9L492.3,49.2L490.9,52.3L493.3,56.3L496.0,59.1L495.3,62.4L491.3,60.1L487.5,55.7L483.0,54.0L480.3,51.2ZM494.4,52.0L497.5,51.9L499.6,54.2L497.4,55.0ZM451.9,64.3L458.2,64.0L462.0,65.9L461.3,68.2L455.8,68.0L452.1,66.6ZM445.4,68.3L447.7,66.5L448.8,70.2L447.1,72.0ZM464.5,60.6L469.3,60.8L474.0,64.1L472.9,66.4L467.8,64.9ZM475.4,59.5L479.3,57.9L480.0,60.5L477.3,63.3L475.2,62.4ZM464.0,69.2L469.3,69.0L475.8,70.7L478.7,73.2L475.3,74.1L468.9,73.0L465.2,71.6ZM440.2,75.0L443.6,73.2L447.0,75.0L449.3,79.6L447.0,84.2L443.0,85.1L440.2,83.2ZM452.6,80.9L457.3,79.1L458.1,81.7L454.6,84.6L451.8,84.6ZM464.5,80.1L470.9,79.5L475.5,81.2L473.6,84.1L467.2,84.7L464.5,83.0ZM478.3,78.6L482.4,76.2L483.0,79.6L479.5,82.5L477.6,81.5ZM490.1,77.1L494.2,74.8L494.8,78.1L491.9,81.6L489.3,80.8ZM498.2,67.8L502.3,65.4L504.9,66.2L503.3,70.1L499.8,73.0L497.2,72.2ZM501.2,74.9L505.1,73.3L505.9,75.9L502.9,79.4L500.3,78.6ZM502.5,58.9L506.5,56.6L508.2,58.3L506.1,61.6L503.1,62.3ZM508.5,48.7L513.3,46.2L515.7,47.7L513.4,51.8L509.5,53.3L507.8,51.6ZM512.8,56.0L516.8,53.7L518.5,55.4L516.3,58.7L513.4,59.3ZM514.3,66.4L519.1,63.9L521.5,64.8L520.4,69.2L516.8,70.8L513.9,69.3ZM511.4,77.8L514.7,75.7L516.2,78.1L513.3,81.6L510.5,81.5ZM495.2,82.5L500.0,80.0L501.5,82.4L498.7,85.8L494.9,86.6ZM457.7,71.0L460.7,71.0L463.0,74.1L459.9,74.1ZM439.4,65.3L441.7,64.4L442.3,68.0L440.0,69.0ZM462.0,45.3L467.4,45.3L466.5,46.9L462.9,46.9ZM540.0,44.4L548.8,45.2L554.4,47.4L559.8,48.5L565.2,49.6L568.9,51.7L567.4,53.3L562.0,52.2L556.6,50.5L549.3,48.7L543.0,47.0ZM535.7,50.0L538.6,49.0L540.8,51.7L540.1,57.1L538.4,60.8L536.1,60.0L535.6,55.5ZM542.2,53.7L546.5,52.9L550.3,55.0L548.8,57.2L544.3,56.2ZM551.4,52.6L553.7,51.9L554.5,56.4L552.9,58.0ZM521.8,62.8L525.0,61.3L527.7,62.1L530.4,62.9L528.9,66.1L524.8,68.5L522.0,71.3L519.9,71.1ZM536.8,64.7L540.8,63.1L542.5,64.9L540.3,68.2L536.5,69.1ZM551.5,59.0L555.3,59.1L557.6,62.1L561.1,64.1L563.2,66.4L560.1,66.4L555.8,64.3L552.9,61.8ZM567.8,55.2L571.6,53.6L572.4,56.2L570.3,59.5L567.5,59.4ZM582.3,63.2L586.2,61.7L587.1,63.5L585.1,66.1L582.4,66.0ZM590.1,51.1L595.5,50.1L600.9,49.7L604.2,50.3L604.3,54.8L601.1,55.9L597.4,54.7L593.8,54.0L591.1,52.8ZM599.2,58.3L601.5,57.8L602.6,59.7L603.0,64.1L600.9,63.8ZM589.3,64.7L592.8,63.8L594.5,67.5L594.0,72.2L591.6,74.0L589.9,70.3ZM558.3,77.8L563.3,75.3L568.2,73.5L570.8,75.0L568.2,79.8L564.3,83.4L560.7,86.1L556.0,87.2L555.5,83.3ZM527.4,76.6L532.1,74.7L533.7,77.2L530.5,81.6L526.8,82.4ZM521.7,78.6L524.9,77.1L524.9,81.5L522.1,84.6L521.0,83.9ZM537.1,71.9L541.5,71.8L543.6,73.9L541.2,74.8ZM573.7,66.4L576.4,66.2L578.4,69.8L576.7,70.9ZM590.3,75.0L594.3,73.4L595.1,76.1L591.7,78.3ZM580.0,76.5L584.0,74.8L584.8,77.5L581.4,79.7ZM569.6,70.3L572.1,69.0L572.3,71.1L569.9,72.4ZM531.5,68.9L534.7,67.5L534.8,70.3L531.6,71.8ZM601.7,48.3L604.7,48.3L608.3,51.1L611.3,54.5L614.1,57.2L613.1,59.0L609.8,57.6L606.2,54.8L602.8,52.7ZM602.1,45.3L609.4,45.4L611.3,47.2L607.7,48.3L602.1,47.6ZM613.1,49.3L617.5,49.1L621.3,51.3L619.8,52.9L615.3,52.5ZM623.0,46.7L628.5,46.4L635.0,47.9L636.0,50.2L631.6,51.7L626.0,50.9L623.2,49.1ZM602.3,58.8L605.4,61.1L608.1,64.8L607.9,67.0L605.0,65.6L603.3,63.6ZM637.7,57.0L642.1,54.9L644.7,53.7L648.4,51.0L651.9,49.7L653.8,51.3L654.7,54.4L651.7,56.9L648.3,58.2L644.7,60.2L641.5,64.1L639.4,63.2L637.7,60.3ZM642.5,66.2L646.4,64.6L648.8,66.2L646.5,70.2L643.4,71.6L641.7,69.9ZM656.7,43.9L660.2,44.7L662.9,48.4L665.1,52.8L662.7,53.7L659.6,51.5L657.3,47.1ZM651.4,68.6L655.3,67.3L660.0,69.7L664.6,71.5L668.8,71.5L672.6,73.8L672.3,76.8L669.3,78.7L666.2,80.1L661.7,78.9L657.8,76.0L653.9,73.1ZM664.6,59.0L667.2,58.9L669.2,62.4L667.5,63.5ZM675.7,62.2L678.6,61.2L680.3,64.0L679.1,67.7L676.8,67.7ZM676.8,72.6L679.6,72.2L682.3,75.2L682.2,80.4L680.0,81.8L677.9,78.0ZM682.0,47.4L684.6,46.5L684.7,53.0L682.6,52.9ZM625.3,67.6L627.0,66.9L628.3,71.5L628.0,76.9L626.6,75.9ZM629.0,78.4L630.6,77.6L631.4,82.2L629.7,82.9ZM615.0,66.7L616.7,65.9L617.4,69.6L615.8,70.4ZM667.9,49.8L671.1,48.4L671.1,51.2L667.9,52.6ZM603.3,74.0L604.9,73.3L605.7,76.9L604.0,77.7ZM637.0,74.0L638.7,73.3L639.5,76.9L637.8,77.7ZM678.7,83.4L683.2,82.9L685.6,84.1L685.6,85.6L678.7,85.6ZM357.5,86.2L361.8,85.2L359.5,89.6L356.5,91.1ZM389.0,88.4L392.2,88.2L394.8,92.1L396.2,96.6L394.5,97.9L391.4,94.7ZM387.3,95.2L389.1,94.4L389.9,98.2L388.1,98.9ZM416.6,88.6L418.9,86.8L421.3,85.8L423.0,88.6L421.9,92.4L419.5,94.3L417.2,93.4ZM419.4,93.1L424.6,93.2L430.1,95.3L433.9,97.1L438.0,100.2L437.6,102.7L433.1,101.4L427.5,99.3L422.8,97.4ZM423.6,102.2L426.4,102.1L430.6,105.3L434.2,109.2L434.3,113.0L431.7,113.9L428.3,110.8L425.2,106.3ZM433.4,111.4L436.5,111.1L438.3,113.2L439.4,121.2L436.9,119.0L434.5,115.1ZM415.0,104.2L417.4,103.7L419.7,107.7L419.5,111.2L417.1,111.6L415.4,107.8ZM378.6,111.6L382.9,110.1L386.7,107.3L390.4,105.3L392.4,106.9L390.5,111.2L387.4,114.5L382.9,116.7L378.9,116.9L377.9,114.4ZM369.8,112.1L373.0,110.6L373.9,113.3L371.2,115.4L369.1,115.2ZM362.7,104.4L365.3,104.3L367.4,107.9L365.6,109.0ZM390.3,116.6L393.0,116.5L396.7,120.4L396.6,123.5L393.5,122.0ZM399.9,119.6L403.2,118.1L404.8,120.6L401.9,123.4L400.0,122.4ZM383.4,118.4L385.2,117.9L387.2,122.6L385.4,123.1ZM408.7,99.7L410.5,98.7L411.1,102.5L409.3,102.9ZM403.6,109.7L406.6,109.6L408.8,112.9L406.7,113.2ZM357.4,117.9L359.8,116.9L360.3,121.6L357.9,123.5ZM422.1,116.5L424.5,115.6L425.6,119.3L423.3,121.2ZM366.2,119.5L368.5,118.5L369.1,122.3L366.8,123.3ZM374.1,86.2L378.8,86.2L377.9,88.0L375.1,88.0ZM440.4,87.1L456.8,86.5L458.5,88.8L454.8,90.6L449.2,91.4L443.7,92.1L440.1,91.1ZM439.5,94.2L441.8,93.2L442.8,97.7L441.0,101.5L439.3,100.6ZM440.2,103.8L443.6,102.7L446.5,105.4L446.9,110.9L445.7,116.4L443.3,119.2L439.9,119.3ZM456.1,106.2L458.4,105.5L461.0,110.3L460.7,115.7L457.9,116.3L455.9,112.5ZM462.9,84.7L467.4,85.8L470.9,88.7L474.8,93.0L474.0,95.6L469.9,93.3L466.2,89.6ZM464.3,95.9L467.6,95.9L470.2,98.8L472.3,103.1L470.6,104.2L467.5,101.9ZM461.1,98.7L462.9,98.2L464.6,101.9L463.0,103.3ZM481.8,98.4L484.1,98.0L486.3,100.9L486.1,104.3L483.8,104.8ZM488.4,99.9L491.9,98.9L494.7,101.7L494.2,107.2L491.9,109.9L489.6,107.2ZM476.6,114.4L480.8,112.1L485.0,109.9L487.7,110.6L486.1,114.4L482.5,117.2L478.9,120.1L476.0,120.0ZM473.3,122.1L478.0,120.3L480.4,121.9L477.9,126.5L472.7,127.7ZM486.5,120.2L490.7,117.1L494.2,117.0L495.8,119.4L493.4,123.5L489.4,125.8L486.0,125.2ZM495.3,108.6L500.0,106.9L500.6,110.2L497.1,113.2L494.5,112.4ZM485.8,84.9L493.9,86.5L497.8,89.8L500.2,93.5L498.3,95.1L494.1,93.6L489.4,90.1ZM501.3,83.8L504.7,83.9L507.1,87.7L507.9,95.0L507.5,102.3L505.3,105.9L503.0,103.9L502.2,97.5L501.5,91.1ZM508.9,102.7L512.3,101.8L514.6,105.5L514.0,111.0L511.1,112.8L508.9,110.1ZM514.1,84.6L517.7,85.0L520.0,87.1L520.7,96.1L518.8,98.5L516.8,94.7L514.6,89.9ZM515.7,98.2L518.6,97.6L520.3,100.5L520.9,107.7L518.8,108.3L516.7,103.6ZM504.4,111.6L507.3,110.6L508.9,114.1L507.5,120.6L505.1,122.5L503.6,118.1ZM513.5,114.5L516.9,113.6L520.1,114.5L520.1,123.7L516.9,125.5L514.0,121.8ZM498.3,120.2L501.4,118.7L502.1,122.1L498.6,125.0L496.7,124.0ZM445.4,121.8L449.3,120.2L450.8,122.7L447.1,126.3L444.3,126.3ZM458.4,121.8L461.5,120.3L462.3,123.0L459.0,125.1ZM474.5,102.6L477.7,101.2L477.7,104.0L474.6,105.4ZM469.4,107.7L472.5,106.3L472.6,109.1L469.4,110.5ZM508.4,124.0L513.0,122.2L512.8,126.4L507.6,127.6ZM521.3,85.4L523.7,85.4L524.2,89.1L522.5,91.0L521.3,90.1ZM530.9,90.7L533.9,89.5L536.1,91.1L536.5,95.7L534.4,101.4L532.3,107.1L530.6,105.4L530.4,99.9ZM521.4,95.3L523.1,94.4L524.3,99.1L523.7,104.7L521.4,105.6ZM523.4,103.7L526.7,103.7L530.1,107.7L532.4,112.1L530.8,114.0L526.8,110.7ZM520.5,112.7L523.8,112.6L527.2,116.6L528.7,120.9L526.3,121.9L523.0,118.7ZM521.5,120.6L523.8,119.6L524.9,124.2L523.7,127.8L521.4,127.8ZM543.2,86.1L550.6,86.5L554.4,87.9L553.7,90.2L548.1,89.9L544.3,88.5ZM556.3,86.3L567.5,86.5L568.5,88.9L563.9,90.0L558.3,89.3ZM555.1,93.3L557.4,92.5L558.5,97.2L557.7,100.8L556.0,99.8ZM564.0,108.2L569.6,107.2L574.2,107.9L578.8,106.3L582.5,104.6L586.2,104.1L590.8,105.4L595.6,107.8L599.4,110.3L601.4,113.2L597.8,115.5L594.1,115.9L590.3,114.7L586.6,115.8L583.0,117.4L579.2,116.7L576.3,114.3L571.7,113.1L567.9,112.4L565.1,111.1ZM595.4,92.7L598.3,90.8L600.7,91.7L602.2,93.6L602.2,101.0L600.1,102.0L597.8,99.2L596.0,96.4ZM591.0,87.0L594.2,87.0L596.3,89.3L594.1,90.2ZM542.1,117.8L547.0,115.2L550.4,115.9L550.5,118.7L546.6,123.2L542.6,124.8L541.1,122.3ZM534.5,118.4L536.8,117.6L538.2,122.3L536.5,125.0L534.7,123.0ZM573.0,120.8L576.5,119.8L577.6,123.6L575.3,126.4L573.0,124.9ZM583.2,121.5L586.1,120.6L587.2,124.3L584.9,127.1L583.2,125.3ZM596.4,119.2L601.1,117.4L603.4,118.3L602.6,122.0L598.9,123.6L596.2,122.8ZM588.7,86.2L591.0,85.7L589.9,87.4L588.7,87.7ZM538.8,86.3L541.9,85.6L540.6,88.0L538.7,88.0ZM563.8,118.7L565.6,117.9L566.3,121.7L564.6,122.4ZM600.0,94.6L604.6,95.5L610.2,98.3L614.8,99.8L620.3,100.9L625.7,101.9L627.7,103.8L624.4,105.2L619.1,105.4L613.8,105.5L608.3,104.5L603.7,103.0L600.9,101.6ZM603.4,104.1L605.7,105.0L606.9,109.6L605.8,113.2L603.5,114.1ZM604.9,88.3L609.5,86.5L611.2,88.2L609.0,91.5L605.3,92.4ZM615.4,89.6L619.2,87.4L622.8,86.4L626.1,87.2L624.8,90.3L620.2,92.0L615.9,91.9ZM632.8,88.2L636.7,86.6L638.4,88.3L636.2,91.6L633.4,91.5ZM653.7,89.0L659.1,88.0L664.5,88.8L668.1,87.8L673.6,89.1L675.6,92.0L672.0,94.1L666.6,94.5L661.1,93.2L656.5,92.0ZM675.6,86.5L680.0,85.4L679.0,89.9L675.7,92.0L674.9,89.4ZM660.7,97.7L665.0,97.5L669.6,99.2L671.8,101.8L668.4,102.6L663.9,101.5L661.0,99.5ZM636.9,103.9L641.0,103.2L645.5,104.4L649.3,106.6L651.4,109.3L649.1,110.2L644.6,109.0L640.9,107.4L638.0,105.8ZM640.0,110.1L642.3,109.5L644.2,113.2L643.9,117.7L641.7,118.4L640.3,114.6ZM637.1,117.0L639.3,116.2L640.0,121.7L638.4,123.4L636.9,120.6ZM644.5,117.8L649.8,117.6L654.5,119.7L654.0,122.5L648.7,122.7L644.9,120.7ZM629.7,98.8L632.8,98.8L634.9,101.1L632.8,101.9ZM643.0,92.5L647.0,90.1L647.8,92.7L645.1,95.5L643.0,95.2ZM652.1,93.8L655.0,92.9L656.1,96.5L653.8,98.3ZM679.3,100.1L681.9,99.9L683.9,103.4L682.2,104.5ZM611.5,120.3L615.3,118.7L616.1,121.3L612.7,124.2L610.8,123.3ZM665.3,109.2L668.1,108.3L668.7,112.0L666.4,112.9ZM676.0,123.4L681.5,122.4L683.9,124.6L679.3,126.5L675.7,126.2ZM619.6,121.0L621.9,120.1L622.4,123.7L620.2,124.6ZM603.4,119.4L605.7,119.1L606.3,123.1L604.0,124.0ZM361.7,127.3L364.6,126.7L363.2,129.7L361.2,129.5ZM363.6,135.7L367.0,135.9L370.3,138.7L373.3,142.7L372.5,145.3L369.7,144.6L366.4,141.8L364.0,138.5ZM376.4,137.6L378.1,136.7L378.6,141.1L377.5,143.7L376.2,142.0ZM381.3,139.0L383.6,138.5L386.2,141.4L388.0,146.7L388.0,151.7L386.3,152.2L384.2,148.6L382.5,144.1ZM369.9,149.6L373.6,149.1L377.8,151.1L381.4,153.6L383.6,156.4L381.7,157.9L377.4,155.9L373.0,153.3ZM377.6,157.6L380.6,157.4L383.4,160.4L384.7,164.6L382.7,166.5L379.9,164.3ZM386.6,160.1L388.8,159.7L391.0,163.4L390.3,166.5L387.8,165.3ZM362.5,159.6L364.7,158.8L366.0,163.3L364.4,165.8L362.7,163.9ZM357.4,144.4L359.0,143.5L359.6,147.0L357.9,148.8ZM411.2,127.5L414.1,126.8L414.8,129.4L412.2,132.0L410.4,131.1ZM413.4,129.7L417.9,128.6L422.2,129.0L426.6,128.4L431.9,127.8L433.6,130.5L430.0,132.7L424.7,133.4L419.5,133.5L415.1,132.5ZM419.6,154.3L422.4,152.2L425.2,150.0L427.6,146.4L428.6,147.7L427.0,153.4L424.9,158.5L422.6,161.3L419.6,161.2L418.9,158.3ZM429.5,153.2L431.2,151.4L432.2,154.8L431.0,158.4L429.3,157.6ZM391.0,139.9L392.6,139.3L393.5,142.8L391.9,143.1ZM399.2,159.8L400.8,159.0L401.5,162.6L399.9,163.3ZM412.6,138.3L415.4,138.3L417.5,141.3L415.5,141.5ZM416.8,143.6L418.4,142.9L419.2,146.4L417.5,147.1ZM421.9,140.7L424.9,139.3L425.1,141.3L422.5,142.6ZM436.7,153.0L438.7,152.2L438.8,158.3L437.3,158.3ZM392.5,147.2L394.1,146.6L395.0,150.1L393.3,150.4ZM433.0,140.7L436.0,139.3L436.0,142.0L433.1,143.1ZM419.6,164.3L424.9,163.7L427.5,165.8L424.8,167.4L419.5,167.5ZM405.8,163.5L408.8,162.1L408.8,164.8L406.4,165.6ZM357.3,132.6L358.9,131.8L359.6,135.4L358.0,136.1ZM439.3,129.4L441.8,128.5L443.0,132.3L441.2,134.3L439.3,133.3ZM448.1,127.4L452.8,126.3L451.3,129.7L447.9,131.2ZM455.3,131.9L458.7,130.4L459.5,133.1L456.0,135.4ZM447.5,138.0L450.3,137.9L452.4,141.6L450.6,142.7ZM439.4,148.2L443.5,146.5L446.1,148.1L444.6,151.5L441.2,153.0L438.4,152.1ZM439.4,157.0L443.5,155.3L446.1,156.9L444.6,160.2L440.4,161.9L438.5,160.9ZM447.4,157.0L451.5,155.3L454.3,156.2L452.8,159.5L449.1,162.6L446.3,161.7ZM453.0,160.3L458.7,159.2L463.6,157.6L468.5,156.6L472.1,157.5L470.8,160.7L465.8,163.0L460.0,164.0L454.4,163.9ZM465.2,139.3L468.3,137.3L469.4,141.2L468.8,147.0L466.9,149.0L465.2,145.1ZM474.0,135.1L476.7,134.9L478.9,138.6L477.0,139.8ZM486.5,127.4L489.5,126.6L491.4,129.5L490.9,134.3L489.1,137.2L487.2,134.2ZM483.2,138.2L485.0,137.4L485.9,142.2L484.1,143.1ZM487.6,145.1L490.9,143.6L492.0,145.6L489.0,148.5ZM491.1,150.4L493.5,148.4L495.3,151.3L495.7,158.0L494.4,163.8L491.9,165.9L490.2,162.1ZM500.6,138.5L504.5,137.0L508.1,138.3L509.0,141.9L506.6,146.9L503.7,151.0L501.5,154.1L499.8,152.6L500.6,145.0ZM505.2,155.0L508.4,152.8L510.6,155.4L509.6,161.2L507.0,164.4L504.7,162.7ZM510.0,125.9L513.6,125.9L514.2,130.8L512.4,135.6L510.6,133.7ZM513.9,135.0L516.4,134.7L518.3,138.6L516.7,140.9ZM515.9,161.5L519.0,160.6L520.5,162.5L520.5,169.1L515.9,169.1ZM481.5,156.3L484.0,156.0L486.1,160.7L484.4,162.1ZM475.2,161.9L478.5,160.4L478.4,164.1L475.2,165.3ZM494.3,127.3L497.4,126.5L496.1,129.1L494.3,129.1ZM460.2,166.1L466.0,165.5L468.0,167.8L460.2,167.8ZM521.5,127.4L525.5,126.5L527.1,129.1L524.8,132.6L521.8,132.6L520.6,131.4ZM545.5,136.8L549.3,134.2L553.1,131.7L556.2,129.3L558.7,130.4L557.7,135.6L554.7,141.3L551.2,145.5L548.0,148.7L545.3,148.5L544.9,143.6ZM560.6,128.3L562.9,126.7L564.6,131.6L566.4,138.4L565.5,142.1L563.5,139.9L561.7,134.1ZM569.9,126.2L574.8,127.2L578.0,130.8L577.1,133.4L573.6,132.0L571.4,129.3ZM579.1,138.5L582.9,135.5L586.0,131.8L589.5,129.5L591.3,131.3L588.6,136.4L584.7,140.2L580.6,141.9L578.6,140.9ZM591.8,133.1L594.2,132.3L595.5,137.1L595.1,142.9L593.3,143.8L591.9,138.9ZM539.8,137.4L542.2,136.7L543.2,141.5L544.2,147.3L545.2,153.1L546.8,158.1L545.1,160.7L543.0,156.7L541.4,150.8L540.4,145.0ZM527.3,146.5L529.7,144.5L531.5,148.4L530.9,155.2L529.1,158.1L527.3,154.2ZM531.5,140.4L533.9,139.7L534.8,143.6L533.1,145.3ZM563.0,143.4L565.5,142.4L569.0,145.7L571.3,150.2L569.6,152.2L566.5,150.7L563.8,147.6ZM553.6,150.5L556.0,149.7L557.9,152.7L558.2,159.4L557.1,164.2L555.2,162.1L554.0,156.3ZM547.9,158.7L550.4,156.7L552.1,159.6L551.5,164.4L549.6,166.4L547.9,163.5ZM561.1,161.0L563.5,159.0L564.7,162.8L563.4,167.7L561.6,166.8ZM562.0,151.5L567.4,151.5L572.3,153.4L573.7,156.1L570.2,156.9L565.4,155.7ZM537.5,162.6L540.8,161.1L541.6,163.9L538.7,166.8L536.7,165.8ZM521.2,141.1L523.0,140.2L523.7,145.1L521.9,147.0ZM594.9,162.7L599.0,161.0L599.8,163.8L596.7,167.5L593.8,167.4ZM571.8,141.2L575.1,141.2L577.4,144.4L574.2,144.4ZM604.8,129.1L607.3,128.1L609.2,131.1L608.6,136.1L606.1,136.1L604.8,133.1ZM612.9,135.4L615.7,133.9L618.6,131.5L621.4,130.1L623.0,132.6L620.4,137.8L617.3,142.2L615.9,148.1L614.1,152.3L612.5,149.7L612.6,143.0ZM615.2,149.4L617.8,147.3L619.6,150.2L618.8,157.3L616.8,160.4L615.0,157.5ZM623.5,141.2L625.9,139.5L628.1,143.7L629.9,149.8L629.6,154.7L627.2,156.4L624.9,152.2L623.8,146.1ZM631.2,131.9L633.7,130.9L635.0,136.0L633.1,140.0L631.2,138.0ZM638.4,128.4L640.9,127.7L641.8,132.8L640.1,134.6ZM635.7,143.7L640.8,142.8L644.9,142.0L649.9,141.1L653.9,141.5L653.7,144.1L648.6,145.0L642.6,145.9L637.5,146.1ZM644.3,132.7L646.8,131.8L648.3,135.9L647.2,139.9L645.2,138.7ZM656.1,134.6L659.3,133.8L660.7,138.9L659.6,143.8L657.0,142.7ZM661.6,141.9L664.2,139.7L666.0,142.6L665.1,149.7L663.0,154.9L661.1,153.0ZM664.6,130.1L667.8,129.7L670.3,134.0L669.6,138.6L666.8,137.1ZM671.5,125.6L675.8,126.5L677.9,130.6L677.1,133.9L674.1,132.4ZM670.8,137.3L673.3,136.4L676.0,139.6L675.5,145.6L673.8,149.5L671.7,145.4ZM679.3,131.5L682.5,131.0L684.4,133.2L685.3,142.1L682.9,140.7L680.5,136.5ZM676.8,147.9L679.9,146.0L682.5,149.1L682.1,156.2L679.6,158.1L677.0,153.9ZM647.5,151.2L650.0,150.2L652.5,152.2L651.9,157.3L649.4,158.3L647.5,155.2ZM654.0,149.7L656.9,149.5L659.1,153.4L657.2,154.6ZM626.4,161.5L631.6,159.8L636.6,158.7L640.4,159.7L639.0,163.0L633.9,164.7L628.9,165.1L626.1,164.1ZM640.0,162.6L643.5,161.0L644.3,163.9L641.3,166.9L639.2,166.2ZM606.6,160.1L610.0,158.6L611.7,161.2L610.4,167.2L607.0,169.5L605.3,167.1ZM617.3,161.5L620.5,159.4L622.4,162.5L621.8,167.5L618.6,169.3L617.3,166.5ZM662.3,160.0L666.1,158.0L668.6,160.0L668.0,166.0L664.8,168.1L662.3,166.0ZM672.3,161.4L677.4,159.4L679.1,162.1L675.9,166.0L671.8,166.9ZM681.2,159.7L684.7,158.8L684.8,167.9L681.9,167.8ZM653.0,162.6L656.5,161.0L656.6,164.1L653.1,165.7ZM370.7,167.6L373.5,167.6L374.0,171.1L371.8,172.9L370.7,170.3ZM382.4,168.5L386.0,167.6L384.5,171.4L382.3,171.9ZM359.0,179.2L362.7,179.3L367.1,182.0L370.0,185.1L369.1,187.4L365.8,186.1L362.3,183.5L359.5,181.1ZM357.0,186.9L359.4,188.1L361.5,192.0L362.5,198.5L361.0,201.0L358.5,198.9L357.5,194.3ZM370.5,184.6L373.1,184.3L375.6,187.3L377.7,191.8L376.1,193.9L373.1,191.6L371.2,187.9ZM377.7,192.1L380.0,191.6L382.3,195.5L381.5,199.8L378.9,197.6ZM383.3,183.7L387.2,181.4L389.7,182.2L390.5,184.7L387.9,187.3L385.0,188.0L383.4,186.3ZM391.7,193.7L394.3,193.5L397.2,195.0L399.7,198.0L401.2,202.3L400.5,205.3L397.9,205.5L394.5,201.5L392.4,197.1ZM404.7,189.1L407.1,188.0L408.1,191.5L406.4,198.1L404.5,201.0L403.2,197.5ZM405.0,179.2L407.2,178.8L408.9,182.4L407.5,184.5ZM411.3,167.4L414.5,168.1L415.8,171.4L414.2,172.5ZM419.0,186.5L421.3,185.8L422.2,190.5L420.5,192.2ZM423.2,166.8L426.7,167.5L429.5,171.3L429.6,176.2L428.2,178.4L426.1,175.5L424.3,171.1ZM422.9,196.7L425.6,196.6L427.7,200.1L425.9,201.3ZM435.1,184.3L437.4,183.8L438.6,186.5L439.0,189.9L436.9,189.5ZM410.4,188.0L413.3,187.1L414.5,191.7L412.7,194.5L410.6,192.6ZM364.2,199.7L366.8,199.5L368.9,203.1L367.1,204.2ZM374.1,201.5L377.3,200.0L377.4,202.9L374.2,204.3ZM386.6,200.7L388.3,199.9L389.1,203.7L387.4,204.4ZM379.3,173.6L381.0,172.8L381.7,176.4L380.1,177.1ZM361.7,173.6L363.3,172.8L364.1,176.4L362.4,177.1ZM433.2,200.8L436.5,200.7L438.7,203.6L439.4,207.8L436.3,207.1ZM399.8,180.9L401.5,180.3L402.3,183.8L400.7,184.1ZM447.0,163.3L449.4,163.2L450.5,167.0L449.7,174.8L449.0,182.5L449.4,190.2L448.6,198.0L447.3,203.8L444.9,203.0L443.8,198.2L445.1,192.3L446.5,184.5L446.1,174.9L446.3,167.2ZM439.4,196.6L441.9,195.6L443.0,200.3L441.0,204.3L439.2,203.4ZM439.4,167.8L442.0,167.3L440.9,171.1L438.8,172.4ZM455.7,171.8L458.2,169.7L459.9,172.5L459.1,177.3L457.2,180.3L455.5,177.5ZM463.5,174.5L465.9,173.7L467.3,177.7L466.2,181.4L464.4,180.4ZM466.5,166.8L470.5,167.7L474.0,170.0L476.3,173.4L475.5,176.2L472.1,174.7L468.2,170.8ZM483.8,174.6L487.1,173.1L490.8,173.0L492.7,174.8L490.4,178.3L488.1,181.8L485.3,183.9L483.5,182.1L482.9,178.5ZM477.6,167.6L483.0,168.5L485.4,171.4L483.0,172.3L479.1,170.4ZM495.5,168.4L497.9,166.5L500.3,166.6L501.5,170.4L501.0,176.2L499.2,180.1L497.4,178.1L496.1,174.3ZM503.6,170.2L506.1,169.8L508.0,173.7L506.4,176.0ZM513.1,168.5L517.9,167.4L519.5,170.0L517.0,174.3L513.7,175.9L512.8,173.1ZM498.0,181.9L500.4,181.1L501.8,185.0L500.8,188.8L498.9,187.7ZM487.7,186.0L489.5,185.1L490.8,189.9L490.2,194.7L488.4,195.7L487.2,191.8ZM482.1,190.0L484.6,188.8L485.6,192.6L484.2,197.5L482.3,198.6L481.3,194.8ZM476.5,198.0L479.5,196.1L482.5,197.1L483.7,200.9L481.9,205.8L478.9,207.7L476.5,204.8ZM468.8,203.8L472.9,202.1L474.7,203.9L473.0,208.0L469.0,209.5L468.1,206.9ZM452.2,202.5L454.7,202.1L456.6,206.0L455.0,208.3ZM517.1,187.5L519.5,186.7L520.6,189.7L521.0,197.4L518.8,196.2ZM508.1,193.6L510.5,193.1L512.4,198.0L510.8,200.5ZM505.4,205.2L509.5,203.5L510.4,206.3L507.5,209.0L504.5,209.1ZM473.0,182.3L474.8,181.4L475.6,185.3L473.8,186.2ZM458.3,186.7L460.1,185.9L460.9,189.7L459.1,190.6ZM462.6,202.8L464.4,202.1L465.4,206.0L463.5,206.3ZM493.7,194.1L496.1,193.1L496.8,197.0L494.9,198.0ZM521.8,169.7L524.3,168.7L526.0,172.4L526.4,179.2L525.0,185.0L523.6,190.9L521.7,192.9L521.2,191.0ZM521.4,190.1L523.8,190.1L525.0,195.8L523.7,201.7L521.3,202.7ZM534.5,171.4L536.9,170.5L538.2,175.4L537.2,180.2L535.3,179.2ZM536.1,183.6L538.5,181.7L540.4,185.6L541.0,193.3L539.8,199.1L538.0,202.0L536.1,198.2L535.5,191.4ZM543.0,167.1L546.6,167.1L549.0,169.0L548.4,173.8L545.4,175.8L543.6,172.9ZM543.3,184.8L545.7,184.0L547.1,187.9L546.1,192.7L544.1,190.6ZM555.5,175.4L557.9,174.7L560.5,177.8L562.1,183.7L563.2,191.4L562.4,199.0L560.7,200.7L558.6,195.7L557.4,187.1L555.9,181.2ZM559.0,166.7L562.9,167.4L564.8,172.2L564.1,176.6L561.3,175.2L559.7,170.4ZM564.4,183.6L568.2,180.8L573.0,177.7L577.4,176.1L581.2,176.7L581.2,180.2L577.8,184.3L572.9,188.1L568.3,190.5L565.1,190.4L564.3,187.1ZM578.7,168.9L581.2,167.8L582.3,171.6L580.3,175.6L578.6,173.7ZM584.6,168.5L589.4,167.5L590.2,170.2L587.1,173.9L584.3,173.1ZM584.0,171.7L588.3,171.2L593.3,173.9L597.5,179.4L600.1,184.5L599.3,187.4L595.3,185.7L590.5,180.8L586.5,176.0ZM590.5,167.6L595.9,168.5L598.3,171.4L595.8,172.3L591.9,170.4ZM597.7,189.2L600.7,187.6L602.4,188.7L603.0,197.3L600.7,196.1L598.6,193.1ZM582.9,187.6L585.3,186.9L587.4,190.9L586.5,195.6L584.0,194.4ZM569.9,194.7L572.4,193.7L574.1,197.5L573.5,204.3L571.0,206.3L569.3,202.5ZM576.5,196.6L578.9,195.6L580.1,199.5L578.9,204.3L576.9,203.4ZM545.2,198.0L547.7,195.9L550.1,197.7L550.5,202.5L548.5,207.4L546.0,208.5L544.9,204.8ZM530.2,195.0L532.7,193.9L534.4,197.7L533.1,203.6L530.7,204.6L529.5,199.8ZM521.3,204.5L525.4,202.8L527.3,204.7L524.8,208.8L520.1,209.9ZM589.2,198.0L592.9,196.1L595.3,199.0L594.7,204.8L591.6,206.8L589.2,203.9ZM597.9,200.8L600.9,199.9L602.5,201.9L602.7,210.4L598.7,210.3ZM562.1,201.0L564.6,200.6L566.5,204.5L564.9,206.9ZM554.2,199.7L556.6,199.0L557.6,203.9L555.5,204.6ZM530.0,179.3L531.8,178.5L532.6,182.4L530.8,183.2ZM604.7,167.9L610.7,168.4L612.9,170.4L610.1,171.5L606.0,170.6ZM609.1,175.8L611.6,174.9L613.0,179.0L611.8,184.0L609.9,182.9ZM613.7,184.4L615.9,183.6L617.1,187.2L616.2,190.6L614.5,189.7ZM603.3,185.3L605.0,184.4L605.6,188.9L604.0,190.6ZM625.1,165.7L628.2,166.0L629.7,170.1L630.7,176.2L629.7,182.1L627.8,180.9L626.1,173.8ZM632.3,169.6L635.5,169.3L638.0,173.5L637.2,178.1L634.4,176.7ZM639.4,174.0L641.9,173.4L644.8,176.7L646.6,182.8L647.3,190.7L646.4,194.5L644.2,192.3L642.4,186.2L640.7,181.0ZM622.4,188.7L624.6,188.2L626.1,191.8L625.2,194.2L623.4,193.1ZM636.5,188.0L638.7,187.3L639.9,190.9L639.0,194.3L637.3,193.3ZM650.0,166.7L652.6,166.9L653.5,173.0L652.5,176.9L650.6,172.7ZM657.6,165.7L660.8,165.7L661.4,171.8L660.9,179.8L659.6,183.9L658.3,179.8L657.7,172.7ZM665.1,168.2L667.6,167.2L669.5,172.2L669.4,180.3L668.2,186.4L666.3,190.5L665.0,184.4L664.8,176.3ZM674.5,166.6L678.8,167.5L680.9,171.6L680.1,174.9L677.0,173.4ZM662.2,186.5L664.3,185.0L666.3,188.7L666.1,192.9L663.9,192.6ZM672.5,183.2L674.6,182.5L676.5,186.2L676.9,192.2L676.0,194.7L673.9,191.9ZM680.9,172.6L683.4,171.9L684.7,175.0L685.2,183.0L682.8,180.8ZM679.9,192.2L682.7,191.7L684.3,193.6L685.0,201.3L682.3,200.1ZM656.3,193.9L658.4,193.2L659.8,197.7L658.2,200.2L656.7,198.3ZM669.6,193.8L671.8,193.0L673.0,197.4L672.0,202.6L670.3,201.7ZM642.9,195.4L645.1,195.0L646.2,199.3L644.6,199.9ZM651.6,182.2L653.5,181.3L654.3,185.4L652.5,186.3ZM617.8,168.3L621.1,167.5L620.2,170.0L617.6,170.6ZM360.5,212.9L364.0,209.6L367.2,208.1L368.3,209.7L365.8,214.4L363.3,219.2L361.3,224.8L359.4,229.4L357.4,230.7L357.5,225.5L359.1,218.3ZM375.0,225.4L377.3,224.5L378.5,229.2L378.0,234.7L376.9,238.4L375.7,235.6L375.0,231.0ZM382.3,217.2L384.0,216.3L385.2,220.1L384.1,223.8L382.6,222.8ZM389.9,215.1L392.2,213.2L393.9,215.9L393.3,220.6L391.5,222.5L389.8,219.7ZM402.9,219.5L405.5,217.4L408.6,214.4L410.6,211.4L412.6,208.4L414.3,209.2L414.6,213.7L412.5,217.6L411.0,222.3L409.9,229.7L408.7,237.1L407.0,244.6L405.4,250.2L402.9,252.7L401.2,251.6L402.3,245.1L405.2,237.5L406.9,230.0L406.6,225.5L404.3,224.9L402.7,223.2ZM419.1,221.5L421.4,220.8L422.7,224.5L421.7,228.2L419.9,227.1ZM418.2,207.5L424.7,208.8L428.5,212.3L432.4,215.8L435.5,219.2L434.4,220.9L430.1,218.7L425.4,215.0L420.8,212.0ZM436.6,212.7L438.6,211.9L438.9,220.3L437.3,218.3ZM389.5,235.8L391.8,234.3L394.4,237.3L395.5,242.9L394.1,246.3L392.2,245.1L390.2,240.3ZM384.4,242.3L386.2,241.5L386.9,246.1L385.2,247.6ZM365.9,233.3L368.3,232.9L370.1,236.7L368.6,238.9ZM357.5,236.5L359.9,235.4L360.2,239.9L358.3,241.9L357.2,241.1ZM396.9,235.8L398.6,235.0L399.4,238.8L397.7,239.6ZM427.7,228.8L430.0,228.4L431.8,233.0L430.3,235.4ZM417.1,237.7L419.7,237.6L421.8,241.1L420.0,242.3ZM372.1,221.2L374.4,220.3L375.0,224.0L373.3,224.9ZM401.6,208.6L404.5,208.6L405.1,212.3L402.7,213.2ZM441.8,210.6L445.4,209.7L450.0,208.9L454.7,209.4L457.9,212.2L462.8,213.9L468.4,213.8L473.2,214.8L478.2,217.2L479.6,220.4L477.1,222.6L473.2,221.7L469.2,219.4L463.4,217.6L457.6,216.5L451.7,214.7L446.1,214.1L443.2,213.2ZM439.6,233.8L442.1,232.8L444.5,235.8L445.7,240.6L444.5,245.4L442.1,248.3L439.6,247.4ZM448.4,237.2L450.8,235.3L453.2,237.3L454.5,242.2L453.3,247.0L450.3,249.3L448.5,245.0ZM460.1,225.0L462.5,224.0L464.3,226.8L464.9,233.6L463.0,238.5L461.2,240.4L460.0,235.6ZM458.4,240.5L460.8,239.6L462.1,243.5L461.0,248.3L459.2,247.3ZM468.0,234.4L470.4,233.5L471.7,238.3L470.5,244.1L468.7,243.1ZM476.9,224.0L479.3,222.0L479.9,226.8L479.1,233.6L477.9,236.5L476.8,231.7ZM482.4,229.5L485.5,227.1L488.1,227.3L488.2,230.7L485.5,234.7L482.8,238.7L480.0,239.3L480.1,235.1ZM477.0,239.0L480.0,238.0L482.5,240.9L481.8,245.7L478.8,247.7L477.0,244.8ZM479.1,208.9L484.7,209.5L486.9,211.6L484.4,213.2L480.4,211.5ZM489.0,207.7L492.8,208.3L494.5,212.3L493.7,216.8L491.1,215.4ZM483.2,219.8L486.7,217.5L488.5,219.3L486.2,222.8L483.3,222.8ZM492.3,221.3L496.4,219.6L497.2,222.3L494.9,225.9L492.0,225.8ZM497.9,228.1L500.3,227.5L503.0,229.7L504.6,233.7L503.7,238.3L501.3,238.9L498.6,235.7ZM490.8,237.6L493.2,236.7L494.4,240.7L493.3,244.5L491.1,243.5ZM504.1,240.0L509.8,239.0L515.7,239.9L520.6,241.3L523.1,242.6L523.4,247.1L516.1,246.8L508.4,246.5L504.4,244.3ZM510.8,208.3L516.2,209.2L519.3,211.6L521.8,212.7L522.4,215.4L518.3,214.7L512.4,211.8ZM514.9,219.9L517.3,219.1L518.7,223.1L517.7,226.9L515.8,225.8ZM439.3,217.4L441.1,216.4L441.7,220.3L439.9,222.3ZM498.7,241.4L501.1,240.8L502.1,245.6L499.9,246.3ZM452.4,226.1L454.8,225.4L455.7,229.3L454.0,231.0ZM516.4,206.2L523.3,207.5L528.9,210.6L533.0,214.1L535.6,218.0L539.4,220.1L545.5,222.0L550.0,223.5L551.5,226.5L549.6,228.9L544.8,229.3L539.5,227.6L534.8,225.3L532.3,221.5L528.7,216.7L523.7,213.0L517.4,210.4ZM559.6,207.5L563.3,207.6L564.5,211.4L563.9,217.2L562.1,220.1L560.3,218.2L559.1,213.3ZM555.5,226.3L561.1,226.2L566.9,227.2L570.9,228.8L572.1,231.3L568.5,232.3L562.7,231.2L557.8,229.6ZM572.6,224.1L575.0,223.4L577.0,226.4L577.3,231.2L575.0,232.9L573.0,229.9ZM574.1,213.9L575.9,213.0L577.2,216.9L576.8,222.7L575.0,222.6ZM580.6,218.7L583.0,216.8L585.4,214.9L587.2,216.8L587.2,222.6L585.4,226.5L583.0,227.4L581.2,224.5ZM585.8,229.1L588.9,227.1L591.3,228.9L593.0,233.7L592.2,240.5L590.3,246.3L587.9,248.4L586.1,245.5L585.6,238.8ZM594.4,212.2L596.8,211.0L599.7,212.5L601.7,217.2L600.3,220.4L597.4,218.9ZM565.4,237.4L567.8,236.6L569.7,239.5L569.2,245.3L566.8,246.2L565.5,242.2ZM543.0,236.7L545.5,236.2L547.9,240.3L547.0,243.8L544.3,242.4ZM535.3,237.6L537.7,236.8L539.0,240.7L537.9,244.5L535.8,243.4ZM525.6,235.6L528.0,234.9L528.9,238.8L527.2,240.5ZM521.2,228.5L524.5,227.0L524.6,229.9L521.1,232.2ZM595.4,237.4L597.8,236.7L599.9,240.7L599.0,245.4L596.5,244.2ZM546.5,208.8L552.1,209.4L553.3,211.3L549.7,211.6ZM601.2,240.5L602.8,239.5L602.8,248.6L601.3,247.3ZM603.6,226.8L605.8,225.0L606.9,232.0L606.2,244.3L603.5,246.1ZM610.0,214.0L613.0,213.0L616.0,222.0L616.0,234.0L612.0,234.0L610.0,224.0ZM619.0,206.0L623.0,205.0L625.0,212.0L624.0,217.0L620.0,216.0ZM620.0,221.0L624.0,220.0L627.0,230.0L627.0,239.0L623.0,239.0L621.0,230.0ZM629.0,223.0L633.0,222.0L637.0,228.0L636.0,234.0L631.0,233.0ZM640.0,205.0L645.0,205.0L646.0,210.0L641.0,210.0ZM662.0,214.0L668.0,212.0L675.0,214.0L674.0,219.0L666.0,219.0ZM663.0,225.0L668.0,224.0L673.0,228.0L672.0,234.0L665.0,233.0ZM651.0,230.0L656.0,229.0L660.0,234.0L658.0,238.0L652.0,237.0ZM675.0,221.0L680.0,220.0L682.0,226.0L679.0,229.0L676.0,228.0ZM642.0,216.0L646.0,215.0L648.0,220.0L645.0,222.0ZM603.0,234.0L606.0,232.0L607.0,247.5L603.0,247.5ZM608.0,245.0L620.0,245.0L620.0,247.5L608.0,247.5ZM650.0,245.0L660.0,245.0L660.0,247.5L650.0,247.5ZM672.0,245.0L685.0,245.0L685.0,247.5L672.0,247.5ZM438.0,124.0L444.0,118.0L451.0,115.0L450.0,119.0L444.0,125.0L439.0,126.0ZM446.0,96.0L450.0,89.0L455.0,86.0L460.0,87.0L457.0,94.0L451.0,100.0L447.0,100.0ZM463.0,106.0L468.0,101.0L474.0,99.0L474.0,103.0L469.0,108.0L464.0,108.0ZM461.0,150.0L466.0,143.0L472.0,139.0L474.0,143.0L470.0,150.0L464.0,154.0ZM357.0,112.0L362.0,110.0L366.0,113.0L363.0,118.0L357.0,118.0Z" fill="none" stroke="#10102a" stroke-opacity="0.6" stroke-width="2.8" stroke-linejoin="round"/>
<path d="M364.8,20.3L367.6,14.9L371.4,8.0L373.9,5.3L372.5,10.4L369.8,15.8L367.5,20.0ZM365.6,24.1L369.2,20.4L372.1,19.8L370.5,22.7L367.3,25.2ZM357.3,23.5L358.9,24.4L359.4,29.3L357.7,31.6L357.1,31.2ZM392.5,15.5L397.3,10.7L403.8,5.4L409.6,0.8L412.0,0.9L410.0,5.5L405.7,9.2L402.1,13.3L400.1,17.7L396.7,22.5L393.3,27.3L391.0,31.8L387.3,35.9L383.6,38.3L381.2,36.5L385.2,30.8L388.7,25.2L390.9,19.9ZM379.6,35.2L383.9,32.7L388.3,33.2L390.2,35.7L388.8,40.5L385.1,43.6L381.0,43.4L378.8,40.3ZM396.3,25.6L400.7,22.3L403.5,23.1L406.1,24.8L405.2,28.7L400.7,32.0L397.0,32.1L395.8,29.4ZM400.9,33.4L403.8,31.2L405.1,34.9L403.8,40.8L401.7,42.9L400.3,39.2ZM406.0,14.7L410.0,11.3L412.6,11.9L411.0,16.9L407.6,20.7L405.3,19.9ZM409.8,28.7L415.2,23.6L418.7,24.0L419.6,26.4L415.5,32.0L410.1,37.2L405.9,40.0L405.1,37.1ZM418.6,6.6L421.8,4.7L424.0,7.8L423.4,12.4L420.6,13.0L418.9,10.5ZM420.9,23.8L423.4,23.9L424.9,28.5L422.9,29.6ZM413.3,40.3L420.2,36.2L426.0,33.6L430.4,33.3L430.7,36.3L425.6,39.9L417.9,43.0L413.2,42.8ZM433.2,8.8L437.2,5.8L438.9,7.7L437.0,11.4L433.8,12.6ZM374.6,32.6L376.6,32.1L377.1,36.0L375.1,36.9ZM426.6,43.0L432.3,42.3L435.4,44.9L427.6,44.7ZM442.4,7.4L445.1,8.7L447.6,13.3L447.5,16.6L444.7,14.4ZM439.2,5.2L442.3,3.8L442.9,6.2L440.0,7.8ZM444.8,23.0L448.3,22.0L451.1,25.9L453.2,33.0L452.6,37.1L450.3,37.5L447.2,31.9L445.4,27.3ZM447.7,38.9L450.1,37.7L450.9,42.0L448.9,45.6L446.6,45.9ZM453.2,42.6L456.4,40.5L456.3,44.0L453.3,45.3ZM451.2,2.3L454.0,2.4L454.7,9.6L454.2,18.7L452.8,20.4L451.9,13.2ZM456.6,3.4L459.1,4.0L460.3,7.4L458.3,7.8ZM464.2,8.3L466.6,8.0L469.2,12.6L472.0,18.8L473.3,23.2L471.6,23.6L468.9,18.2L465.7,13.4ZM473.2,6.4L477.2,4.1L480.2,3.4L479.9,7.6L476.2,11.2L473.6,10.4ZM481.8,5.0L491.4,2.8L489.6,7.4L484.9,12.6L482.3,11.9L481.7,8.5ZM480.0,27.3L484.2,23.4L488.8,20.8L492.4,19.2L492.3,22.9L488.5,28.2L484.8,32.7L481.5,35.6L479.8,34.6L479.0,31.9ZM488.3,22.5L494.8,19.8L499.7,18.2L503.3,15.4L505.6,11.7L508.1,10.5L509.7,12.1L507.7,18.4L504.4,23.1L499.4,25.4L494.4,27.8L491.6,27.1L488.8,26.4ZM506.9,22.9L510.1,19.8L512.3,21.2L512.5,25.6L510.3,30.2L507.7,33.2L506.2,30.8ZM479.9,38.1L486.2,37.4L490.7,38.4L493.3,40.6L490.5,42.9L486.0,44.0L480.5,44.2L478.8,41.5ZM492.6,33.8L495.4,32.0L497.1,34.7L496.0,38.3L493.7,39.2ZM517.1,16.6L519.3,15.4L520.6,18.1L521.2,22.4L518.8,20.3ZM478.2,17.0L482.0,15.5L482.1,18.2L479.0,19.6ZM473.0,42.8L477.0,40.5L477.8,43.1L473.8,45.3ZM520.6,17.4L522.5,14.8L526.0,11.0L529.5,7.6L530.3,8.9L527.0,12.5L523.7,16.6L521.2,19.4L520.1,19.7ZM532.5,22.0L536.2,20.4L537.6,22.0L534.8,23.5L532.2,23.5ZM538.4,17.0L540.6,16.1L541.2,18.8L539.5,20.3ZM550.9,15.6L556.4,14.2L560.9,14.6L562.5,16.2L558.8,18.1L554.2,18.9L551.6,17.9ZM564.0,17.2L568.0,16.0L571.6,17.7L575.3,19.4L579.8,21.2L583.6,23.5L581.5,25.6L578.2,25.7L573.7,23.9L569.0,21.5L565.4,19.8ZM570.7,12.6L574.4,11.7L575.2,14.3L571.9,16.5L570.0,15.5ZM571.8,9.3L575.5,8.1L580.0,8.7L583.6,8.1L585.4,9.8L582.7,11.5L578.2,11.0L573.7,11.0ZM584.4,13.6L587.8,10.7L590.4,11.5L588.8,15.3L585.7,16.7ZM553.8,28.7L561.0,28.0L568.2,28.5L572.8,26.8L576.4,27.3L577.3,29.6L573.6,31.9L568.2,32.5L562.8,31.4L557.4,30.3ZM585.2,18.3L588.3,18.3L590.4,20.5L588.3,21.4ZM588.7,28.5L591.5,26.7L593.8,27.6L594.3,31.3L592.6,34.0L590.4,34.9L588.7,33.1ZM593.0,1.8L594.7,1.9L596.2,7.4L597.2,14.6L598.2,21.9L597.6,25.4L596.4,19.9L594.8,12.6ZM596.0,25.2L598.9,23.3L600.5,26.8L599.7,34.0L597.3,37.8L595.7,34.2ZM597.5,35.2L599.8,34.6L602.0,39.3L602.8,44.7L600.9,45.9L598.8,42.3ZM540.3,43.1L547.5,42.6L553.0,43.8L553.9,44.8L540.3,44.6ZM565.4,42.0L568.7,39.8L569.5,42.4L567.5,44.8L564.6,45.5ZM521.2,31.7L522.3,30.8L523.0,33.5L521.9,35.3ZM576.6,4.2L579.3,4.1L578.7,5.3L576.9,5.3ZM603.9,3.0L610.3,3.0L610.8,7.6L608.5,11.3L606.2,12.2L603.9,10.4ZM607.2,11.7L610.8,11.8L615.4,16.5L617.9,21.3L615.8,21.5L611.4,17.7L608.6,14.9ZM602.8,17.9L604.6,19.0L606.2,23.7L608.4,29.4L609.4,34.9L607.9,38.3L605.9,34.4L603.8,30.6ZM603.4,35.4L605.7,36.3L606.2,40.9L604.5,43.7L603.3,42.8ZM620.4,4.5L625.7,3.3L624.8,7.1L621.3,10.0L619.8,7.5ZM629.7,5.6L631.9,4.9L632.8,9.5L631.8,12.1L629.9,9.2ZM628.1,11.2L630.4,10.6L632.0,15.3L631.9,19.7L629.9,17.6ZM636.7,14.4L639.6,13.4L641.9,17.1L640.7,20.8L638.4,21.7L637.1,18.1ZM635.9,2.9L640.4,3.9L643.7,6.2L645.5,10.9L643.8,12.6L640.3,9.6L637.5,6.9ZM627.8,23.8L630.7,22.9L632.4,25.7L631.9,31.2L629.6,33.0L627.9,29.3ZM636.6,26.8L639.5,25.0L641.2,28.7L640.4,34.2L637.8,35.1L636.3,31.4ZM615.5,24.7L617.4,25.9L617.7,29.5L616.2,28.9ZM614.4,38.1L617.6,36.7L617.5,40.2L614.9,42.3L613.0,41.3ZM634.3,37.7L639.1,35.2L639.8,38.5L636.8,42.1L633.3,42.2ZM658.5,39.9L664.0,38.0L665.3,40.2L661.5,42.5L658.1,42.4ZM669.9,39.1L677.3,37.9L678.9,40.3L673.3,42.0L669.7,41.4ZM682.0,4.4L685.5,3.6L684.6,7.4L681.9,8.0ZM681.2,19.3L683.4,17.7L684.6,21.5L685.0,28.8L682.8,26.8ZM661.1,4.2L666.7,4.3L666.7,6.0L662.1,5.9ZM680.0,39.9L685.9,37.9L684.3,44.4L679.4,45.6ZM620.9,33.8L624.0,32.4L624.1,35.2L620.9,36.6ZM362.5,45.3L370.2,45.5L371.3,47.9L367.4,49.0L363.6,48.3ZM379.3,45.5L384.0,44.4L382.5,47.7L379.9,49.0ZM387.0,44.1L392.5,44.1L392.5,49.9L390.0,51.8L387.6,49.9ZM408.1,45.3L419.8,45.5L425.6,47.9L431.4,49.2L436.3,48.1L439.1,45.7L442.6,45.7L442.7,48.8L437.3,51.1L429.6,51.6L421.8,50.3L414.0,49.0L409.1,47.1ZM358.1,52.5L362.1,51.9L367.1,55.6L371.0,58.4L373.2,60.9L370.1,61.6L366.3,59.5L361.5,56.6ZM371.5,53.2L377.3,51.4L382.0,51.6L385.9,50.0L387.5,51.7L382.5,54.7L376.6,56.5L372.0,56.3ZM393.8,51.4L400.5,51.2L405.4,52.7L409.3,53.5L408.5,55.3L402.8,55.2L396.9,54.0ZM372.7,58.1L377.8,60.6L382.3,63.7L387.0,67.5L388.7,71.4L385.7,71.4L381.2,68.3L375.4,62.9ZM387.0,56.0L391.4,56.1L394.5,58.4L398.3,59.6L399.6,61.8L395.2,61.8L390.3,59.8ZM356.4,64.3L358.3,63.9L361.7,68.8L363.9,74.2L362.2,75.5L359.0,71.5L357.3,69.5ZM400.6,64.6L403.2,63.7L405.9,66.6L408.1,70.1L406.3,71.2L403.0,68.9ZM415.5,60.1L418.8,58.6L420.6,60.4L418.9,64.5L415.6,66.0L414.8,63.2ZM422.2,64.6L425.4,63.1L427.2,64.9L425.5,68.9L422.3,70.3L421.4,67.6ZM426.2,58.9L430.1,60.6L431.6,64.0L428.8,64.1ZM429.4,69.1L435.1,67.5L440.3,66.4L439.9,70.1L435.5,71.6L430.0,71.5ZM391.4,68.2L394.4,66.3L396.1,69.1L394.9,72.9L392.6,71.9ZM384.7,72.9L388.6,73.0L393.1,76.0L397.9,79.8L401.2,83.9L398.3,84.6L393.7,81.6L388.1,77.7ZM403.2,74.7L408.3,74.2L413.8,76.3L419.5,79.1L423.7,82.8L420.6,84.2L414.1,82.0L407.6,79.2ZM401.2,77.4L403.6,76.9L405.4,81.6L403.1,83.0ZM357.2,80.3L361.7,80.1L366.5,81.8L368.8,85.0L365.2,85.7L359.7,85.2L356.6,82.6ZM370.3,78.8L372.7,78.4L374.5,83.1L372.2,84.5ZM424.8,80.8L428.0,79.3L428.8,82.0L425.5,83.8ZM434.0,81.2L437.0,80.3L438.5,83.1L438.5,86.7L434.6,86.7ZM379.3,80.7L382.6,79.2L382.4,82.8L379.2,84.3ZM410.1,60.7L411.9,59.9L412.7,63.8L410.9,64.6ZM439.0,51.0L442.0,50.7L444.7,53.8L446.5,58.3L445.9,62.4L442.7,60.9L440.1,58.7ZM447.3,50.5L452.7,49.8L454.4,51.4L450.8,52.7L447.2,52.2ZM478.7,47.4L481.8,46.0L484.3,44.5L490.1,45.9L492.3,49.2L490.9,52.3L493.3,56.3L496.0,59.1L495.3,62.4L491.3,60.1L487.5,55.7L483.0,54.0L480.3,51.2ZM494.4,52.0L497.5,51.9L499.6,54.2L497.4,55.0ZM451.9,64.3L458.2,64.0L462.0,65.9L461.3,68.2L455.8,68.0L452.1,66.6ZM445.4,68.3L447.7,66.5L448.8,70.2L447.1,72.0ZM464.5,60.6L469.3,60.8L474.0,64.1L472.9,66.4L467.8,64.9ZM475.4,59.5L479.3,57.9L480.0,60.5L477.3,63.3L475.2,62.4ZM464.0,69.2L469.3,69.0L475.8,70.7L478.7,73.2L475.3,74.1L468.9,73.0L465.2,71.6ZM440.2,75.0L443.6,73.2L447.0,75.0L449.3,79.6L447.0,84.2L443.0,85.1L440.2,83.2ZM452.6,80.9L457.3,79.1L458.1,81.7L454.6,84.6L451.8,84.6ZM464.5,80.1L470.9,79.5L475.5,81.2L473.6,84.1L467.2,84.7L464.5,83.0ZM478.3,78.6L482.4,76.2L483.0,79.6L479.5,82.5L477.6,81.5ZM490.1,77.1L494.2,74.8L494.8,78.1L491.9,81.6L489.3,80.8ZM498.2,67.8L502.3,65.4L504.9,66.2L503.3,70.1L499.8,73.0L497.2,72.2ZM501.2,74.9L505.1,73.3L505.9,75.9L502.9,79.4L500.3,78.6ZM502.5,58.9L506.5,56.6L508.2,58.3L506.1,61.6L503.1,62.3ZM508.5,48.7L513.3,46.2L515.7,47.7L513.4,51.8L509.5,53.3L507.8,51.6ZM512.8,56.0L516.8,53.7L518.5,55.4L516.3,58.7L513.4,59.3ZM514.3,66.4L519.1,63.9L521.5,64.8L520.4,69.2L516.8,70.8L513.9,69.3ZM511.4,77.8L514.7,75.7L516.2,78.1L513.3,81.6L510.5,81.5ZM495.2,82.5L500.0,80.0L501.5,82.4L498.7,85.8L494.9,86.6ZM457.7,71.0L460.7,71.0L463.0,74.1L459.9,74.1ZM439.4,65.3L441.7,64.4L442.3,68.0L440.0,69.0ZM462.0,45.3L467.4,45.3L466.5,46.9L462.9,46.9ZM540.0,44.4L548.8,45.2L554.4,47.4L559.8,48.5L565.2,49.6L568.9,51.7L567.4,53.3L562.0,52.2L556.6,50.5L549.3,48.7L543.0,47.0ZM535.7,50.0L538.6,49.0L540.8,51.7L540.1,57.1L538.4,60.8L536.1,60.0L535.6,55.5ZM542.2,53.7L546.5,52.9L550.3,55.0L548.8,57.2L544.3,56.2ZM551.4,52.6L553.7,51.9L554.5,56.4L552.9,58.0ZM521.8,62.8L525.0,61.3L527.7,62.1L530.4,62.9L528.9,66.1L524.8,68.5L522.0,71.3L519.9,71.1ZM536.8,64.7L540.8,63.1L542.5,64.9L540.3,68.2L536.5,69.1ZM551.5,59.0L555.3,59.1L557.6,62.1L561.1,64.1L563.2,66.4L560.1,66.4L555.8,64.3L552.9,61.8ZM567.8,55.2L571.6,53.6L572.4,56.2L570.3,59.5L567.5,59.4ZM582.3,63.2L586.2,61.7L587.1,63.5L585.1,66.1L582.4,66.0ZM590.1,51.1L595.5,50.1L600.9,49.7L604.2,50.3L604.3,54.8L601.1,55.9L597.4,54.7L593.8,54.0L591.1,52.8ZM599.2,58.3L601.5,57.8L602.6,59.7L603.0,64.1L600.9,63.8ZM589.3,64.7L592.8,63.8L594.5,67.5L594.0,72.2L591.6,74.0L589.9,70.3ZM558.3,77.8L563.3,75.3L568.2,73.5L570.8,75.0L568.2,79.8L564.3,83.4L560.7,86.1L556.0,87.2L555.5,83.3ZM527.4,76.6L532.1,74.7L533.7,77.2L530.5,81.6L526.8,82.4ZM521.7,78.6L524.9,77.1L524.9,81.5L522.1,84.6L521.0,83.9ZM537.1,71.9L541.5,71.8L543.6,73.9L541.2,74.8ZM573.7,66.4L576.4,66.2L578.4,69.8L576.7,70.9ZM590.3,75.0L594.3,73.4L595.1,76.1L591.7,78.3ZM580.0,76.5L584.0,74.8L584.8,77.5L581.4,79.7ZM569.6,70.3L572.1,69.0L572.3,71.1L569.9,72.4ZM531.5,68.9L534.7,67.5L534.8,70.3L531.6,71.8ZM601.7,48.3L604.7,48.3L608.3,51.1L611.3,54.5L614.1,57.2L613.1,59.0L609.8,57.6L606.2,54.8L602.8,52.7ZM602.1,45.3L609.4,45.4L611.3,47.2L607.7,48.3L602.1,47.6ZM613.1,49.3L617.5,49.1L621.3,51.3L619.8,52.9L615.3,52.5ZM623.0,46.7L628.5,46.4L635.0,47.9L636.0,50.2L631.6,51.7L626.0,50.9L623.2,49.1ZM602.3,58.8L605.4,61.1L608.1,64.8L607.9,67.0L605.0,65.6L603.3,63.6ZM637.7,57.0L642.1,54.9L644.7,53.7L648.4,51.0L651.9,49.7L653.8,51.3L654.7,54.4L651.7,56.9L648.3,58.2L644.7,60.2L641.5,64.1L639.4,63.2L637.7,60.3ZM642.5,66.2L646.4,64.6L648.8,66.2L646.5,70.2L643.4,71.6L641.7,69.9ZM656.7,43.9L660.2,44.7L662.9,48.4L665.1,52.8L662.7,53.7L659.6,51.5L657.3,47.1ZM651.4,68.6L655.3,67.3L660.0,69.7L664.6,71.5L668.8,71.5L672.6,73.8L672.3,76.8L669.3,78.7L666.2,80.1L661.7,78.9L657.8,76.0L653.9,73.1ZM664.6,59.0L667.2,58.9L669.2,62.4L667.5,63.5ZM675.7,62.2L678.6,61.2L680.3,64.0L679.1,67.7L676.8,67.7ZM676.8,72.6L679.6,72.2L682.3,75.2L682.2,80.4L680.0,81.8L677.9,78.0ZM682.0,47.4L684.6,46.5L684.7,53.0L682.6,52.9ZM625.3,67.6L627.0,66.9L628.3,71.5L628.0,76.9L626.6,75.9ZM629.0,78.4L630.6,77.6L631.4,82.2L629.7,82.9ZM615.0,66.7L616.7,65.9L617.4,69.6L615.8,70.4ZM667.9,49.8L671.1,48.4L671.1,51.2L667.9,52.6ZM603.3,74.0L604.9,73.3L605.7,76.9L604.0,77.7ZM637.0,74.0L638.7,73.3L639.5,76.9L637.8,77.7ZM678.7,83.4L683.2,82.9L685.6,84.1L685.6,85.6L678.7,85.6ZM357.5,86.2L361.8,85.2L359.5,89.6L356.5,91.1ZM389.0,88.4L392.2,88.2L394.8,92.1L396.2,96.6L394.5,97.9L391.4,94.7ZM387.3,95.2L389.1,94.4L389.9,98.2L388.1,98.9ZM416.6,88.6L418.9,86.8L421.3,85.8L423.0,88.6L421.9,92.4L419.5,94.3L417.2,93.4ZM419.4,93.1L424.6,93.2L430.1,95.3L433.9,97.1L438.0,100.2L437.6,102.7L433.1,101.4L427.5,99.3L422.8,97.4ZM423.6,102.2L426.4,102.1L430.6,105.3L434.2,109.2L434.3,113.0L431.7,113.9L428.3,110.8L425.2,106.3ZM433.4,111.4L436.5,111.1L438.3,113.2L439.4,121.2L436.9,119.0L434.5,115.1ZM415.0,104.2L417.4,103.7L419.7,107.7L419.5,111.2L417.1,111.6L415.4,107.8ZM378.6,111.6L382.9,110.1L386.7,107.3L390.4,105.3L392.4,106.9L390.5,111.2L387.4,114.5L382.9,116.7L378.9,116.9L377.9,114.4ZM369.8,112.1L373.0,110.6L373.9,113.3L371.2,115.4L369.1,115.2ZM362.7,104.4L365.3,104.3L367.4,107.9L365.6,109.0ZM390.3,116.6L393.0,116.5L396.7,120.4L396.6,123.5L393.5,122.0ZM399.9,119.6L403.2,118.1L404.8,120.6L401.9,123.4L400.0,122.4ZM383.4,118.4L385.2,117.9L387.2,122.6L385.4,123.1ZM408.7,99.7L410.5,98.7L411.1,102.5L409.3,102.9ZM403.6,109.7L406.6,109.6L408.8,112.9L406.7,113.2ZM357.4,117.9L359.8,116.9L360.3,121.6L357.9,123.5ZM422.1,116.5L424.5,115.6L425.6,119.3L423.3,121.2ZM366.2,119.5L368.5,118.5L369.1,122.3L366.8,123.3ZM374.1,86.2L378.8,86.2L377.9,88.0L375.1,88.0ZM440.4,87.1L456.8,86.5L458.5,88.8L454.8,90.6L449.2,91.4L443.7,92.1L440.1,91.1ZM439.5,94.2L441.8,93.2L442.8,97.7L441.0,101.5L439.3,100.6ZM440.2,103.8L443.6,102.7L446.5,105.4L446.9,110.9L445.7,116.4L443.3,119.2L439.9,119.3ZM456.1,106.2L458.4,105.5L461.0,110.3L460.7,115.7L457.9,116.3L455.9,112.5ZM462.9,84.7L467.4,85.8L470.9,88.7L474.8,93.0L474.0,95.6L469.9,93.3L466.2,89.6ZM464.3,95.9L467.6,95.9L470.2,98.8L472.3,103.1L470.6,104.2L467.5,101.9ZM461.1,98.7L462.9,98.2L464.6,101.9L463.0,103.3ZM481.8,98.4L484.1,98.0L486.3,100.9L486.1,104.3L483.8,104.8ZM488.4,99.9L491.9,98.9L494.7,101.7L494.2,107.2L491.9,109.9L489.6,107.2ZM476.6,114.4L480.8,112.1L485.0,109.9L487.7,110.6L486.1,114.4L482.5,117.2L478.9,120.1L476.0,120.0ZM473.3,122.1L478.0,120.3L480.4,121.9L477.9,126.5L472.7,127.7ZM486.5,120.2L490.7,117.1L494.2,117.0L495.8,119.4L493.4,123.5L489.4,125.8L486.0,125.2ZM495.3,108.6L500.0,106.9L500.6,110.2L497.1,113.2L494.5,112.4ZM485.8,84.9L493.9,86.5L497.8,89.8L500.2,93.5L498.3,95.1L494.1,93.6L489.4,90.1ZM501.3,83.8L504.7,83.9L507.1,87.7L507.9,95.0L507.5,102.3L505.3,105.9L503.0,103.9L502.2,97.5L501.5,91.1ZM508.9,102.7L512.3,101.8L514.6,105.5L514.0,111.0L511.1,112.8L508.9,110.1ZM514.1,84.6L517.7,85.0L520.0,87.1L520.7,96.1L518.8,98.5L516.8,94.7L514.6,89.9ZM515.7,98.2L518.6,97.6L520.3,100.5L520.9,107.7L518.8,108.3L516.7,103.6ZM504.4,111.6L507.3,110.6L508.9,114.1L507.5,120.6L505.1,122.5L503.6,118.1ZM513.5,114.5L516.9,113.6L520.1,114.5L520.1,123.7L516.9,125.5L514.0,121.8ZM498.3,120.2L501.4,118.7L502.1,122.1L498.6,125.0L496.7,124.0ZM445.4,121.8L449.3,120.2L450.8,122.7L447.1,126.3L444.3,126.3ZM458.4,121.8L461.5,120.3L462.3,123.0L459.0,125.1ZM474.5,102.6L477.7,101.2L477.7,104.0L474.6,105.4ZM469.4,107.7L472.5,106.3L472.6,109.1L469.4,110.5ZM508.4,124.0L513.0,122.2L512.8,126.4L507.6,127.6ZM521.3,85.4L523.7,85.4L524.2,89.1L522.5,91.0L521.3,90.1ZM530.9,90.7L533.9,89.5L536.1,91.1L536.5,95.7L534.4,101.4L532.3,107.1L530.6,105.4L530.4,99.9ZM521.4,95.3L523.1,94.4L524.3,99.1L523.7,104.7L521.4,105.6ZM523.4,103.7L526.7,103.7L530.1,107.7L532.4,112.1L530.8,114.0L526.8,110.7ZM520.5,112.7L523.8,112.6L527.2,116.6L528.7,120.9L526.3,121.9L523.0,118.7ZM521.5,120.6L523.8,119.6L524.9,124.2L523.7,127.8L521.4,127.8ZM543.2,86.1L550.6,86.5L554.4,87.9L553.7,90.2L548.1,89.9L544.3,88.5ZM556.3,86.3L567.5,86.5L568.5,88.9L563.9,90.0L558.3,89.3ZM555.1,93.3L557.4,92.5L558.5,97.2L557.7,100.8L556.0,99.8ZM564.0,108.2L569.6,107.2L574.2,107.9L578.8,106.3L582.5,104.6L586.2,104.1L590.8,105.4L595.6,107.8L599.4,110.3L601.4,113.2L597.8,115.5L594.1,115.9L590.3,114.7L586.6,115.8L583.0,117.4L579.2,116.7L576.3,114.3L571.7,113.1L567.9,112.4L565.1,111.1ZM595.4,92.7L598.3,90.8L600.7,91.7L602.2,93.6L602.2,101.0L600.1,102.0L597.8,99.2L596.0,96.4ZM591.0,87.0L594.2,87.0L596.3,89.3L594.1,90.2ZM542.1,117.8L547.0,115.2L550.4,115.9L550.5,118.7L546.6,123.2L542.6,124.8L541.1,122.3ZM534.5,118.4L536.8,117.6L538.2,122.3L536.5,125.0L534.7,123.0ZM573.0,120.8L576.5,119.8L577.6,123.6L575.3,126.4L573.0,124.9ZM583.2,121.5L586.1,120.6L587.2,124.3L584.9,127.1L583.2,125.3ZM596.4,119.2L601.1,117.4L603.4,118.3L602.6,122.0L598.9,123.6L596.2,122.8ZM588.7,86.2L591.0,85.7L589.9,87.4L588.7,87.7ZM538.8,86.3L541.9,85.6L540.6,88.0L538.7,88.0ZM563.8,118.7L565.6,117.9L566.3,121.7L564.6,122.4ZM600.0,94.6L604.6,95.5L610.2,98.3L614.8,99.8L620.3,100.9L625.7,101.9L627.7,103.8L624.4,105.2L619.1,105.4L613.8,105.5L608.3,104.5L603.7,103.0L600.9,101.6ZM603.4,104.1L605.7,105.0L606.9,109.6L605.8,113.2L603.5,114.1ZM604.9,88.3L609.5,86.5L611.2,88.2L609.0,91.5L605.3,92.4ZM615.4,89.6L619.2,87.4L622.8,86.4L626.1,87.2L624.8,90.3L620.2,92.0L615.9,91.9ZM632.8,88.2L636.7,86.6L638.4,88.3L636.2,91.6L633.4,91.5ZM653.7,89.0L659.1,88.0L664.5,88.8L668.1,87.8L673.6,89.1L675.6,92.0L672.0,94.1L666.6,94.5L661.1,93.2L656.5,92.0ZM675.6,86.5L680.0,85.4L679.0,89.9L675.7,92.0L674.9,89.4ZM660.7,97.7L665.0,97.5L669.6,99.2L671.8,101.8L668.4,102.6L663.9,101.5L661.0,99.5ZM636.9,103.9L641.0,103.2L645.5,104.4L649.3,106.6L651.4,109.3L649.1,110.2L644.6,109.0L640.9,107.4L638.0,105.8ZM640.0,110.1L642.3,109.5L644.2,113.2L643.9,117.7L641.7,118.4L640.3,114.6ZM637.1,117.0L639.3,116.2L640.0,121.7L638.4,123.4L636.9,120.6ZM644.5,117.8L649.8,117.6L654.5,119.7L654.0,122.5L648.7,122.7L644.9,120.7ZM629.7,98.8L632.8,98.8L634.9,101.1L632.8,101.9ZM643.0,92.5L647.0,90.1L647.8,92.7L645.1,95.5L643.0,95.2ZM652.1,93.8L655.0,92.9L656.1,96.5L653.8,98.3ZM679.3,100.1L681.9,99.9L683.9,103.4L682.2,104.5ZM611.5,120.3L615.3,118.7L616.1,121.3L612.7,124.2L610.8,123.3ZM665.3,109.2L668.1,108.3L668.7,112.0L666.4,112.9ZM676.0,123.4L681.5,122.4L683.9,124.6L679.3,126.5L675.7,126.2ZM619.6,121.0L621.9,120.1L622.4,123.7L620.2,124.6ZM603.4,119.4L605.7,119.1L606.3,123.1L604.0,124.0ZM361.7,127.3L364.6,126.7L363.2,129.7L361.2,129.5ZM363.6,135.7L367.0,135.9L370.3,138.7L373.3,142.7L372.5,145.3L369.7,144.6L366.4,141.8L364.0,138.5ZM376.4,137.6L378.1,136.7L378.6,141.1L377.5,143.7L376.2,142.0ZM381.3,139.0L383.6,138.5L386.2,141.4L388.0,146.7L388.0,151.7L386.3,152.2L384.2,148.6L382.5,144.1ZM369.9,149.6L373.6,149.1L377.8,151.1L381.4,153.6L383.6,156.4L381.7,157.9L377.4,155.9L373.0,153.3ZM377.6,157.6L380.6,157.4L383.4,160.4L384.7,164.6L382.7,166.5L379.9,164.3ZM386.6,160.1L388.8,159.7L391.0,163.4L390.3,166.5L387.8,165.3ZM362.5,159.6L364.7,158.8L366.0,163.3L364.4,165.8L362.7,163.9ZM357.4,144.4L359.0,143.5L359.6,147.0L357.9,148.8ZM411.2,127.5L414.1,126.8L414.8,129.4L412.2,132.0L410.4,131.1ZM413.4,129.7L417.9,128.6L422.2,129.0L426.6,128.4L431.9,127.8L433.6,130.5L430.0,132.7L424.7,133.4L419.5,133.5L415.1,132.5ZM419.6,154.3L422.4,152.2L425.2,150.0L427.6,146.4L428.6,147.7L427.0,153.4L424.9,158.5L422.6,161.3L419.6,161.2L418.9,158.3ZM429.5,153.2L431.2,151.4L432.2,154.8L431.0,158.4L429.3,157.6ZM391.0,139.9L392.6,139.3L393.5,142.8L391.9,143.1ZM399.2,159.8L400.8,159.0L401.5,162.6L399.9,163.3ZM412.6,138.3L415.4,138.3L417.5,141.3L415.5,141.5ZM416.8,143.6L418.4,142.9L419.2,146.4L417.5,147.1ZM421.9,140.7L424.9,139.3L425.1,141.3L422.5,142.6ZM436.7,153.0L438.7,152.2L438.8,158.3L437.3,158.3ZM392.5,147.2L394.1,146.6L395.0,150.1L393.3,150.4ZM433.0,140.7L436.0,139.3L436.0,142.0L433.1,143.1ZM419.6,164.3L424.9,163.7L427.5,165.8L424.8,167.4L419.5,167.5ZM405.8,163.5L408.8,162.1L408.8,164.8L406.4,165.6ZM357.3,132.6L358.9,131.8L359.6,135.4L358.0,136.1ZM439.3,129.4L441.8,128.5L443.0,132.3L441.2,134.3L439.3,133.3ZM448.1,127.4L452.8,126.3L451.3,129.7L447.9,131.2ZM455.3,131.9L458.7,130.4L459.5,133.1L456.0,135.4ZM447.5,138.0L450.3,137.9L452.4,141.6L450.6,142.7ZM439.4,148.2L443.5,146.5L446.1,148.1L444.6,151.5L441.2,153.0L438.4,152.1ZM439.4,157.0L443.5,155.3L446.1,156.9L444.6,160.2L440.4,161.9L438.5,160.9ZM447.4,157.0L451.5,155.3L454.3,156.2L452.8,159.5L449.1,162.6L446.3,161.7ZM453.0,160.3L458.7,159.2L463.6,157.6L468.5,156.6L472.1,157.5L470.8,160.7L465.8,163.0L460.0,164.0L454.4,163.9ZM465.2,139.3L468.3,137.3L469.4,141.2L468.8,147.0L466.9,149.0L465.2,145.1ZM474.0,135.1L476.7,134.9L478.9,138.6L477.0,139.8ZM486.5,127.4L489.5,126.6L491.4,129.5L490.9,134.3L489.1,137.2L487.2,134.2ZM483.2,138.2L485.0,137.4L485.9,142.2L484.1,143.1ZM487.6,145.1L490.9,143.6L492.0,145.6L489.0,148.5ZM491.1,150.4L493.5,148.4L495.3,151.3L495.7,158.0L494.4,163.8L491.9,165.9L490.2,162.1ZM500.6,138.5L504.5,137.0L508.1,138.3L509.0,141.9L506.6,146.9L503.7,151.0L501.5,154.1L499.8,152.6L500.6,145.0ZM505.2,155.0L508.4,152.8L510.6,155.4L509.6,161.2L507.0,164.4L504.7,162.7ZM510.0,125.9L513.6,125.9L514.2,130.8L512.4,135.6L510.6,133.7ZM513.9,135.0L516.4,134.7L518.3,138.6L516.7,140.9ZM515.9,161.5L519.0,160.6L520.5,162.5L520.5,169.1L515.9,169.1ZM481.5,156.3L484.0,156.0L486.1,160.7L484.4,162.1ZM475.2,161.9L478.5,160.4L478.4,164.1L475.2,165.3ZM494.3,127.3L497.4,126.5L496.1,129.1L494.3,129.1ZM460.2,166.1L466.0,165.5L468.0,167.8L460.2,167.8ZM521.5,127.4L525.5,126.5L527.1,129.1L524.8,132.6L521.8,132.6L520.6,131.4ZM545.5,136.8L549.3,134.2L553.1,131.7L556.2,129.3L558.7,130.4L557.7,135.6L554.7,141.3L551.2,145.5L548.0,148.7L545.3,148.5L544.9,143.6ZM560.6,128.3L562.9,126.7L564.6,131.6L566.4,138.4L565.5,142.1L563.5,139.9L561.7,134.1ZM569.9,126.2L574.8,127.2L578.0,130.8L577.1,133.4L573.6,132.0L571.4,129.3ZM579.1,138.5L582.9,135.5L586.0,131.8L589.5,129.5L591.3,131.3L588.6,136.4L584.7,140.2L580.6,141.9L578.6,140.9ZM591.8,133.1L594.2,132.3L595.5,137.1L595.1,142.9L593.3,143.8L591.9,138.9ZM539.8,137.4L542.2,136.7L543.2,141.5L544.2,147.3L545.2,153.1L546.8,158.1L545.1,160.7L543.0,156.7L541.4,150.8L540.4,145.0ZM527.3,146.5L529.7,144.5L531.5,148.4L530.9,155.2L529.1,158.1L527.3,154.2ZM531.5,140.4L533.9,139.7L534.8,143.6L533.1,145.3ZM563.0,143.4L565.5,142.4L569.0,145.7L571.3,150.2L569.6,152.2L566.5,150.7L563.8,147.6ZM553.6,150.5L556.0,149.7L557.9,152.7L558.2,159.4L557.1,164.2L555.2,162.1L554.0,156.3ZM547.9,158.7L550.4,156.7L552.1,159.6L551.5,164.4L549.6,166.4L547.9,163.5ZM561.1,161.0L563.5,159.0L564.7,162.8L563.4,167.7L561.6,166.8ZM562.0,151.5L567.4,151.5L572.3,153.4L573.7,156.1L570.2,156.9L565.4,155.7ZM537.5,162.6L540.8,161.1L541.6,163.9L538.7,166.8L536.7,165.8ZM521.2,141.1L523.0,140.2L523.7,145.1L521.9,147.0ZM594.9,162.7L599.0,161.0L599.8,163.8L596.7,167.5L593.8,167.4ZM571.8,141.2L575.1,141.2L577.4,144.4L574.2,144.4ZM604.8,129.1L607.3,128.1L609.2,131.1L608.6,136.1L606.1,136.1L604.8,133.1ZM612.9,135.4L615.7,133.9L618.6,131.5L621.4,130.1L623.0,132.6L620.4,137.8L617.3,142.2L615.9,148.1L614.1,152.3L612.5,149.7L612.6,143.0ZM615.2,149.4L617.8,147.3L619.6,150.2L618.8,157.3L616.8,160.4L615.0,157.5ZM623.5,141.2L625.9,139.5L628.1,143.7L629.9,149.8L629.6,154.7L627.2,156.4L624.9,152.2L623.8,146.1ZM631.2,131.9L633.7,130.9L635.0,136.0L633.1,140.0L631.2,138.0ZM638.4,128.4L640.9,127.7L641.8,132.8L640.1,134.6ZM635.7,143.7L640.8,142.8L644.9,142.0L649.9,141.1L653.9,141.5L653.7,144.1L648.6,145.0L642.6,145.9L637.5,146.1ZM644.3,132.7L646.8,131.8L648.3,135.9L647.2,139.9L645.2,138.7ZM656.1,134.6L659.3,133.8L660.7,138.9L659.6,143.8L657.0,142.7ZM661.6,141.9L664.2,139.7L666.0,142.6L665.1,149.7L663.0,154.9L661.1,153.0ZM664.6,130.1L667.8,129.7L670.3,134.0L669.6,138.6L666.8,137.1ZM671.5,125.6L675.8,126.5L677.9,130.6L677.1,133.9L674.1,132.4ZM670.8,137.3L673.3,136.4L676.0,139.6L675.5,145.6L673.8,149.5L671.7,145.4ZM679.3,131.5L682.5,131.0L684.4,133.2L685.3,142.1L682.9,140.7L680.5,136.5ZM676.8,147.9L679.9,146.0L682.5,149.1L682.1,156.2L679.6,158.1L677.0,153.9ZM647.5,151.2L650.0,150.2L652.5,152.2L651.9,157.3L649.4,158.3L647.5,155.2ZM654.0,149.7L656.9,149.5L659.1,153.4L657.2,154.6ZM626.4,161.5L631.6,159.8L636.6,158.7L640.4,159.7L639.0,163.0L633.9,164.7L628.9,165.1L626.1,164.1ZM640.0,162.6L643.5,161.0L644.3,163.9L641.3,166.9L639.2,166.2ZM606.6,160.1L610.0,158.6L611.7,161.2L610.4,167.2L607.0,169.5L605.3,167.1ZM617.3,161.5L620.5,159.4L622.4,162.5L621.8,167.5L618.6,169.3L617.3,166.5ZM662.3,160.0L666.1,158.0L668.6,160.0L668.0,166.0L664.8,168.1L662.3,166.0ZM672.3,161.4L677.4,159.4L679.1,162.1L675.9,166.0L671.8,166.9ZM681.2,159.7L684.7,158.8L684.8,167.9L681.9,167.8ZM653.0,162.6L656.5,161.0L656.6,164.1L653.1,165.7ZM370.7,167.6L373.5,167.6L374.0,171.1L371.8,172.9L370.7,170.3ZM382.4,168.5L386.0,167.6L384.5,171.4L382.3,171.9ZM359.0,179.2L362.7,179.3L367.1,182.0L370.0,185.1L369.1,187.4L365.8,186.1L362.3,183.5L359.5,181.1ZM357.0,186.9L359.4,188.1L361.5,192.0L362.5,198.5L361.0,201.0L358.5,198.9L357.5,194.3ZM370.5,184.6L373.1,184.3L375.6,187.3L377.7,191.8L376.1,193.9L373.1,191.6L371.2,187.9ZM377.7,192.1L380.0,191.6L382.3,195.5L381.5,199.8L378.9,197.6ZM383.3,183.7L387.2,181.4L389.7,182.2L390.5,184.7L387.9,187.3L385.0,188.0L383.4,186.3ZM391.7,193.7L394.3,193.5L397.2,195.0L399.7,198.0L401.2,202.3L400.5,205.3L397.9,205.5L394.5,201.5L392.4,197.1ZM404.7,189.1L407.1,188.0L408.1,191.5L406.4,198.1L404.5,201.0L403.2,197.5ZM405.0,179.2L407.2,178.8L408.9,182.4L407.5,184.5ZM411.3,167.4L414.5,168.1L415.8,171.4L414.2,172.5ZM419.0,186.5L421.3,185.8L422.2,190.5L420.5,192.2ZM423.2,166.8L426.7,167.5L429.5,171.3L429.6,176.2L428.2,178.4L426.1,175.5L424.3,171.1ZM422.9,196.7L425.6,196.6L427.7,200.1L425.9,201.3ZM435.1,184.3L437.4,183.8L438.6,186.5L439.0,189.9L436.9,189.5ZM410.4,188.0L413.3,187.1L414.5,191.7L412.7,194.5L410.6,192.6ZM364.2,199.7L366.8,199.5L368.9,203.1L367.1,204.2ZM374.1,201.5L377.3,200.0L377.4,202.9L374.2,204.3ZM386.6,200.7L388.3,199.9L389.1,203.7L387.4,204.4ZM379.3,173.6L381.0,172.8L381.7,176.4L380.1,177.1ZM361.7,173.6L363.3,172.8L364.1,176.4L362.4,177.1ZM433.2,200.8L436.5,200.7L438.7,203.6L439.4,207.8L436.3,207.1ZM399.8,180.9L401.5,180.3L402.3,183.8L400.7,184.1ZM447.0,163.3L449.4,163.2L450.5,167.0L449.7,174.8L449.0,182.5L449.4,190.2L448.6,198.0L447.3,203.8L444.9,203.0L443.8,198.2L445.1,192.3L446.5,184.5L446.1,174.9L446.3,167.2ZM439.4,196.6L441.9,195.6L443.0,200.3L441.0,204.3L439.2,203.4ZM439.4,167.8L442.0,167.3L440.9,171.1L438.8,172.4ZM455.7,171.8L458.2,169.7L459.9,172.5L459.1,177.3L457.2,180.3L455.5,177.5ZM463.5,174.5L465.9,173.7L467.3,177.7L466.2,181.4L464.4,180.4ZM466.5,166.8L470.5,167.7L474.0,170.0L476.3,173.4L475.5,176.2L472.1,174.7L468.2,170.8ZM483.8,174.6L487.1,173.1L490.8,173.0L492.7,174.8L490.4,178.3L488.1,181.8L485.3,183.9L483.5,182.1L482.9,178.5ZM477.6,167.6L483.0,168.5L485.4,171.4L483.0,172.3L479.1,170.4ZM495.5,168.4L497.9,166.5L500.3,166.6L501.5,170.4L501.0,176.2L499.2,180.1L497.4,178.1L496.1,174.3ZM503.6,170.2L506.1,169.8L508.0,173.7L506.4,176.0ZM513.1,168.5L517.9,167.4L519.5,170.0L517.0,174.3L513.7,175.9L512.8,173.1ZM498.0,181.9L500.4,181.1L501.8,185.0L500.8,188.8L498.9,187.7ZM487.7,186.0L489.5,185.1L490.8,189.9L490.2,194.7L488.4,195.7L487.2,191.8ZM482.1,190.0L484.6,188.8L485.6,192.6L484.2,197.5L482.3,198.6L481.3,194.8ZM476.5,198.0L479.5,196.1L482.5,197.1L483.7,200.9L481.9,205.8L478.9,207.7L476.5,204.8ZM468.8,203.8L472.9,202.1L474.7,203.9L473.0,208.0L469.0,209.5L468.1,206.9ZM452.2,202.5L454.7,202.1L456.6,206.0L455.0,208.3ZM517.1,187.5L519.5,186.7L520.6,189.7L521.0,197.4L518.8,196.2ZM508.1,193.6L510.5,193.1L512.4,198.0L510.8,200.5ZM505.4,205.2L509.5,203.5L510.4,206.3L507.5,209.0L504.5,209.1ZM473.0,182.3L474.8,181.4L475.6,185.3L473.8,186.2ZM458.3,186.7L460.1,185.9L460.9,189.7L459.1,190.6ZM462.6,202.8L464.4,202.1L465.4,206.0L463.5,206.3ZM493.7,194.1L496.1,193.1L496.8,197.0L494.9,198.0ZM521.8,169.7L524.3,168.7L526.0,172.4L526.4,179.2L525.0,185.0L523.6,190.9L521.7,192.9L521.2,191.0ZM521.4,190.1L523.8,190.1L525.0,195.8L523.7,201.7L521.3,202.7ZM534.5,171.4L536.9,170.5L538.2,175.4L537.2,180.2L535.3,179.2ZM536.1,183.6L538.5,181.7L540.4,185.6L541.0,193.3L539.8,199.1L538.0,202.0L536.1,198.2L535.5,191.4ZM543.0,167.1L546.6,167.1L549.0,169.0L548.4,173.8L545.4,175.8L543.6,172.9ZM543.3,184.8L545.7,184.0L547.1,187.9L546.1,192.7L544.1,190.6ZM555.5,175.4L557.9,174.7L560.5,177.8L562.1,183.7L563.2,191.4L562.4,199.0L560.7,200.7L558.6,195.7L557.4,187.1L555.9,181.2ZM559.0,166.7L562.9,167.4L564.8,172.2L564.1,176.6L561.3,175.2L559.7,170.4ZM564.4,183.6L568.2,180.8L573.0,177.7L577.4,176.1L581.2,176.7L581.2,180.2L577.8,184.3L572.9,188.1L568.3,190.5L565.1,190.4L564.3,187.1ZM578.7,168.9L581.2,167.8L582.3,171.6L580.3,175.6L578.6,173.7ZM584.6,168.5L589.4,167.5L590.2,170.2L587.1,173.9L584.3,173.1ZM584.0,171.7L588.3,171.2L593.3,173.9L597.5,179.4L600.1,184.5L599.3,187.4L595.3,185.7L590.5,180.8L586.5,176.0ZM590.5,167.6L595.9,168.5L598.3,171.4L595.8,172.3L591.9,170.4ZM597.7,189.2L600.7,187.6L602.4,188.7L603.0,197.3L600.7,196.1L598.6,193.1ZM582.9,187.6L585.3,186.9L587.4,190.9L586.5,195.6L584.0,194.4ZM569.9,194.7L572.4,193.7L574.1,197.5L573.5,204.3L571.0,206.3L569.3,202.5ZM576.5,196.6L578.9,195.6L580.1,199.5L578.9,204.3L576.9,203.4ZM545.2,198.0L547.7,195.9L550.1,197.7L550.5,202.5L548.5,207.4L546.0,208.5L544.9,204.8ZM530.2,195.0L532.7,193.9L534.4,197.7L533.1,203.6L530.7,204.6L529.5,199.8ZM521.3,204.5L525.4,202.8L527.3,204.7L524.8,208.8L520.1,209.9ZM589.2,198.0L592.9,196.1L595.3,199.0L594.7,204.8L591.6,206.8L589.2,203.9ZM597.9,200.8L600.9,199.9L602.5,201.9L602.7,210.4L598.7,210.3ZM562.1,201.0L564.6,200.6L566.5,204.5L564.9,206.9ZM554.2,199.7L556.6,199.0L557.6,203.9L555.5,204.6ZM530.0,179.3L531.8,178.5L532.6,182.4L530.8,183.2ZM604.7,167.9L610.7,168.4L612.9,170.4L610.1,171.5L606.0,170.6ZM609.1,175.8L611.6,174.9L613.0,179.0L611.8,184.0L609.9,182.9ZM613.7,184.4L615.9,183.6L617.1,187.2L616.2,190.6L614.5,189.7ZM603.3,185.3L605.0,184.4L605.6,188.9L604.0,190.6ZM625.1,165.7L628.2,166.0L629.7,170.1L630.7,176.2L629.7,182.1L627.8,180.9L626.1,173.8ZM632.3,169.6L635.5,169.3L638.0,173.5L637.2,178.1L634.4,176.7ZM639.4,174.0L641.9,173.4L644.8,176.7L646.6,182.8L647.3,190.7L646.4,194.5L644.2,192.3L642.4,186.2L640.7,181.0ZM622.4,188.7L624.6,188.2L626.1,191.8L625.2,194.2L623.4,193.1ZM636.5,188.0L638.7,187.3L639.9,190.9L639.0,194.3L637.3,193.3ZM650.0,166.7L652.6,166.9L653.5,173.0L652.5,176.9L650.6,172.7ZM657.6,165.7L660.8,165.7L661.4,171.8L660.9,179.8L659.6,183.9L658.3,179.8L657.7,172.7ZM665.1,168.2L667.6,167.2L669.5,172.2L669.4,180.3L668.2,186.4L666.3,190.5L665.0,184.4L664.8,176.3ZM674.5,166.6L678.8,167.5L680.9,171.6L680.1,174.9L677.0,173.4ZM662.2,186.5L664.3,185.0L666.3,188.7L666.1,192.9L663.9,192.6ZM672.5,183.2L674.6,182.5L676.5,186.2L676.9,192.2L676.0,194.7L673.9,191.9ZM680.9,172.6L683.4,171.9L684.7,175.0L685.2,183.0L682.8,180.8ZM679.9,192.2L682.7,191.7L684.3,193.6L685.0,201.3L682.3,200.1ZM656.3,193.9L658.4,193.2L659.8,197.7L658.2,200.2L656.7,198.3ZM669.6,193.8L671.8,193.0L673.0,197.4L672.0,202.6L670.3,201.7ZM642.9,195.4L645.1,195.0L646.2,199.3L644.6,199.9ZM651.6,182.2L653.5,181.3L654.3,185.4L652.5,186.3ZM617.8,168.3L621.1,167.5L620.2,170.0L617.6,170.6ZM360.5,212.9L364.0,209.6L367.2,208.1L368.3,209.7L365.8,214.4L363.3,219.2L361.3,224.8L359.4,229.4L357.4,230.7L357.5,225.5L359.1,218.3ZM375.0,225.4L377.3,224.5L378.5,229.2L378.0,234.7L376.9,238.4L375.7,235.6L375.0,231.0ZM382.3,217.2L384.0,216.3L385.2,220.1L384.1,223.8L382.6,222.8ZM389.9,215.1L392.2,213.2L393.9,215.9L393.3,220.6L391.5,222.5L389.8,219.7ZM402.9,219.5L405.5,217.4L408.6,214.4L410.6,211.4L412.6,208.4L414.3,209.2L414.6,213.7L412.5,217.6L411.0,222.3L409.9,229.7L408.7,237.1L407.0,244.6L405.4,250.2L402.9,252.7L401.2,251.6L402.3,245.1L405.2,237.5L406.9,230.0L406.6,225.5L404.3,224.9L402.7,223.2ZM419.1,221.5L421.4,220.8L422.7,224.5L421.7,228.2L419.9,227.1ZM418.2,207.5L424.7,208.8L428.5,212.3L432.4,215.8L435.5,219.2L434.4,220.9L430.1,218.7L425.4,215.0L420.8,212.0ZM436.6,212.7L438.6,211.9L438.9,220.3L437.3,218.3ZM389.5,235.8L391.8,234.3L394.4,237.3L395.5,242.9L394.1,246.3L392.2,245.1L390.2,240.3ZM384.4,242.3L386.2,241.5L386.9,246.1L385.2,247.6ZM365.9,233.3L368.3,232.9L370.1,236.7L368.6,238.9ZM357.5,236.5L359.9,235.4L360.2,239.9L358.3,241.9L357.2,241.1ZM396.9,235.8L398.6,235.0L399.4,238.8L397.7,239.6ZM427.7,228.8L430.0,228.4L431.8,233.0L430.3,235.4ZM417.1,237.7L419.7,237.6L421.8,241.1L420.0,242.3ZM372.1,221.2L374.4,220.3L375.0,224.0L373.3,224.9ZM401.6,208.6L404.5,208.6L405.1,212.3L402.7,213.2ZM441.8,210.6L445.4,209.7L450.0,208.9L454.7,209.4L457.9,212.2L462.8,213.9L468.4,213.8L473.2,214.8L478.2,217.2L479.6,220.4L477.1,222.6L473.2,221.7L469.2,219.4L463.4,217.6L457.6,216.5L451.7,214.7L446.1,214.1L443.2,213.2ZM439.6,233.8L442.1,232.8L444.5,235.8L445.7,240.6L444.5,245.4L442.1,248.3L439.6,247.4ZM448.4,237.2L450.8,235.3L453.2,237.3L454.5,242.2L453.3,247.0L450.3,249.3L448.5,245.0ZM460.1,225.0L462.5,224.0L464.3,226.8L464.9,233.6L463.0,238.5L461.2,240.4L460.0,235.6ZM458.4,240.5L460.8,239.6L462.1,243.5L461.0,248.3L459.2,247.3ZM468.0,234.4L470.4,233.5L471.7,238.3L470.5,244.1L468.7,243.1ZM476.9,224.0L479.3,222.0L479.9,226.8L479.1,233.6L477.9,236.5L476.8,231.7ZM482.4,229.5L485.5,227.1L488.1,227.3L488.2,230.7L485.5,234.7L482.8,238.7L480.0,239.3L480.1,235.1ZM477.0,239.0L480.0,238.0L482.5,240.9L481.8,245.7L478.8,247.7L477.0,244.8ZM479.1,208.9L484.7,209.5L486.9,211.6L484.4,213.2L480.4,211.5ZM489.0,207.7L492.8,208.3L494.5,212.3L493.7,216.8L491.1,215.4ZM483.2,219.8L486.7,217.5L488.5,219.3L486.2,222.8L483.3,222.8ZM492.3,221.3L496.4,219.6L497.2,222.3L494.9,225.9L492.0,225.8ZM497.9,228.1L500.3,227.5L503.0,229.7L504.6,233.7L503.7,238.3L501.3,238.9L498.6,235.7ZM490.8,237.6L493.2,236.7L494.4,240.7L493.3,244.5L491.1,243.5ZM504.1,240.0L509.8,239.0L515.7,239.9L520.6,241.3L523.1,242.6L523.4,247.1L516.1,246.8L508.4,246.5L504.4,244.3ZM510.8,208.3L516.2,209.2L519.3,211.6L521.8,212.7L522.4,215.4L518.3,214.7L512.4,211.8ZM514.9,219.9L517.3,219.1L518.7,223.1L517.7,226.9L515.8,225.8ZM439.3,217.4L441.1,216.4L441.7,220.3L439.9,222.3ZM498.7,241.4L501.1,240.8L502.1,245.6L499.9,246.3ZM452.4,226.1L454.8,225.4L455.7,229.3L454.0,231.0ZM516.4,206.2L523.3,207.5L528.9,210.6L533.0,214.1L535.6,218.0L539.4,220.1L545.5,222.0L550.0,223.5L551.5,226.5L549.6,228.9L544.8,229.3L539.5,227.6L534.8,225.3L532.3,221.5L528.7,216.7L523.7,213.0L517.4,210.4ZM559.6,207.5L563.3,207.6L564.5,211.4L563.9,217.2L562.1,220.1L560.3,218.2L559.1,213.3ZM555.5,226.3L561.1,226.2L566.9,227.2L570.9,228.8L572.1,231.3L568.5,232.3L562.7,231.2L557.8,229.6ZM572.6,224.1L575.0,223.4L577.0,226.4L577.3,231.2L575.0,232.9L573.0,229.9ZM574.1,213.9L575.9,213.0L577.2,216.9L576.8,222.7L575.0,222.6ZM580.6,218.7L583.0,216.8L585.4,214.9L587.2,216.8L587.2,222.6L585.4,226.5L583.0,227.4L581.2,224.5ZM585.8,229.1L588.9,227.1L591.3,228.9L593.0,233.7L592.2,240.5L590.3,246.3L587.9,248.4L586.1,245.5L585.6,238.8ZM594.4,212.2L596.8,211.0L599.7,212.5L601.7,217.2L600.3,220.4L597.4,218.9ZM565.4,237.4L567.8,236.6L569.7,239.5L569.2,245.3L566.8,246.2L565.5,242.2ZM543.0,236.7L545.5,236.2L547.9,240.3L547.0,243.8L544.3,242.4ZM535.3,237.6L537.7,236.8L539.0,240.7L537.9,244.5L535.8,243.4ZM525.6,235.6L528.0,234.9L528.9,238.8L527.2,240.5ZM521.2,228.5L524.5,227.0L524.6,229.9L521.1,232.2ZM595.4,237.4L597.8,236.7L599.9,240.7L599.0,245.4L596.5,244.2ZM546.5,208.8L552.1,209.4L553.3,211.3L549.7,211.6ZM601.2,240.5L602.8,239.5L602.8,248.6L601.3,247.3ZM603.6,226.8L605.8,225.0L606.9,232.0L606.2,244.3L603.5,246.1ZM610.0,214.0L613.0,213.0L616.0,222.0L616.0,234.0L612.0,234.0L610.0,224.0ZM619.0,206.0L623.0,205.0L625.0,212.0L624.0,217.0L620.0,216.0ZM620.0,221.0L624.0,220.0L627.0,230.0L627.0,239.0L623.0,239.0L621.0,230.0ZM629.0,223.0L633.0,222.0L637.0,228.0L636.0,234.0L631.0,233.0ZM640.0,205.0L645.0,205.0L646.0,210.0L641.0,210.0ZM662.0,214.0L668.0,212.0L675.0,214.0L674.0,219.0L666.0,219.0ZM663.0,225.0L668.0,224.0L673.0,228.0L672.0,234.0L665.0,233.0ZM651.0,230.0L656.0,229.0L660.0,234.0L658.0,238.0L652.0,237.0ZM675.0,221.0L680.0,220.0L682.0,226.0L679.0,229.0L676.0,228.0ZM642.0,216.0L646.0,215.0L648.0,220.0L645.0,222.0ZM603.0,234.0L606.0,232.0L607.0,247.5L603.0,247.5ZM608.0,245.0L620.0,245.0L620.0,247.5L608.0,247.5ZM650.0,245.0L660.0,245.0L660.0,247.5L650.0,247.5ZM672.0,245.0L685.0,245.0L685.0,247.5L672.0,247.5ZM438.0,124.0L444.0,118.0L451.0,115.0L450.0,119.0L444.0,125.0L439.0,126.0ZM446.0,96.0L450.0,89.0L455.0,86.0L460.0,87.0L457.0,94.0L451.0,100.0L447.0,100.0ZM463.0,106.0L468.0,101.0L474.0,99.0L474.0,103.0L469.0,108.0L464.0,108.0ZM461.0,150.0L466.0,143.0L472.0,139.0L474.0,143.0L470.0,150.0L464.0,154.0ZM357.0,112.0L362.0,110.0L366.0,113.0L363.0,118.0L357.0,118.0Z" fill="#f2ee3c" stroke="#f2ee3c" stroke-width="0" stroke-linejoin="round"/>
</g>
<path d="M617.6,70.0L617.9,71.5M564.1,97.7L564.4,99.6M415.5,147.2L414.3,148.6M399.8,152.9L398.9,155.1M629.7,232.8L627.9,234.5M665.0,140.7L664.9,142.2M462.1,92.2L463.2,93.4M417.3,28.3L417.0,30.3M622.1,180.5L618.9,181.3M393.7,164.4L392.5,164.7M400.8,8.1L403.7,9.9M644.8,38.8L646.1,38.8M641.1,81.9L640.6,83.7M495.6,158.9L494.4,159.1M495.8,177.4L493.8,178.9M448.2,9.8L450.0,11.3M650.8,146.6L650.2,148.5M603.0,239.4L603.2,242.0M531.7,65.8L530.6,66.1M495.1,228.5L494.6,230.5M426.3,93.9L424.4,95.8M560.2,235.0L560.9,236.6M561.9,229.6L560.0,232.1M629.1,8.7L628.4,10.1M581.0,195.7L579.8,196.5M480.2,41.7L477.9,43.2M541.0,137.1L539.6,138.6M416.9,236.1L415.2,237.5M541.0,54.1L541.8,54.9M574.2,201.9L575.2,203.0M499.4,72.7L498.2,73.8M443.4,102.2L440.9,103.4M393.9,37.9L396.5,38.4M570.5,43.4L572.5,45.8M374.3,181.8L372.0,183.2M462.6,184.2L460.3,184.8M562.6,150.2L559.3,151.0M573.9,122.7L575.9,123.5M495.9,169.0L495.9,170.6M422.7,185.4L422.1,188.2M419.6,112.5L421.0,113.0M472.2,70.9L470.9,71.1M525.8,26.4L524.6,26.9M637.7,80.5L638.2,81.6M563.1,20.6L561.9,22.6M447.6,162.1L446.9,163.0M657.8,216.6L655.2,218.6M469.2,33.9L469.9,37.1M580.9,29.6L578.8,31.7M509.1,161.8L507.2,162.6M617.0,142.2L614.5,144.1M405.7,49.1L405.2,50.9M454.2,2.4L454.8,5.8M490.5,55.4L491.5,57.7M365.7,44.5L365.6,46.4M583.3,35.3L586.6,35.9M603.5,160.3L603.0,161.7M406.5,111.6L405.3,113.5M521.9,23.3L520.4,23.5M485.5,200.3L483.6,200.6M504.9,208.2L504.9,209.5M427.6,86.5L428.7,86.5M650.9,207.0L649.4,207.9M470.3,232.8L472.3,233.1M477.2,184.0L475.3,186.9M675.2,151.8L672.8,152.4M423.6,126.8L425.8,129.3M620.5,27.8L619.3,30.1M610.1,39.1L609.8,40.3M496.5,91.3L497.3,93.1M525.8,30.5L525.7,31.7M586.8,12.3L586.9,13.3M614.2,233.2L612.7,234.8M507.8,188.1L509.6,188.5M514.5,45.3L514.7,47.1M402.5,147.0L402.8,148.3M532.6,58.2L532.2,60.0M591.6,150.0L593.5,150.0M607.0,85.2L604.6,87.3M660.4,186.3L660.9,188.5M384.2,74.7L386.3,76.9M615.2,157.1L613.7,158.5M565.7,90.9L568.0,91.0M645.7,125.1L643.8,125.7M440.1,41.9L440.4,43.7M394.6,80.1L391.6,80.5M495.0,60.4L495.0,62.2M560.6,71.1L559.5,73.8M449.2,56.8L448.7,59.2M646.0,201.2L646.2,203.4M614.5,144.0L616.3,144.7M395.9,166.7L393.9,168.3M373.6,102.8L376.3,102.9M604.2,52.5L603.5,53.4M403.5,229.3L405.5,230.9M663.3,190.0L663.6,192.1M489.7,41.0L488.0,42.5M606.9,120.4L608.1,121.5M395.8,178.6L395.8,180.5M676.7,92.2L677.4,93.6M448.2,63.6L448.1,65.6M510.5,206.7L511.7,209.0M525.2,233.6L524.2,236.8M474.2,50.2L476.6,52.1M394.9,74.6L393.9,75.1M586.4,98.8L589.0,101.0M637.8,55.4L640.0,56.4M380.6,234.0L381.5,235.5M375.3,122.5L375.0,123.8M588.2,128.4L585.4,130.2M642.1,109.9L643.3,112.2M490.1,114.6L491.1,115.5M392.4,158.2L389.0,159.2M443.8,53.8L445.0,54.2M625.9,87.8L626.5,89.1M587.4,50.6L586.3,50.7M660.8,102.9L661.2,105.1M435.1,226.4L434.9,228.8M643.6,164.9L642.4,165.6M455.2,55.0L455.2,56.7M651.0,54.1L651.7,56.0M461.2,175.5L461.2,178.5M473.4,207.6L471.7,208.6M663.4,229.6L665.3,231.1M643.5,59.5L641.9,60.2M627.8,95.8L624.6,96.4M481.9,5.9L481.0,8.2M453.8,226.3L454.3,228.6M430.9,181.7L430.7,183.1M663.9,71.2L666.5,72.3M494.5,199.4L495.0,201.7M592.3,217.0L593.4,217.6M515.3,40.9L513.8,42.0M473.3,24.1L474.5,25.6M443.2,54.4L444.9,56.6M397.5,126.7L397.0,127.7M625.2,188.4L626.0,189.2M379.6,217.1L382.1,217.4M549.0,163.5L549.3,165.6M508.4,188.4L509.9,189.0M519.3,104.5L518.6,106.3M675.0,56.1L674.0,56.4M623.1,28.2L624.4,29.8M655.5,34.8L655.4,37.8M518.6,180.2L515.6,180.3M439.3,82.0L438.8,84.8M679.6,210.0L677.7,211.6M591.0,216.2L589.8,217.0M432.0,103.1L430.2,103.3M624.8,74.6L622.9,77.1M681.7,142.7L681.3,144.1M634.6,55.0L637.5,56.2M527.1,115.7L529.8,117.6M581.8,213.9L582.6,216.0M523.5,26.4L526.0,26.5M475.5,208.6L473.5,210.4M545.9,61.6L545.2,64.2M440.1,117.2L442.7,117.8M499.8,56.0L497.9,58.4M428.9,4.1L428.0,7.4M386.1,198.5L385.2,201.1M359.5,100.5L362.9,100.9M681.5,176.4L680.6,179.2M399.6,243.2L400.4,245.2M361.6,23.5L360.1,23.9M522.7,180.3L521.3,181.9M583.0,207.0L584.6,208.2M546.1,172.4L545.9,173.5M438.1,90.7L435.8,91.7M444.9,140.9L447.0,143.6M584.6,218.0L585.0,219.2M616.9,47.5L614.3,48.8M640.6,143.1L640.2,144.1M447.5,33.1L449.8,33.5M376.8,124.4L378.1,125.1M620.2,243.6L619.2,245.9M416.3,107.4L415.2,107.8M480.7,62.8L481.7,63.7M598.3,86.6L596.5,86.7M589.6,92.5L588.7,93.3M680.3,63.8L679.1,65.1M361.3,134.9L364.1,136.0M427.6,14.9L427.3,17.4M565.9,177.9L569.1,178.4M621.1,186.2L622.8,186.3M423.6,218.5L424.9,220.0M424.5,182.0L426.5,182.8M603.4,91.5L605.1,93.0M420.0,181.0L418.6,181.9M372.0,94.9L375.1,95.1M669.8,147.4L669.6,149.9M476.2,134.4L475.1,137.3M453.9,39.3L454.1,40.4M460.4,127.9L458.1,129.0M682.4,195.5L679.2,195.6M465.7,46.6L464.0,48.9M491.3,202.9L489.9,205.6M358.3,208.5L356.9,209.1M633.9,67.6L631.1,69.0M628.3,26.5L630.3,27.9M436.9,96.5L433.7,97.0M411.3,44.2L409.4,45.7M359.4,238.0L360.4,238.6M646.1,205.2L648.4,206.0M667.8,246.6L664.8,247.5M665.2,100.1L663.3,102.6M627.3,149.0L624.8,150.4M660.2,224.9L658.9,225.5M467.6,124.6L469.3,124.6M642.9,240.8L643.0,243.1M394.5,134.8L392.8,135.2M572.1,202.2L572.4,204.3M590.7,46.6L591.4,48.0M379.3,62.7L376.8,64.2M489.3,31.0L489.2,32.7M563.2,212.2L563.9,213.8M628.8,212.3L627.8,213.8M662.2,19.5L659.4,19.6M378.6,44.3L375.9,46.3M390.5,154.4L388.1,155.6M660.9,217.9L661.9,218.5M651.4,63.5L648.2,64.8M482.9,190.3L484.7,191.7M396.4,156.5L398.3,157.4M365.3,241.7L364.6,243.5M430.8,194.0L430.9,196.4M370.5,91.6L370.9,94.7M424.1,15.3L423.9,16.8M369.5,29.4L369.6,31.5M443.0,175.7L444.8,176.0M520.4,63.5L518.6,63.7M506.6,235.1L506.5,236.7M514.0,245.4L512.4,246.3M380.7,229.3L381.4,230.2M494.2,188.9L495.3,191.7M665.8,167.6L663.5,168.5M383.8,168.2L385.9,170.3M651.7,117.3L651.0,118.2M546.2,164.8L545.1,165.1M421.9,188.7L421.1,190.7M676.2,21.0L675.0,21.5M435.0,164.3L437.9,164.7M458.4,197.5L457.9,199.0M617.0,227.7L616.0,228.4M501.9,19.6L502.2,21.3M531.7,214.6L529.6,216.8M375.0,121.0L375.8,123.8M648.7,5.4L647.0,6.2M368.0,153.4L367.6,156.8M621.7,117.3L619.2,119.4M527.0,80.2L525.6,83.0M589.3,154.2L591.8,155.6M553.5,180.0L553.6,181.1M439.7,148.0L441.3,148.9M490.6,38.0L492.0,39.6M655.4,179.1L657.3,179.7M623.3,2.9L621.6,5.1M438.8,6.6L439.8,8.1M573.8,21.9L576.2,23.3M369.7,148.3L370.4,150.0M492.3,86.2L489.7,88.1M544.4,170.7L543.3,171.3M511.9,9.4L509.6,11.7M402.0,106.0L401.2,108.2M374.2,102.6L375.4,104.8M650.0,22.1L649.7,24.2M483.7,50.3L483.9,51.6M578.9,75.5L577.5,76.2M427.3,48.7L425.3,51.0M642.3,129.0L641.5,130.7M533.6,31.1L531.7,31.9M514.7,28.4L514.6,29.9M679.4,21.6L679.9,22.7M421.9,126.2L424.4,126.7M553.1,189.8L554.3,192.1M468.4,171.8L467.0,171.8M580.0,198.1L580.8,198.9M525.4,127.2L524.4,129.9M466.9,200.1L465.9,201.4M434.4,113.8L431.6,115.1M531.3,131.6L531.4,134.5M364.4,175.6L364.3,178.0M637.4,28.6L637.3,32.0M436.4,153.3L438.3,155.5M565.8,37.6L567.5,38.4M504.0,198.4L501.6,198.8M387.1,115.9L386.0,116.1M502.2,68.3L501.5,69.7M371.8,48.5L371.7,50.5M634.4,54.4L632.9,57.4M364.7,123.3L366.2,124.5M440.6,187.8L443.0,190.3M425.1,75.3L424.5,76.5M414.3,84.2L412.8,86.9M550.8,72.2L550.1,75.6M476.9,31.6L479.0,31.8M668.8,232.9L667.9,234.2M480.5,54.5L481.0,57.4M366.2,130.3L368.2,131.9M615.2,189.4L616.7,192.2M360.4,75.4L362.8,76.7M515.0,150.9L516.2,151.1M603.8,162.0L601.8,162.5M553.6,108.3L552.0,109.0M517.9,195.2L518.7,197.1M389.5,237.5L389.5,239.7M410.8,103.3L411.5,104.6M476.1,89.8L475.6,90.9M681.6,209.8L683.7,209.8M599.4,13.4L596.2,14.6M380.5,82.7L378.8,82.9M597.7,199.6L599.9,199.7M463.9,204.8L466.5,205.5M364.9,150.5L365.1,153.8M681.2,203.9L680.1,205.5M552.2,106.3L549.8,108.8M573.3,38.8L572.9,41.1M650.8,81.1L651.7,83.7M555.5,123.7L555.0,125.2M386.6,109.0L386.3,111.8M488.9,85.6L485.7,86.1M425.4,212.1L426.0,213.1M619.3,132.3L617.2,132.8M370.9,99.0L370.0,100.2M573.2,59.2L572.7,60.1M588.6,52.3L589.8,55.5M392.8,22.3L389.8,22.6M542.9,130.9L543.2,133.5M624.5,36.3L625.5,38.3M409.6,28.9L408.1,32.0M623.3,79.8L625.0,82.9M625.8,149.3L627.1,149.6M602.9,93.1L602.3,94.3M581.0,129.1L582.2,129.5M439.0,98.3L438.6,101.7M419.2,50.6L419.0,52.1M358.3,126.2L359.1,128.8M524.0,21.4L524.2,22.6M383.5,213.0L380.2,214.0M597.4,152.4L597.4,154.8M461.2,215.3L461.6,218.6M476.0,63.7L474.8,66.2M515.2,57.3L517.7,58.0M400.9,209.0L401.3,211.8M444.5,224.2L447.0,226.6M377.0,182.4L379.0,185.1M555.3,181.6L554.9,184.5M450.2,95.8L449.7,96.8M450.8,51.7L452.2,52.5M365.0,138.5L365.7,141.2M672.8,148.3L671.3,151.1M673.6,111.7L671.7,112.5M508.6,65.5L507.4,66.7M459.0,112.3L462.0,112.5M358.7,36.1L355.9,37.1M363.9,57.2L364.2,58.2M434.4,88.2L433.2,88.2M586.3,55.2L585.9,56.1M602.4,229.1L605.7,229.7M639.0,78.8L639.0,79.8M416.2,17.2L416.9,18.6M379.3,19.0L380.2,19.7M401.5,207.8L401.8,209.0M640.7,45.6L641.5,46.3M632.0,112.1L631.4,114.3M637.7,223.4L635.8,224.7M586.6,56.4L584.6,57.4M366.3,84.4L364.6,84.7M396.1,243.3L396.6,245.7M474.9,66.1L476.6,68.9M517.6,177.0L517.0,178.5M653.7,227.6L654.7,228.1M596.0,40.3L593.9,41.2M526.4,70.3L526.1,72.1M363.6,134.0L361.1,135.1M509.1,211.0L510.6,211.2M476.3,9.0L479.1,9.9M510.0,162.8L512.7,164.6M658.6,86.0L660.2,87.1M451.2,96.3L449.6,98.7M653.2,153.4L651.0,154.7M382.6,45.7L383.5,46.6M442.9,166.6L441.4,168.1M536.6,159.7L535.4,161.4M476.3,130.6L476.0,131.9M508.4,125.8L507.2,126.9M672.0,179.3L671.1,181.4M412.5,86.2L413.7,88.0M381.5,9.1L380.5,9.1M456.3,102.4L454.5,102.4M452.3,120.9L451.1,123.8M584.6,22.1L581.5,23.0M392.7,203.6L389.7,204.5M663.1,77.6L661.9,80.3M631.2,150.8L628.7,151.7M482.4,234.3L482.7,235.5M657.7,93.6L655.2,95.6M612.7,171.2L613.9,173.2M485.6,200.4L486.8,202.2M612.1,30.9L610.3,32.4M578.2,168.9L580.5,171.2M559.7,90.8L561.1,91.3M368.0,74.8L369.0,75.2M373.8,28.6L374.8,29.4M457.0,29.4L459.2,30.6M479.2,170.0L481.2,171.7M448.8,108.1L449.7,109.0M683.1,67.0L685.7,67.0M374.9,28.5L376.0,29.5M478.6,84.6L480.3,87.0M483.0,222.3L481.1,224.9M499.2,84.6L498.3,87.9M384.0,169.7L382.0,170.9M396.8,246.1L398.5,249.0M512.8,31.9L512.6,33.7M459.5,221.0L457.2,221.8M572.0,164.7L572.5,167.6M557.4,245.2L554.8,247.1M368.4,117.6L370.0,118.4M380.8,214.8L381.1,217.1M628.7,191.5L627.7,192.0M390.6,118.1L389.7,121.4M471.7,37.2L472.7,38.1M601.0,136.0L603.1,138.1M481.1,51.7L484.0,52.4M630.8,177.1L627.4,177.5M358.8,35.5L358.7,37.8M471.8,55.5L474.1,58.1M519.7,105.7L517.8,107.8M618.9,194.6L619.8,195.9M520.6,183.1L522.8,185.5M396.5,60.1L397.0,61.5M399.0,80.1L401.5,80.1M537.6,38.2L536.2,39.7M536.6,219.2L536.6,220.5M467.2,41.1L465.7,41.7M379.6,112.8L381.1,115.3M363.9,57.9L364.6,59.0M526.6,222.0L524.2,222.6M359.5,159.0L361.6,160.1M560.7,234.1L560.4,235.7M384.8,186.8L385.6,188.3M535.1,167.3L534.8,168.3M632.7,164.9L630.3,165.9M571.9,68.6L573.5,71.5M459.4,225.5L460.9,227.1M673.4,159.7L673.3,160.7M486.8,34.3L486.0,37.7M443.0,230.6L441.7,231.0M646.8,177.1L648.0,177.8M557.5,215.3L559.2,217.7M567.7,34.3L566.6,35.7M411.1,115.6L414.3,115.9M370.4,244.1L367.2,244.3M551.5,244.8L553.4,245.1M513.5,42.3L511.8,44.8M502.7,16.1L504.3,18.9M679.2,97.7L682.4,97.9M588.2,13.0L588.2,14.9M682.9,143.2L680.9,143.6M469.7,132.9L471.6,133.4M461.2,46.5L459.1,47.7M592.4,151.1L593.7,152.2M417.3,156.9L418.0,158.0M627.3,35.7L625.4,35.8M576.8,243.2L579.1,245.4M465.7,133.5L466.0,135.8M580.8,189.9L581.8,192.5M644.1,127.3L644.3,129.5M416.5,151.5L417.8,153.0M661.3,73.3L662.6,75.6M554.2,210.9L555.7,211.6M414.1,37.3L415.1,40.0M630.3,51.6L629.4,52.8M504.5,34.0L506.7,36.0M593.1,124.4L591.9,124.8M453.2,168.2L455.2,169.1M496.7,46.3L497.7,47.6M535.4,85.8L535.0,87.6M594.1,216.7L593.0,219.6M510.0,24.3L508.6,24.8M380.3,185.8L382.5,186.5M497.2,16.0L497.4,17.3M586.2,208.4L586.8,210.7M486.7,149.8L485.1,150.0M553.1,7.2L552.0,7.5M497.4,92.7L497.1,94.3M417.6,131.7L414.7,133.6M492.3,63.0L493.0,64.1M642.0,199.3L645.0,200.6M520.5,147.4L519.4,150.1M426.9,89.4L426.5,91.9M592.9,58.2L595.1,59.8M498.2,241.7L494.8,242.2M679.0,219.8L678.1,220.4M618.1,208.6L619.2,209.3M652.1,46.2L654.0,46.5M470.7,77.3L472.5,78.4M633.5,10.9L633.7,14.2M622.4,10.1L622.1,11.5" stroke="#14142a" stroke-opacity="0.5" stroke-width="0.9" stroke-linecap="round" fill="none"/>
<path d="M484.0,60.0L488.0,58.0L491.0,60.0L492.0,65.0L491.0,71.0L488.0,74.0L485.0,73.0L483.0,67.0ZM603.0,144.6L607.4,143.2L611.8,146.1L612.5,153.5L609.6,157.1L604.5,156.4L603.0,153.5Z" fill="#0a0a14" fill-opacity="0.92" filter="url(#bl2)"/>
<path d="M526.0,232.0L535.0,229.0L545.0,230.0L550.0,236.0L548.0,245.0L538.0,247.5L528.0,247.5ZM550.0,233.0L558.0,231.0L565.0,234.0L566.0,242.0L560.0,247.5L551.0,247.5ZM566.0,232.0L572.0,230.0L575.0,236.0L571.0,241.0L566.0,239.0ZM497.0,4.0L520.0,4.0L518.0,8.0L505.0,10.0L498.0,8.0ZM559.0,4.0L571.0,4.0L569.0,10.0L561.0,10.0ZM398.0,4.0L450.0,4.0L449.0,8.0L430.0,10.0L410.0,11.0L398.0,10.0ZM480.0,4.0L521.0,4.0L520.0,8.0L495.0,9.0L482.0,7.0Z" fill="#101018" fill-opacity="0.7" filter="url(#bl2)"/>
</g>
<rect x="607.2" y="203.4" width="77.8" height="42.2" fill="#fff" fill-opacity="0.75"/>
<text x="646" y="222.6" text-anchor="middle" font-family="Liberation Sans" font-weight="bold" font-size="10.5" fill="#000">5 µm</text>
<rect x="620.8" y="239" width="50.4" height="4.7" fill="#000"/>
<rect x="645.4" y="6.8" width="35.3" height="30.8" fill="#fff" stroke="#000" stroke-width="1.6"/>
<text x="663.6" y="29.6" text-anchor="middle" font-family="Liberation Sans" font-size="18.6" fill="#000" stroke="#000" stroke-width="0.3">b)</text>
</svg>
</body></html>
